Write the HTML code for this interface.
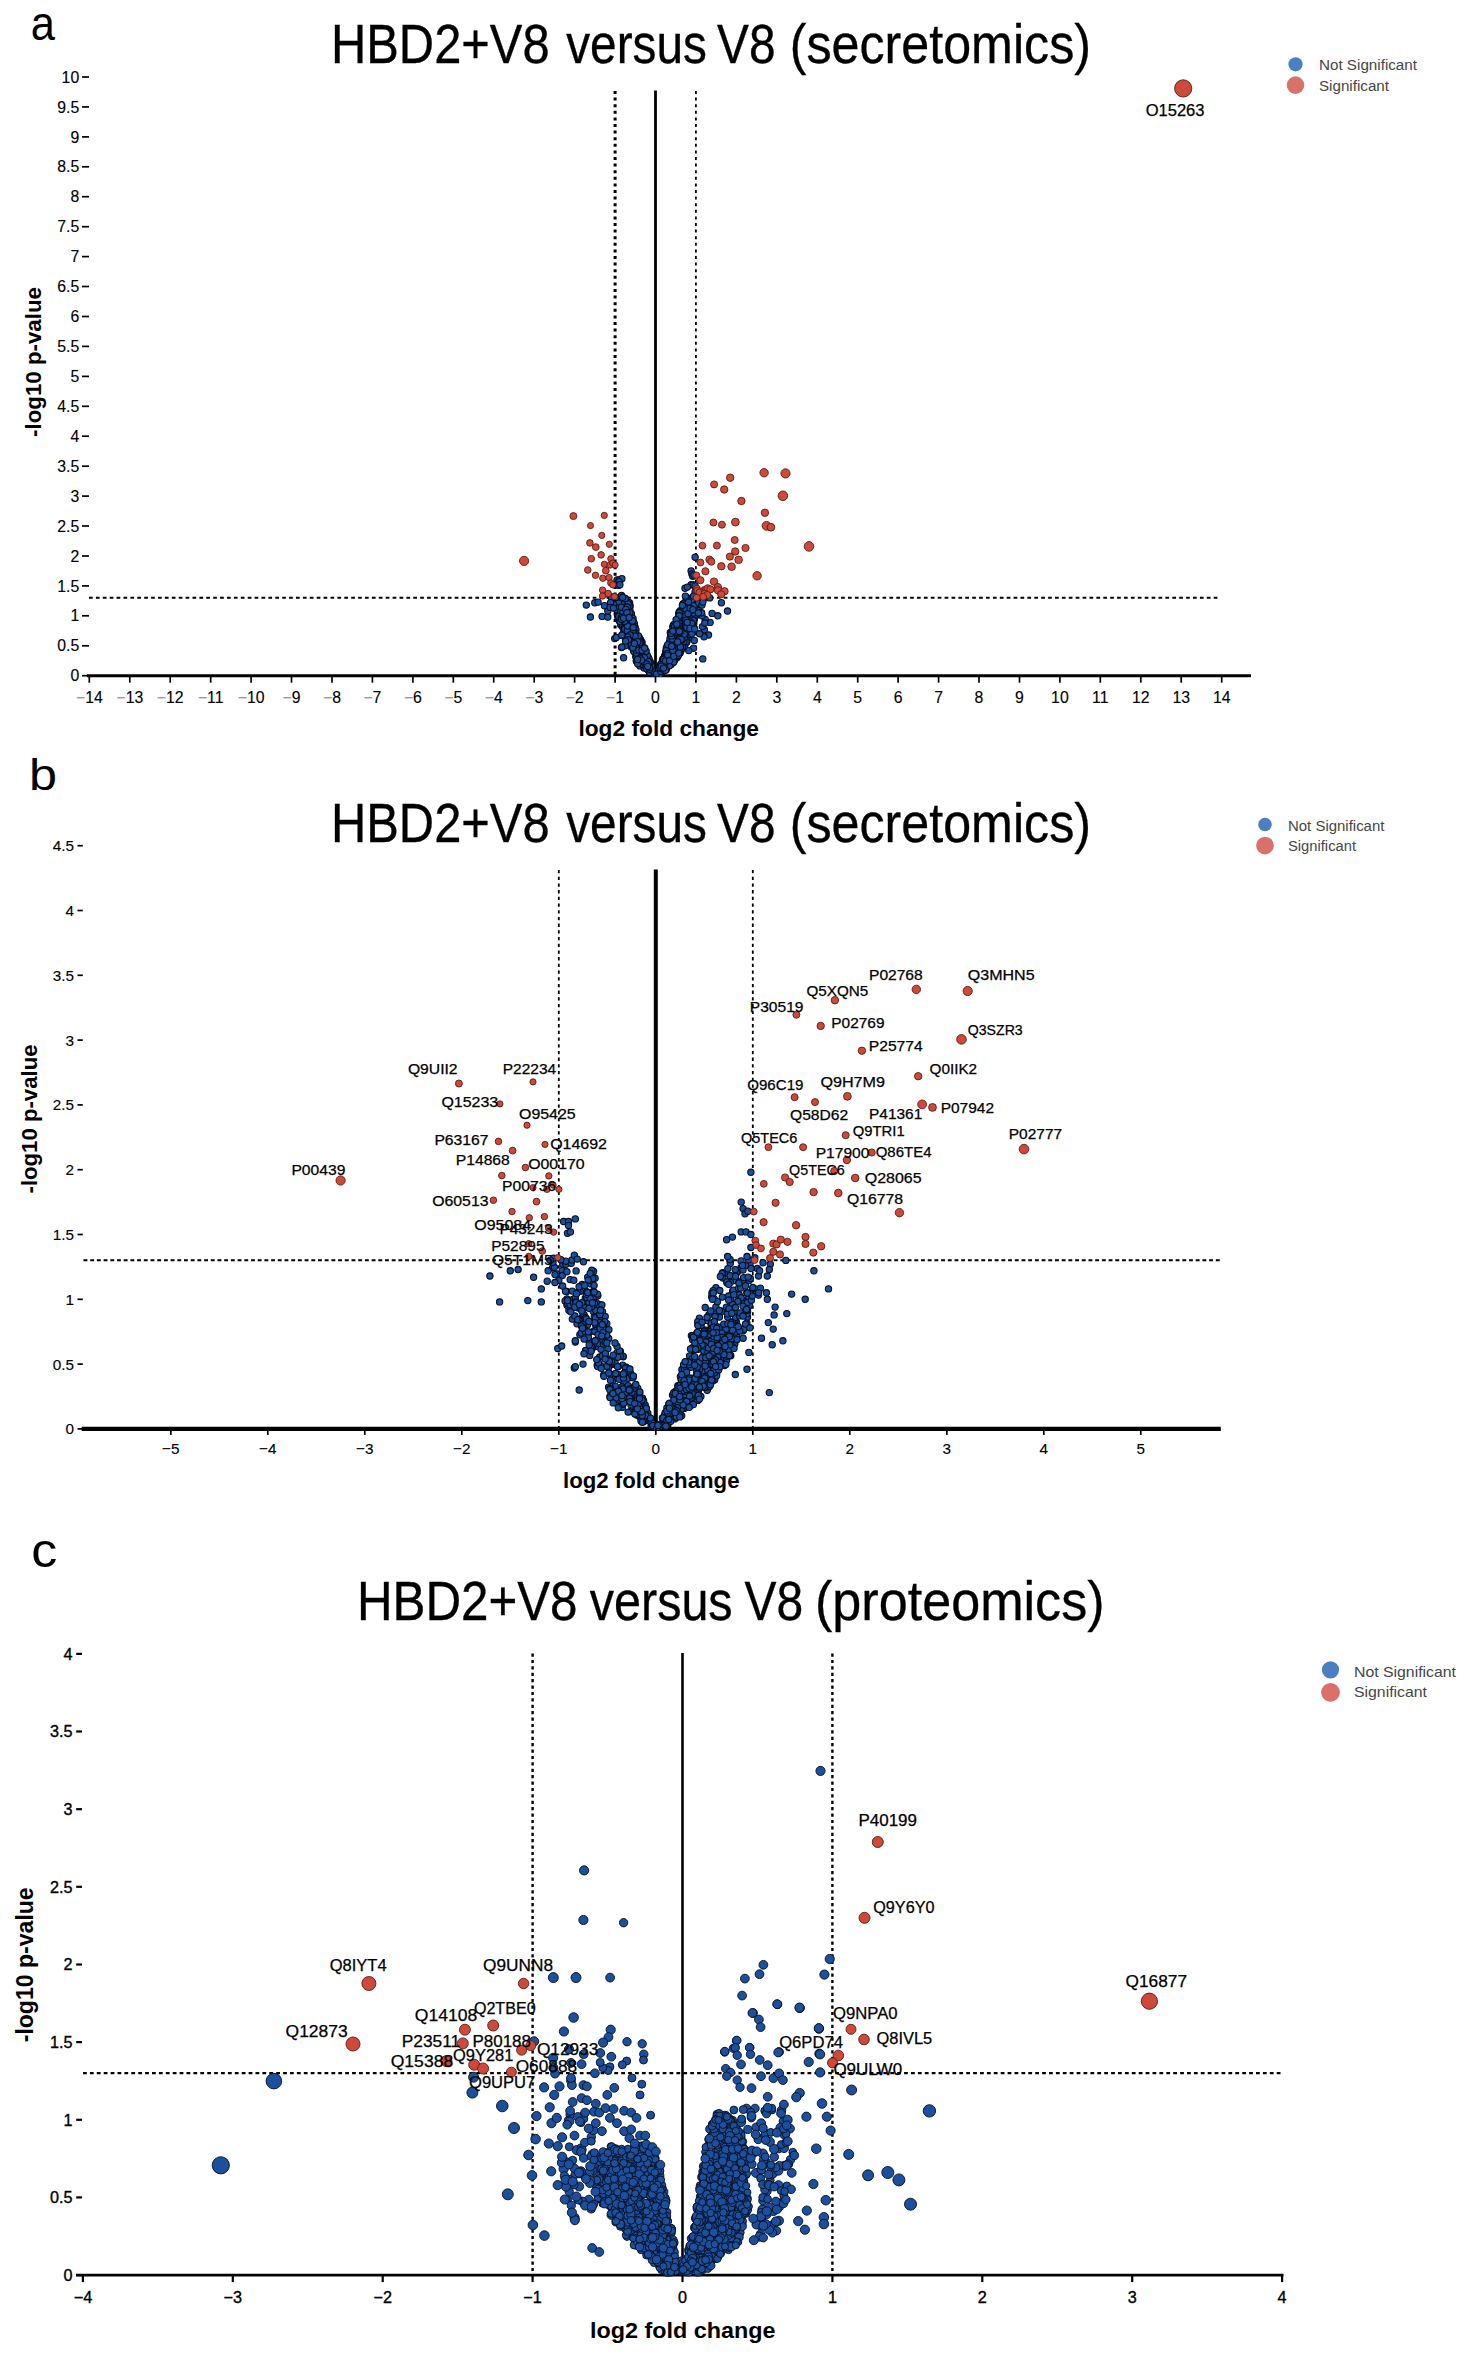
<!DOCTYPE html>
<html><head><meta charset="utf-8"><style>
html,body{margin:0;padding:0;background:#fff;}
svg text{font-family:"Liberation Sans", sans-serif;}
</style></head><body>
<svg width="1469" height="2362" viewBox="0 0 1469 2362" style="display:block">
<rect width="1469" height="2362" fill="#fff"/>
<defs><clipPath id="clipA"><rect x="0" y="0" width="1469" height="677.1"/></clipPath><clipPath id="clipB"><rect x="0" y="0" width="1469" height="1430.3"/></clipPath><clipPath id="clipC"><rect x="0" y="0" width="1469" height="2276.5"/></clipPath></defs>
<line x1="615.1" y1="91" x2="615.1" y2="675.7" stroke="#000" stroke-width="3" stroke-dasharray="3 3.6"/>
<line x1="695.9" y1="91" x2="695.9" y2="675.7" stroke="#000" stroke-width="1.8" stroke-dasharray="3 3.6"/>
<line x1="655.5" y1="90.5" x2="655.5" y2="675.7" stroke="#000" stroke-width="2.8"/>
<line x1="89" y1="597.8" x2="1220" y2="597.8" stroke="#000" stroke-width="2" stroke-dasharray="3.7 3.2"/>
<line x1="87" y1="675.7" x2="1251" y2="675.7" stroke="#000" stroke-width="2.9"/>
<line x1="558.8" y1="870" x2="558.8" y2="1428.9" stroke="#000" stroke-width="1.8" stroke-dasharray="3.3 3.4"/>
<line x1="752.8" y1="870" x2="752.8" y2="1428.9" stroke="#000" stroke-width="1.8" stroke-dasharray="3.3 3.4"/>
<line x1="655.8" y1="869.5" x2="655.8" y2="1428.9" stroke="#000" stroke-width="4"/>
<line x1="83.5" y1="1260.3" x2="1220" y2="1260.3" stroke="#000" stroke-width="2" stroke-dasharray="3.9 2.8"/>
<line x1="81.7" y1="1428.9" x2="1220.8" y2="1428.9" stroke="#000" stroke-width="4.3"/>
<line x1="532.6" y1="1653.5" x2="532.6" y2="2275.1" stroke="#000" stroke-width="2.4" stroke-dasharray="3.2 3.2"/>
<line x1="832.4" y1="1653.5" x2="832.4" y2="2275.1" stroke="#000" stroke-width="2.4" stroke-dasharray="3.2 3.2"/>
<line x1="682.5" y1="1653.0" x2="682.5" y2="2275.1" stroke="#000" stroke-width="2.6"/>
<line x1="83" y1="2073.1" x2="1282" y2="2073.1" stroke="#000" stroke-width="2.4" stroke-dasharray="3.8 3.1"/>
<line x1="76" y1="2275.1" x2="1283.5" y2="2275.1" stroke="#000" stroke-width="2.6"/>
<g clip-path="url(#clipA)" fill="#1c4f9c" stroke="#050f22" stroke-width="1.1"><circle cx="627.6" cy="639.9" r="3.15"/><circle cx="632.6" cy="638.9" r="3.15"/><circle cx="641.9" cy="661.1" r="3.15"/><circle cx="628.1" cy="613.0" r="3.15"/><circle cx="619.3" cy="620.9" r="3.15"/><circle cx="635.1" cy="627.1" r="3.15"/><circle cx="635.9" cy="633.9" r="3.15"/><circle cx="642.7" cy="656.6" r="3.15"/><circle cx="626.2" cy="639.6" r="3.15"/><circle cx="630.8" cy="619.8" r="3.15"/><circle cx="637.0" cy="652.9" r="3.15"/><circle cx="628.4" cy="608.7" r="3.15"/><circle cx="631.3" cy="614.2" r="3.15"/><circle cx="629.6" cy="615.8" r="3.15"/><circle cx="644.8" cy="667.7" r="3.15"/><circle cx="644.7" cy="661.7" r="3.15"/><circle cx="649.9" cy="666.5" r="3.15"/><circle cx="618.4" cy="612.2" r="3.15"/><circle cx="637.9" cy="659.0" r="3.15"/><circle cx="620.7" cy="625.0" r="3.15"/><circle cx="639.0" cy="658.8" r="3.15"/><circle cx="644.9" cy="649.7" r="3.15"/><circle cx="631.1" cy="646.3" r="3.15"/><circle cx="628.8" cy="607.2" r="3.15"/><circle cx="638.6" cy="656.0" r="3.15"/><circle cx="612.4" cy="601.4" r="3.15"/><circle cx="641.9" cy="642.4" r="3.15"/><circle cx="616.7" cy="599.6" r="3.15"/><circle cx="633.9" cy="628.6" r="3.15"/><circle cx="630.6" cy="618.8" r="3.15"/><circle cx="622.7" cy="627.2" r="3.15"/><circle cx="646.4" cy="659.6" r="3.15"/><circle cx="639.3" cy="640.5" r="3.15"/><circle cx="640.3" cy="665.3" r="3.15"/><circle cx="651.1" cy="664.6" r="3.15"/><circle cx="618.0" cy="599.6" r="3.15"/><circle cx="627.5" cy="626.3" r="3.15"/><circle cx="627.1" cy="627.6" r="3.15"/><circle cx="622.5" cy="618.2" r="3.15"/><circle cx="624.9" cy="629.8" r="3.15"/><circle cx="630.3" cy="637.7" r="3.15"/><circle cx="629.6" cy="603.0" r="3.15"/><circle cx="637.3" cy="659.7" r="3.15"/><circle cx="621.8" cy="623.5" r="3.15"/><circle cx="638.9" cy="660.0" r="3.15"/><circle cx="640.0" cy="650.7" r="3.15"/><circle cx="641.9" cy="653.8" r="3.15"/><circle cx="642.4" cy="654.0" r="3.15"/><circle cx="631.3" cy="626.2" r="3.15"/><circle cx="640.7" cy="639.9" r="3.15"/><circle cx="619.8" cy="606.7" r="3.15"/><circle cx="626.0" cy="630.6" r="3.15"/><circle cx="653.5" cy="674.2" r="3.15"/><circle cx="648.0" cy="656.9" r="3.15"/><circle cx="626.7" cy="626.0" r="3.15"/><circle cx="647.7" cy="659.9" r="3.15"/><circle cx="630.1" cy="619.3" r="3.15"/><circle cx="620.9" cy="615.9" r="3.15"/><circle cx="614.3" cy="604.1" r="3.15"/><circle cx="627.2" cy="618.6" r="3.15"/><circle cx="624.7" cy="624.2" r="3.15"/><circle cx="620.0" cy="619.0" r="3.15"/><circle cx="628.4" cy="637.2" r="3.15"/><circle cx="639.8" cy="662.0" r="3.15"/><circle cx="645.1" cy="664.6" r="3.15"/><circle cx="648.9" cy="668.9" r="3.15"/><circle cx="623.1" cy="625.2" r="3.15"/><circle cx="632.3" cy="631.4" r="3.15"/><circle cx="629.7" cy="630.4" r="3.15"/><circle cx="627.5" cy="634.9" r="3.15"/><circle cx="627.7" cy="631.2" r="3.15"/><circle cx="622.3" cy="602.7" r="3.15"/><circle cx="641.6" cy="665.7" r="3.15"/><circle cx="638.2" cy="650.6" r="3.15"/><circle cx="616.5" cy="602.6" r="3.15"/><circle cx="654.2" cy="673.9" r="3.15"/><circle cx="629.5" cy="621.4" r="3.15"/><circle cx="625.4" cy="626.7" r="3.15"/><circle cx="649.2" cy="666.0" r="3.15"/><circle cx="644.3" cy="660.1" r="3.15"/><circle cx="637.3" cy="646.0" r="3.15"/><circle cx="642.7" cy="663.1" r="3.15"/><circle cx="623.0" cy="625.2" r="3.15"/><circle cx="633.8" cy="650.7" r="3.15"/><circle cx="627.1" cy="605.6" r="3.15"/><circle cx="632.2" cy="618.3" r="3.15"/><circle cx="626.6" cy="613.3" r="3.15"/><circle cx="631.7" cy="621.5" r="3.15"/><circle cx="620.3" cy="599.2" r="3.15"/><circle cx="633.3" cy="621.5" r="3.15"/><circle cx="646.9" cy="667.3" r="3.15"/><circle cx="648.9" cy="664.1" r="3.15"/><circle cx="628.8" cy="602.4" r="3.15"/><circle cx="626.1" cy="615.3" r="3.15"/><circle cx="630.6" cy="635.0" r="3.15"/><circle cx="624.8" cy="609.0" r="3.15"/><circle cx="630.7" cy="617.3" r="3.15"/><circle cx="650.4" cy="662.7" r="3.15"/><circle cx="627.1" cy="626.0" r="3.15"/><circle cx="617.9" cy="612.1" r="3.15"/><circle cx="621.9" cy="615.2" r="3.15"/><circle cx="650.5" cy="670.1" r="3.15"/><circle cx="625.3" cy="623.1" r="3.15"/><circle cx="631.9" cy="630.7" r="3.15"/><circle cx="618.0" cy="598.2" r="3.15"/><circle cx="627.6" cy="617.3" r="3.15"/><circle cx="652.3" cy="671.7" r="3.15"/><circle cx="644.0" cy="667.9" r="3.15"/><circle cx="623.8" cy="632.2" r="3.15"/><circle cx="618.5" cy="615.7" r="3.15"/><circle cx="648.9" cy="663.1" r="3.15"/><circle cx="634.3" cy="642.5" r="3.15"/><circle cx="635.9" cy="646.8" r="3.15"/><circle cx="627.4" cy="631.4" r="3.15"/><circle cx="644.0" cy="652.3" r="3.15"/><circle cx="650.5" cy="672.3" r="3.15"/><circle cx="617.7" cy="616.6" r="3.15"/><circle cx="613.2" cy="601.1" r="3.15"/><circle cx="627.9" cy="641.8" r="3.15"/><circle cx="635.8" cy="656.4" r="3.15"/><circle cx="618.5" cy="618.6" r="3.15"/><circle cx="640.4" cy="639.7" r="3.15"/><circle cx="632.5" cy="634.0" r="3.15"/><circle cx="631.2" cy="622.9" r="3.15"/><circle cx="625.8" cy="629.7" r="3.15"/><circle cx="636.6" cy="656.9" r="3.15"/><circle cx="635.8" cy="647.3" r="3.15"/><circle cx="636.4" cy="660.7" r="3.15"/><circle cx="653.4" cy="672.6" r="3.15"/><circle cx="648.8" cy="670.0" r="3.15"/><circle cx="641.7" cy="646.2" r="3.15"/><circle cx="629.8" cy="609.4" r="3.15"/><circle cx="626.7" cy="614.9" r="3.15"/><circle cx="632.5" cy="646.5" r="3.15"/><circle cx="649.2" cy="669.5" r="3.15"/><circle cx="648.6" cy="669.7" r="3.15"/><circle cx="647.5" cy="669.2" r="3.15"/><circle cx="632.3" cy="620.9" r="3.15"/><circle cx="635.1" cy="646.7" r="3.15"/><circle cx="641.7" cy="651.6" r="3.15"/><circle cx="643.9" cy="656.1" r="3.15"/><circle cx="639.8" cy="647.0" r="3.15"/><circle cx="639.1" cy="660.3" r="3.15"/><circle cx="626.7" cy="631.2" r="3.15"/><circle cx="630.2" cy="606.1" r="3.15"/><circle cx="631.1" cy="634.9" r="3.15"/><circle cx="624.0" cy="612.1" r="3.15"/><circle cx="631.2" cy="613.4" r="3.15"/><circle cx="632.1" cy="624.4" r="3.15"/><circle cx="628.1" cy="615.3" r="3.15"/><circle cx="629.5" cy="636.7" r="3.15"/><circle cx="625.2" cy="625.1" r="3.15"/><circle cx="632.1" cy="642.5" r="3.15"/><circle cx="645.3" cy="662.5" r="3.15"/><circle cx="653.4" cy="671.0" r="3.15"/><circle cx="644.5" cy="661.5" r="3.15"/><circle cx="654.0" cy="672.8" r="3.15"/><circle cx="639.8" cy="658.5" r="3.15"/><circle cx="633.8" cy="628.7" r="3.15"/><circle cx="637.4" cy="653.5" r="3.15"/><circle cx="639.3" cy="637.6" r="3.15"/><circle cx="637.1" cy="645.3" r="3.15"/><circle cx="634.4" cy="623.7" r="3.15"/><circle cx="629.1" cy="638.3" r="3.15"/><circle cx="647.1" cy="663.3" r="3.15"/><circle cx="627.4" cy="633.5" r="3.15"/><circle cx="647.6" cy="669.2" r="3.15"/><circle cx="642.8" cy="659.2" r="3.15"/><circle cx="645.5" cy="651.1" r="3.15"/><circle cx="637.2" cy="651.5" r="3.15"/><circle cx="647.9" cy="667.3" r="3.15"/><circle cx="629.9" cy="624.0" r="3.15"/><circle cx="625.8" cy="619.6" r="3.15"/><circle cx="626.3" cy="639.5" r="3.15"/><circle cx="623.0" cy="612.5" r="3.15"/><circle cx="640.2" cy="652.8" r="3.15"/><circle cx="642.0" cy="652.1" r="3.15"/><circle cx="632.0" cy="623.0" r="3.15"/><circle cx="618.8" cy="617.9" r="3.15"/><circle cx="652.1" cy="668.4" r="3.15"/><circle cx="638.9" cy="661.5" r="3.15"/><circle cx="633.3" cy="628.9" r="3.15"/><circle cx="646.0" cy="663.3" r="3.15"/><circle cx="633.3" cy="642.0" r="3.15"/><circle cx="638.5" cy="645.2" r="3.15"/><circle cx="631.5" cy="627.6" r="3.15"/><circle cx="647.4" cy="667.3" r="3.15"/><circle cx="625.1" cy="627.4" r="3.15"/><circle cx="643.3" cy="647.8" r="3.15"/><circle cx="616.6" cy="609.7" r="3.15"/><circle cx="634.2" cy="626.1" r="3.15"/><circle cx="620.1" cy="620.6" r="3.15"/><circle cx="643.2" cy="647.2" r="3.15"/><circle cx="612.6" cy="598.8" r="3.15"/><circle cx="624.4" cy="631.4" r="3.15"/><circle cx="624.5" cy="628.2" r="3.15"/><circle cx="623.5" cy="610.0" r="3.15"/><circle cx="652.2" cy="669.7" r="3.15"/><circle cx="625.3" cy="623.7" r="3.15"/><circle cx="624.7" cy="617.4" r="3.15"/><circle cx="629.3" cy="612.2" r="3.15"/><circle cx="635.5" cy="638.7" r="3.15"/><circle cx="630.1" cy="630.7" r="3.15"/><circle cx="630.6" cy="628.3" r="3.15"/><circle cx="635.3" cy="643.4" r="3.15"/><circle cx="625.6" cy="634.2" r="3.15"/><circle cx="636.6" cy="650.4" r="3.15"/><circle cx="650.7" cy="670.2" r="3.15"/><circle cx="638.5" cy="636.0" r="3.15"/><circle cx="643.7" cy="656.8" r="3.15"/><circle cx="636.4" cy="657.1" r="3.15"/><circle cx="620.7" cy="612.1" r="3.15"/><circle cx="639.9" cy="665.9" r="3.15"/><circle cx="646.0" cy="652.0" r="3.15"/><circle cx="635.6" cy="644.3" r="3.15"/><circle cx="649.3" cy="672.1" r="3.15"/><circle cx="633.9" cy="651.4" r="3.15"/><circle cx="636.9" cy="659.4" r="3.15"/><circle cx="616.5" cy="604.8" r="3.15"/><circle cx="642.9" cy="647.7" r="3.15"/><circle cx="647.4" cy="659.7" r="3.15"/><circle cx="629.2" cy="606.1" r="3.15"/><circle cx="619.7" cy="618.3" r="3.15"/><circle cx="651.2" cy="669.5" r="3.15"/><circle cx="631.4" cy="619.5" r="3.15"/><circle cx="622.4" cy="613.2" r="3.15"/><circle cx="636.3" cy="657.6" r="3.15"/><circle cx="625.6" cy="623.0" r="3.15"/><circle cx="634.5" cy="640.9" r="3.15"/><circle cx="636.6" cy="653.2" r="3.15"/><circle cx="646.8" cy="668.8" r="3.15"/><circle cx="641.5" cy="656.3" r="3.15"/><circle cx="620.5" cy="597.6" r="3.15"/><circle cx="618.7" cy="616.4" r="3.15"/><circle cx="631.8" cy="636.2" r="3.15"/><circle cx="625.9" cy="624.7" r="3.15"/><circle cx="620.1" cy="621.6" r="3.15"/><circle cx="647.9" cy="662.6" r="3.15"/><circle cx="646.1" cy="657.1" r="3.15"/><circle cx="636.0" cy="629.9" r="3.15"/><circle cx="650.0" cy="661.5" r="3.15"/><circle cx="633.7" cy="636.5" r="3.15"/><circle cx="626.0" cy="630.7" r="3.15"/><circle cx="644.9" cy="656.9" r="3.15"/><circle cx="632.1" cy="626.6" r="3.15"/><circle cx="624.9" cy="629.2" r="3.15"/><circle cx="648.7" cy="662.1" r="3.15"/><circle cx="626.6" cy="613.5" r="3.15"/><circle cx="631.3" cy="646.9" r="3.15"/><circle cx="641.8" cy="664.3" r="3.15"/><circle cx="649.9" cy="672.6" r="3.15"/><circle cx="647.9" cy="664.5" r="3.15"/><circle cx="641.8" cy="642.2" r="3.15"/><circle cx="629.9" cy="617.7" r="3.15"/><circle cx="631.5" cy="632.1" r="3.15"/><circle cx="630.4" cy="627.4" r="3.15"/><circle cx="630.4" cy="624.3" r="3.15"/><circle cx="628.6" cy="639.1" r="3.15"/><circle cx="647.1" cy="658.7" r="3.15"/><circle cx="635.0" cy="632.3" r="3.15"/><circle cx="645.6" cy="658.8" r="3.15"/><circle cx="648.7" cy="659.5" r="3.15"/><circle cx="630.5" cy="621.1" r="3.15"/><circle cx="654.3" cy="674.2" r="3.15"/><circle cx="628.8" cy="619.2" r="3.15"/><circle cx="631.6" cy="645.3" r="3.15"/><circle cx="633.5" cy="634.7" r="3.15"/><circle cx="646.9" cy="656.9" r="3.15"/><circle cx="632.1" cy="628.6" r="3.15"/><circle cx="640.7" cy="642.2" r="3.15"/><circle cx="623.2" cy="619.9" r="3.15"/><circle cx="632.0" cy="623.1" r="3.15"/><circle cx="630.9" cy="643.7" r="3.15"/><circle cx="644.8" cy="657.8" r="3.15"/><circle cx="648.9" cy="658.6" r="3.15"/><circle cx="618.4" cy="603.1" r="3.15"/><circle cx="621.3" cy="607.1" r="3.15"/><circle cx="649.9" cy="668.6" r="3.15"/><circle cx="642.5" cy="649.8" r="3.15"/><circle cx="645.0" cy="663.2" r="3.15"/><circle cx="647.8" cy="662.5" r="3.15"/><circle cx="649.4" cy="668.3" r="3.15"/><circle cx="642.1" cy="663.8" r="3.15"/><circle cx="639.5" cy="646.9" r="3.15"/><circle cx="632.3" cy="629.4" r="3.15"/><circle cx="644.0" cy="655.7" r="3.15"/><circle cx="642.1" cy="661.0" r="3.15"/><circle cx="630.0" cy="626.6" r="3.15"/><circle cx="628.2" cy="603.8" r="3.15"/><circle cx="634.4" cy="635.6" r="3.15"/><circle cx="625.3" cy="598.5" r="3.15"/><circle cx="641.8" cy="657.2" r="3.15"/><circle cx="637.0" cy="644.6" r="3.15"/><circle cx="626.3" cy="624.3" r="3.15"/><circle cx="644.7" cy="663.1" r="3.15"/><circle cx="633.5" cy="631.1" r="3.15"/><circle cx="644.7" cy="657.0" r="3.15"/><circle cx="648.9" cy="661.6" r="3.15"/><circle cx="653.3" cy="670.7" r="3.15"/><circle cx="627.6" cy="620.0" r="3.15"/><circle cx="627.3" cy="607.0" r="3.15"/><circle cx="635.9" cy="649.9" r="3.15"/><circle cx="627.3" cy="630.9" r="3.15"/><circle cx="626.8" cy="612.4" r="3.15"/><circle cx="632.2" cy="622.8" r="3.15"/><circle cx="615.9" cy="597.6" r="3.15"/><circle cx="649.0" cy="666.3" r="3.15"/><circle cx="651.6" cy="666.2" r="3.15"/><circle cx="633.0" cy="632.8" r="3.15"/><circle cx="625.8" cy="609.4" r="3.15"/><circle cx="629.8" cy="612.5" r="3.15"/><circle cx="646.8" cy="655.8" r="3.15"/><circle cx="638.8" cy="650.1" r="3.15"/><circle cx="648.2" cy="664.3" r="3.15"/><circle cx="644.5" cy="657.7" r="3.15"/><circle cx="647.2" cy="655.2" r="3.15"/><circle cx="649.8" cy="669.5" r="3.15"/><circle cx="612.8" cy="596.9" r="3.15"/><circle cx="628.5" cy="637.4" r="3.15"/><circle cx="636.1" cy="644.4" r="3.15"/><circle cx="633.0" cy="618.4" r="3.15"/><circle cx="649.7" cy="662.4" r="3.15"/><circle cx="646.1" cy="651.2" r="3.15"/><circle cx="621.2" cy="617.6" r="3.15"/><circle cx="611.5" cy="597.8" r="3.15"/><circle cx="644.4" cy="657.7" r="3.15"/><circle cx="632.7" cy="647.7" r="3.15"/><circle cx="642.0" cy="650.3" r="3.15"/><circle cx="622.1" cy="617.1" r="3.15"/><circle cx="648.7" cy="661.7" r="3.15"/><circle cx="644.7" cy="648.0" r="3.15"/><circle cx="635.1" cy="636.0" r="3.15"/><circle cx="639.9" cy="658.3" r="3.15"/><circle cx="641.4" cy="661.6" r="3.15"/><circle cx="636.4" cy="661.2" r="3.15"/><circle cx="646.7" cy="664.0" r="3.15"/><circle cx="626.5" cy="624.8" r="3.15"/><circle cx="627.6" cy="626.0" r="3.15"/><circle cx="624.6" cy="621.2" r="3.15"/><circle cx="639.7" cy="642.6" r="3.15"/><circle cx="630.2" cy="635.0" r="3.15"/><circle cx="637.7" cy="663.7" r="3.15"/><circle cx="622.2" cy="617.4" r="3.15"/><circle cx="615.1" cy="607.1" r="3.15"/><circle cx="627.7" cy="636.9" r="3.15"/><circle cx="621.7" cy="619.5" r="3.15"/><circle cx="628.5" cy="639.8" r="3.15"/><circle cx="641.4" cy="660.2" r="3.15"/><circle cx="627.0" cy="612.7" r="3.15"/><circle cx="649.6" cy="667.8" r="3.15"/><circle cx="647.8" cy="666.4" r="3.15"/><circle cx="613.5" cy="604.4" r="3.15"/><circle cx="637.6" cy="659.4" r="3.15"/><circle cx="623.6" cy="618.2" r="3.15"/><circle cx="637.7" cy="641.7" r="3.15"/><circle cx="632.4" cy="620.8" r="3.15"/><circle cx="632.4" cy="620.9" r="3.15"/><circle cx="633.2" cy="627.5" r="3.15"/><circle cx="629.1" cy="617.5" r="3.15"/><circle cx="634.4" cy="643.4" r="3.15"/><circle cx="677.3" cy="642.6" r="3.15"/><circle cx="687.6" cy="618.8" r="3.15"/><circle cx="676.6" cy="639.5" r="3.15"/><circle cx="680.1" cy="653.0" r="3.15"/><circle cx="683.1" cy="621.4" r="3.15"/><circle cx="669.0" cy="655.4" r="3.15"/><circle cx="674.1" cy="628.0" r="3.15"/><circle cx="689.5" cy="603.2" r="3.15"/><circle cx="693.8" cy="621.6" r="3.15"/><circle cx="694.9" cy="598.9" r="3.15"/><circle cx="677.9" cy="637.8" r="3.15"/><circle cx="675.9" cy="650.2" r="3.15"/><circle cx="671.7" cy="643.3" r="3.15"/><circle cx="674.0" cy="645.8" r="3.15"/><circle cx="679.9" cy="615.7" r="3.15"/><circle cx="693.9" cy="615.7" r="3.15"/><circle cx="660.1" cy="666.0" r="3.15"/><circle cx="689.3" cy="603.3" r="3.15"/><circle cx="672.4" cy="632.4" r="3.15"/><circle cx="688.7" cy="611.9" r="3.15"/><circle cx="665.7" cy="665.2" r="3.15"/><circle cx="664.7" cy="655.8" r="3.15"/><circle cx="670.6" cy="658.1" r="3.15"/><circle cx="682.2" cy="633.3" r="3.15"/><circle cx="670.8" cy="642.3" r="3.15"/><circle cx="686.8" cy="618.1" r="3.15"/><circle cx="658.2" cy="673.4" r="3.15"/><circle cx="688.9" cy="607.2" r="3.15"/><circle cx="659.4" cy="669.4" r="3.15"/><circle cx="686.7" cy="636.2" r="3.15"/><circle cx="681.3" cy="643.8" r="3.15"/><circle cx="670.5" cy="654.8" r="3.15"/><circle cx="677.3" cy="637.2" r="3.15"/><circle cx="684.7" cy="639.3" r="3.15"/><circle cx="675.1" cy="631.4" r="3.15"/><circle cx="662.1" cy="667.7" r="3.15"/><circle cx="683.8" cy="636.6" r="3.15"/><circle cx="677.1" cy="636.3" r="3.15"/><circle cx="694.2" cy="597.6" r="3.15"/><circle cx="678.5" cy="627.4" r="3.15"/><circle cx="674.3" cy="650.2" r="3.15"/><circle cx="678.8" cy="614.8" r="3.15"/><circle cx="675.9" cy="655.3" r="3.15"/><circle cx="680.4" cy="643.2" r="3.15"/><circle cx="693.7" cy="624.1" r="3.15"/><circle cx="686.8" cy="641.9" r="3.15"/><circle cx="697.8" cy="601.6" r="3.15"/><circle cx="675.0" cy="645.2" r="3.15"/><circle cx="667.4" cy="666.2" r="3.15"/><circle cx="664.9" cy="669.9" r="3.15"/><circle cx="662.8" cy="666.5" r="3.15"/><circle cx="691.0" cy="601.2" r="3.15"/><circle cx="677.3" cy="637.5" r="3.15"/><circle cx="684.2" cy="645.2" r="3.15"/><circle cx="676.8" cy="635.8" r="3.15"/><circle cx="693.4" cy="612.8" r="3.15"/><circle cx="663.8" cy="662.2" r="3.15"/><circle cx="672.4" cy="647.7" r="3.15"/><circle cx="680.1" cy="627.9" r="3.15"/><circle cx="675.1" cy="646.7" r="3.15"/><circle cx="680.6" cy="619.3" r="3.15"/><circle cx="676.6" cy="654.9" r="3.15"/><circle cx="674.9" cy="645.2" r="3.15"/><circle cx="673.2" cy="638.9" r="3.15"/><circle cx="683.2" cy="614.8" r="3.15"/><circle cx="694.4" cy="607.2" r="3.15"/><circle cx="678.1" cy="629.8" r="3.15"/><circle cx="670.3" cy="658.0" r="3.15"/><circle cx="689.1" cy="626.4" r="3.15"/><circle cx="694.3" cy="617.6" r="3.15"/><circle cx="681.2" cy="617.0" r="3.15"/><circle cx="667.7" cy="655.2" r="3.15"/><circle cx="663.2" cy="665.1" r="3.15"/><circle cx="672.9" cy="652.7" r="3.15"/><circle cx="698.3" cy="605.1" r="3.15"/><circle cx="689.2" cy="632.5" r="3.15"/><circle cx="678.9" cy="613.0" r="3.15"/><circle cx="687.5" cy="612.1" r="3.15"/><circle cx="675.9" cy="630.0" r="3.15"/><circle cx="700.2" cy="598.9" r="3.15"/><circle cx="693.5" cy="622.6" r="3.15"/><circle cx="662.5" cy="670.2" r="3.15"/><circle cx="680.3" cy="633.6" r="3.15"/><circle cx="666.3" cy="660.8" r="3.15"/><circle cx="683.3" cy="635.4" r="3.15"/><circle cx="669.6" cy="642.0" r="3.15"/><circle cx="688.4" cy="636.3" r="3.15"/><circle cx="677.1" cy="630.3" r="3.15"/><circle cx="692.9" cy="600.3" r="3.15"/><circle cx="686.5" cy="598.2" r="3.15"/><circle cx="660.5" cy="673.8" r="3.15"/><circle cx="680.6" cy="610.4" r="3.15"/><circle cx="666.5" cy="648.6" r="3.15"/><circle cx="689.8" cy="613.4" r="3.15"/><circle cx="683.6" cy="633.2" r="3.15"/><circle cx="685.8" cy="638.9" r="3.15"/><circle cx="664.7" cy="661.5" r="3.15"/><circle cx="677.4" cy="648.8" r="3.15"/><circle cx="668.0" cy="654.7" r="3.15"/><circle cx="686.5" cy="604.8" r="3.15"/><circle cx="677.4" cy="651.3" r="3.15"/><circle cx="686.1" cy="632.0" r="3.15"/><circle cx="669.8" cy="655.9" r="3.15"/><circle cx="676.9" cy="652.5" r="3.15"/><circle cx="684.1" cy="645.0" r="3.15"/><circle cx="670.6" cy="664.1" r="3.15"/><circle cx="686.5" cy="599.3" r="3.15"/><circle cx="671.1" cy="639.0" r="3.15"/><circle cx="660.9" cy="669.9" r="3.15"/><circle cx="658.6" cy="671.7" r="3.15"/><circle cx="686.1" cy="632.0" r="3.15"/><circle cx="659.2" cy="669.1" r="3.15"/><circle cx="667.8" cy="662.7" r="3.15"/><circle cx="687.3" cy="638.1" r="3.15"/><circle cx="696.8" cy="596.7" r="3.15"/><circle cx="670.7" cy="643.3" r="3.15"/><circle cx="665.7" cy="658.6" r="3.15"/><circle cx="677.7" cy="622.9" r="3.15"/><circle cx="660.8" cy="672.3" r="3.15"/><circle cx="678.2" cy="645.8" r="3.15"/><circle cx="680.9" cy="650.1" r="3.15"/><circle cx="683.0" cy="628.7" r="3.15"/><circle cx="686.5" cy="638.5" r="3.15"/><circle cx="673.0" cy="662.6" r="3.15"/><circle cx="676.7" cy="652.4" r="3.15"/><circle cx="675.8" cy="652.7" r="3.15"/><circle cx="675.1" cy="647.6" r="3.15"/><circle cx="676.1" cy="645.1" r="3.15"/><circle cx="674.2" cy="654.0" r="3.15"/><circle cx="678.4" cy="638.3" r="3.15"/><circle cx="688.2" cy="636.8" r="3.15"/><circle cx="666.1" cy="653.1" r="3.15"/><circle cx="695.9" cy="611.0" r="3.15"/><circle cx="697.4" cy="611.2" r="3.15"/><circle cx="680.4" cy="635.0" r="3.15"/><circle cx="685.6" cy="636.7" r="3.15"/><circle cx="673.3" cy="635.0" r="3.15"/><circle cx="680.8" cy="651.2" r="3.15"/><circle cx="688.6" cy="625.4" r="3.15"/><circle cx="676.1" cy="635.9" r="3.15"/><circle cx="660.3" cy="673.8" r="3.15"/><circle cx="675.1" cy="634.0" r="3.15"/><circle cx="675.1" cy="648.8" r="3.15"/><circle cx="686.2" cy="636.3" r="3.15"/><circle cx="685.5" cy="632.4" r="3.15"/><circle cx="672.5" cy="655.5" r="3.15"/><circle cx="664.8" cy="656.2" r="3.15"/><circle cx="682.1" cy="624.0" r="3.15"/><circle cx="677.3" cy="656.7" r="3.15"/><circle cx="667.1" cy="665.8" r="3.15"/><circle cx="685.6" cy="633.0" r="3.15"/><circle cx="661.5" cy="671.1" r="3.15"/><circle cx="692.5" cy="617.0" r="3.15"/><circle cx="670.9" cy="638.8" r="3.15"/><circle cx="684.1" cy="603.9" r="3.15"/><circle cx="676.4" cy="640.3" r="3.15"/><circle cx="680.5" cy="643.1" r="3.15"/><circle cx="688.1" cy="625.9" r="3.15"/><circle cx="665.2" cy="665.3" r="3.15"/><circle cx="657.9" cy="674.3" r="3.15"/><circle cx="687.6" cy="637.8" r="3.15"/><circle cx="693.0" cy="628.2" r="3.15"/><circle cx="662.2" cy="666.0" r="3.15"/><circle cx="684.6" cy="642.5" r="3.15"/><circle cx="674.9" cy="646.1" r="3.15"/><circle cx="672.5" cy="650.2" r="3.15"/><circle cx="685.7" cy="638.9" r="3.15"/><circle cx="686.1" cy="639.0" r="3.15"/><circle cx="681.6" cy="643.3" r="3.15"/><circle cx="688.3" cy="621.6" r="3.15"/><circle cx="690.3" cy="613.8" r="3.15"/><circle cx="676.9" cy="657.8" r="3.15"/><circle cx="680.6" cy="644.1" r="3.15"/><circle cx="686.5" cy="628.9" r="3.15"/><circle cx="691.9" cy="630.3" r="3.15"/><circle cx="681.5" cy="629.9" r="3.15"/><circle cx="679.4" cy="641.8" r="3.15"/><circle cx="688.1" cy="638.5" r="3.15"/><circle cx="664.1" cy="669.6" r="3.15"/><circle cx="673.6" cy="645.0" r="3.15"/><circle cx="677.8" cy="632.3" r="3.15"/><circle cx="680.5" cy="622.6" r="3.15"/><circle cx="665.7" cy="655.5" r="3.15"/><circle cx="686.7" cy="616.0" r="3.15"/><circle cx="692.7" cy="619.5" r="3.15"/><circle cx="694.9" cy="606.2" r="3.15"/><circle cx="694.2" cy="619.2" r="3.15"/><circle cx="667.2" cy="658.0" r="3.15"/><circle cx="692.3" cy="629.6" r="3.15"/><circle cx="671.7" cy="657.6" r="3.15"/><circle cx="673.7" cy="648.1" r="3.15"/><circle cx="682.0" cy="621.0" r="3.15"/><circle cx="694.5" cy="618.6" r="3.15"/><circle cx="688.8" cy="605.2" r="3.15"/><circle cx="672.4" cy="631.8" r="3.15"/><circle cx="683.5" cy="606.0" r="3.15"/><circle cx="669.9" cy="661.4" r="3.15"/><circle cx="685.0" cy="619.5" r="3.15"/><circle cx="670.6" cy="652.3" r="3.15"/><circle cx="671.8" cy="646.6" r="3.15"/><circle cx="668.8" cy="654.6" r="3.15"/><circle cx="674.4" cy="627.8" r="3.15"/><circle cx="687.5" cy="634.3" r="3.15"/><circle cx="677.0" cy="635.2" r="3.15"/><circle cx="679.9" cy="635.0" r="3.15"/><circle cx="683.4" cy="603.6" r="3.15"/><circle cx="678.6" cy="651.4" r="3.15"/><circle cx="676.9" cy="625.6" r="3.15"/><circle cx="684.1" cy="643.6" r="3.15"/><circle cx="685.1" cy="608.2" r="3.15"/><circle cx="687.1" cy="634.1" r="3.15"/><circle cx="657.7" cy="674.6" r="3.15"/><circle cx="685.5" cy="624.0" r="3.15"/><circle cx="681.4" cy="628.6" r="3.15"/><circle cx="670.3" cy="658.2" r="3.15"/><circle cx="677.1" cy="648.5" r="3.15"/><circle cx="659.2" cy="674.3" r="3.15"/><circle cx="673.2" cy="658.4" r="3.15"/><circle cx="684.2" cy="630.5" r="3.15"/><circle cx="663.4" cy="671.1" r="3.15"/><circle cx="661.0" cy="664.3" r="3.15"/><circle cx="672.8" cy="662.5" r="3.15"/><circle cx="680.0" cy="649.7" r="3.15"/><circle cx="674.3" cy="660.7" r="3.15"/><circle cx="677.0" cy="656.3" r="3.15"/><circle cx="678.3" cy="621.2" r="3.15"/><circle cx="675.7" cy="656.5" r="3.15"/><circle cx="676.2" cy="644.7" r="3.15"/><circle cx="668.3" cy="644.7" r="3.15"/><circle cx="669.6" cy="645.7" r="3.15"/><circle cx="668.0" cy="661.1" r="3.15"/><circle cx="674.1" cy="656.4" r="3.15"/><circle cx="659.4" cy="673.0" r="3.15"/><circle cx="693.7" cy="617.3" r="3.15"/><circle cx="661.3" cy="663.8" r="3.15"/><circle cx="668.1" cy="644.9" r="3.15"/><circle cx="685.6" cy="601.6" r="3.15"/><circle cx="666.7" cy="652.5" r="3.15"/><circle cx="664.6" cy="659.5" r="3.15"/><circle cx="665.9" cy="662.1" r="3.15"/><circle cx="678.9" cy="634.6" r="3.15"/><circle cx="662.5" cy="660.1" r="3.15"/><circle cx="685.0" cy="644.0" r="3.15"/><circle cx="667.9" cy="665.0" r="3.15"/><circle cx="683.6" cy="645.6" r="3.15"/><circle cx="658.8" cy="672.4" r="3.15"/><circle cx="672.8" cy="660.7" r="3.15"/><circle cx="698.4" cy="613.8" r="3.15"/><circle cx="684.1" cy="646.4" r="3.15"/><circle cx="691.1" cy="598.1" r="3.15"/><circle cx="687.5" cy="630.1" r="3.15"/><circle cx="674.3" cy="653.1" r="3.15"/><circle cx="673.2" cy="660.2" r="3.15"/><circle cx="670.2" cy="646.2" r="3.15"/><circle cx="691.7" cy="607.1" r="3.15"/><circle cx="666.4" cy="648.3" r="3.15"/><circle cx="688.8" cy="624.2" r="3.15"/><circle cx="673.7" cy="656.9" r="3.15"/><circle cx="675.5" cy="641.7" r="3.15"/><circle cx="671.8" cy="638.3" r="3.15"/><circle cx="664.6" cy="659.3" r="3.15"/><circle cx="686.4" cy="597.5" r="3.15"/><circle cx="678.6" cy="645.6" r="3.15"/><circle cx="656.7" cy="673.6" r="3.15"/><circle cx="667.4" cy="662.6" r="3.15"/><circle cx="688.8" cy="630.9" r="3.15"/><circle cx="673.7" cy="624.6" r="3.15"/><circle cx="680.7" cy="637.2" r="3.15"/><circle cx="670.8" cy="634.5" r="3.15"/><circle cx="687.8" cy="611.6" r="3.15"/><circle cx="678.5" cy="636.6" r="3.15"/><circle cx="665.6" cy="663.5" r="3.15"/><circle cx="675.5" cy="639.8" r="3.15"/><circle cx="683.1" cy="603.9" r="3.15"/><circle cx="670.0" cy="665.0" r="3.15"/><circle cx="691.1" cy="615.2" r="3.15"/><circle cx="671.0" cy="658.4" r="3.15"/><circle cx="679.7" cy="648.6" r="3.15"/><circle cx="666.0" cy="666.9" r="3.15"/><circle cx="679.4" cy="611.8" r="3.15"/><circle cx="678.7" cy="626.9" r="3.15"/><circle cx="695.2" cy="601.6" r="3.15"/><circle cx="671.2" cy="664.4" r="3.15"/><circle cx="692.1" cy="605.8" r="3.15"/><circle cx="678.4" cy="650.0" r="3.15"/><circle cx="685.8" cy="614.3" r="3.15"/><circle cx="670.8" cy="638.2" r="3.15"/><circle cx="676.4" cy="635.6" r="3.15"/><circle cx="684.7" cy="645.9" r="3.15"/><circle cx="687.6" cy="626.8" r="3.15"/><circle cx="674.7" cy="642.8" r="3.15"/><circle cx="680.0" cy="642.5" r="3.15"/><circle cx="681.6" cy="647.2" r="3.15"/><circle cx="680.2" cy="623.8" r="3.15"/><circle cx="669.7" cy="645.1" r="3.15"/><circle cx="665.3" cy="668.9" r="3.15"/><circle cx="670.1" cy="647.2" r="3.15"/><circle cx="669.4" cy="652.2" r="3.15"/><circle cx="689.7" cy="616.8" r="3.15"/><circle cx="663.2" cy="660.2" r="3.15"/><circle cx="673.1" cy="627.3" r="3.15"/><circle cx="686.6" cy="641.7" r="3.15"/><circle cx="662.9" cy="667.8" r="3.15"/><circle cx="690.4" cy="623.5" r="3.15"/><circle cx="685.6" cy="621.6" r="3.15"/><circle cx="681.3" cy="642.3" r="3.15"/><circle cx="659.4" cy="668.2" r="3.15"/><circle cx="673.3" cy="650.7" r="3.15"/><circle cx="687.5" cy="630.1" r="3.15"/><circle cx="690.0" cy="610.8" r="3.15"/><circle cx="664.2" cy="670.1" r="3.15"/><circle cx="671.7" cy="642.3" r="3.15"/><circle cx="681.8" cy="638.3" r="3.15"/><circle cx="661.4" cy="667.1" r="3.15"/><circle cx="670.3" cy="632.6" r="3.15"/><circle cx="682.3" cy="645.0" r="3.15"/><circle cx="662.3" cy="666.0" r="3.15"/><circle cx="675.8" cy="637.4" r="3.15"/><circle cx="677.2" cy="640.4" r="3.15"/><circle cx="679.3" cy="645.8" r="3.15"/><circle cx="687.6" cy="618.2" r="3.15"/><circle cx="665.0" cy="664.0" r="3.15"/><circle cx="668.2" cy="646.7" r="3.15"/><circle cx="686.6" cy="608.0" r="3.15"/><circle cx="669.4" cy="645.9" r="3.15"/><circle cx="669.2" cy="644.8" r="3.15"/><circle cx="682.2" cy="611.8" r="3.15"/><circle cx="685.8" cy="616.1" r="3.15"/><circle cx="680.8" cy="647.0" r="3.15"/><circle cx="664.5" cy="665.9" r="3.15"/><circle cx="659.3" cy="671.6" r="3.15"/><circle cx="664.1" cy="669.9" r="3.15"/><circle cx="667.4" cy="648.2" r="3.15"/><circle cx="682.1" cy="631.5" r="3.15"/><circle cx="675.9" cy="652.2" r="3.15"/><circle cx="672.6" cy="648.6" r="3.15"/><circle cx="669.0" cy="653.9" r="3.15"/><circle cx="665.8" cy="651.6" r="3.15"/><circle cx="686.4" cy="636.8" r="3.15"/><circle cx="676.0" cy="646.6" r="3.15"/><circle cx="660.3" cy="673.8" r="3.15"/><circle cx="677.9" cy="630.7" r="3.15"/><circle cx="680.8" cy="632.6" r="3.15"/><circle cx="691.9" cy="602.3" r="3.15"/><circle cx="663.0" cy="662.4" r="3.15"/><circle cx="695.4" cy="616.3" r="3.15"/><circle cx="679.5" cy="612.9" r="3.15"/><circle cx="679.6" cy="633.0" r="3.15"/><circle cx="681.8" cy="648.4" r="3.15"/><circle cx="691.6" cy="600.2" r="3.15"/><circle cx="663.6" cy="666.8" r="3.15"/><circle cx="680.5" cy="637.5" r="3.15"/><circle cx="669.7" cy="657.2" r="3.15"/><circle cx="667.1" cy="650.5" r="3.15"/><circle cx="685.1" cy="607.7" r="3.15"/><circle cx="674.8" cy="653.8" r="3.15"/><circle cx="668.3" cy="649.5" r="3.15"/><circle cx="661.7" cy="672.2" r="3.15"/><circle cx="688.7" cy="619.6" r="3.15"/><circle cx="677.5" cy="638.3" r="3.15"/><circle cx="663.4" cy="666.9" r="3.15"/><circle cx="667.0" cy="655.9" r="3.15"/><circle cx="685.3" cy="642.1" r="3.15"/><circle cx="693.3" cy="621.0" r="3.15"/><circle cx="679.9" cy="626.1" r="3.15"/><circle cx="673.0" cy="626.2" r="3.15"/><circle cx="680.3" cy="643.8" r="3.15"/><circle cx="662.8" cy="667.8" r="3.15"/><circle cx="665.2" cy="659.9" r="3.15"/><circle cx="674.4" cy="636.2" r="3.15"/><circle cx="677.2" cy="632.5" r="3.15"/><circle cx="679.2" cy="615.8" r="3.15"/><circle cx="668.4" cy="662.9" r="3.15"/><circle cx="693.5" cy="626.8" r="3.15"/><circle cx="689.4" cy="634.4" r="3.15"/><circle cx="679.6" cy="644.6" r="3.15"/><circle cx="668.7" cy="654.7" r="3.15"/><circle cx="686.8" cy="626.6" r="3.15"/><circle cx="666.3" cy="669.6" r="3.15"/><circle cx="686.1" cy="633.1" r="3.15"/><circle cx="681.9" cy="639.6" r="3.15"/><circle cx="691.9" cy="619.0" r="3.15"/><circle cx="682.6" cy="628.9" r="3.15"/><circle cx="678.7" cy="653.4" r="3.15"/><circle cx="667.1" cy="646.1" r="3.15"/><circle cx="658.3" cy="670.7" r="3.15"/><circle cx="665.6" cy="656.8" r="3.15"/><circle cx="686.2" cy="641.8" r="3.15"/><circle cx="670.8" cy="632.7" r="3.15"/><circle cx="678.0" cy="655.9" r="3.15"/><circle cx="677.8" cy="632.0" r="3.15"/><circle cx="688.6" cy="602.1" r="3.15"/><circle cx="672.8" cy="647.1" r="3.15"/><circle cx="670.7" cy="659.2" r="3.15"/><circle cx="685.4" cy="622.5" r="3.15"/><circle cx="695.9" cy="610.4" r="3.15"/><circle cx="675.4" cy="656.0" r="3.15"/><circle cx="669.8" cy="657.6" r="3.15"/><circle cx="666.2" cy="653.0" r="3.15"/><circle cx="676.1" cy="619.6" r="3.15"/><circle cx="655.9" cy="675.4" r="3.15"/><circle cx="681.5" cy="637.2" r="3.15"/><circle cx="666.9" cy="664.6" r="3.15"/><circle cx="685.9" cy="608.9" r="3.15"/><circle cx="661.1" cy="664.1" r="3.15"/><circle cx="663.8" cy="658.2" r="3.15"/><circle cx="665.5" cy="669.2" r="3.15"/><circle cx="670.0" cy="638.7" r="3.15"/><circle cx="676.3" cy="642.7" r="3.15"/><circle cx="658.5" cy="670.6" r="3.15"/><circle cx="683.9" cy="641.4" r="3.15"/><circle cx="676.4" cy="631.0" r="3.15"/><circle cx="660.1" cy="671.8" r="3.15"/><circle cx="673.1" cy="627.9" r="3.15"/><circle cx="690.5" cy="630.5" r="3.15"/><circle cx="663.0" cy="659.0" r="3.15"/><circle cx="682.4" cy="605.3" r="3.15"/><circle cx="684.4" cy="629.1" r="3.15"/><circle cx="669.2" cy="653.1" r="3.15"/><circle cx="695.7" cy="614.3" r="3.15"/><circle cx="685.4" cy="628.6" r="3.15"/><circle cx="666.2" cy="650.6" r="3.15"/><circle cx="674.8" cy="626.4" r="3.15"/><circle cx="693.7" cy="612.9" r="3.15"/><circle cx="679.2" cy="653.6" r="3.15"/><circle cx="679.6" cy="628.6" r="3.15"/><circle cx="684.7" cy="629.6" r="3.15"/><circle cx="668.3" cy="657.5" r="3.15"/><circle cx="683.0" cy="631.5" r="3.15"/><circle cx="675.7" cy="630.6" r="3.15"/><circle cx="669.4" cy="665.7" r="3.15"/><circle cx="680.9" cy="629.2" r="3.15"/><circle cx="661.1" cy="668.8" r="3.15"/><circle cx="663.6" cy="659.3" r="3.15"/><circle cx="682.8" cy="633.4" r="3.15"/><circle cx="674.8" cy="636.9" r="3.15"/><circle cx="673.0" cy="638.2" r="3.15"/><circle cx="671.8" cy="652.4" r="3.15"/><circle cx="667.8" cy="644.6" r="3.15"/><circle cx="679.8" cy="640.4" r="3.15"/><circle cx="665.6" cy="662.3" r="3.15"/><circle cx="673.7" cy="662.0" r="3.15"/><circle cx="676.8" cy="624.2" r="3.15"/><circle cx="682.2" cy="646.9" r="3.15"/><circle cx="684.4" cy="637.6" r="3.15"/><circle cx="692.9" cy="627.3" r="3.15"/><circle cx="683.9" cy="627.3" r="3.15"/><circle cx="694.0" cy="605.6" r="3.15"/><circle cx="672.3" cy="636.3" r="3.15"/><circle cx="669.3" cy="657.0" r="3.15"/><circle cx="685.6" cy="627.1" r="3.15"/><circle cx="699.1" cy="610.7" r="3.15"/><circle cx="675.7" cy="631.5" r="3.15"/><circle cx="693.3" cy="620.4" r="3.15"/><circle cx="679.4" cy="640.3" r="3.15"/><circle cx="681.1" cy="633.4" r="3.15"/><circle cx="659.7" cy="674.4" r="3.15"/><circle cx="667.3" cy="653.4" r="3.15"/><circle cx="656.4" cy="674.1" r="3.15"/><circle cx="660.9" cy="671.4" r="3.15"/><circle cx="670.5" cy="656.3" r="3.15"/><circle cx="678.7" cy="636.7" r="3.15"/><circle cx="690.9" cy="610.6" r="3.15"/><circle cx="660.6" cy="668.3" r="3.15"/><circle cx="673.9" cy="634.8" r="3.15"/><circle cx="672.2" cy="638.9" r="3.15"/><circle cx="660.1" cy="667.4" r="3.15"/><circle cx="675.7" cy="631.9" r="3.15"/><circle cx="682.0" cy="639.7" r="3.15"/><circle cx="664.2" cy="667.3" r="3.15"/><circle cx="665.5" cy="660.8" r="3.15"/><circle cx="671.8" cy="635.9" r="3.15"/><circle cx="686.0" cy="620.1" r="3.15"/><circle cx="680.4" cy="646.9" r="3.15"/><circle cx="684.3" cy="634.3" r="3.15"/><circle cx="667.7" cy="655.2" r="3.15"/><circle cx="686.8" cy="627.4" r="3.15"/><circle cx="680.8" cy="631.2" r="3.15"/><circle cx="678.3" cy="655.3" r="3.15"/><circle cx="661.2" cy="666.1" r="3.15"/><circle cx="690.6" cy="622.1" r="3.15"/><circle cx="664.1" cy="670.2" r="3.15"/><circle cx="688.0" cy="613.7" r="3.15"/><circle cx="671.3" cy="633.3" r="3.15"/><circle cx="669.6" cy="660.5" r="3.15"/><circle cx="679.6" cy="638.5" r="3.15"/><circle cx="691.8" cy="623.5" r="3.15"/><circle cx="672.8" cy="631.1" r="3.15"/><circle cx="687.2" cy="622.3" r="3.15"/><circle cx="679.4" cy="631.3" r="3.15"/><circle cx="673.7" cy="656.3" r="3.15"/><circle cx="672.8" cy="650.3" r="3.15"/><circle cx="681.1" cy="639.4" r="3.15"/><circle cx="677.7" cy="641.9" r="3.15"/><circle cx="671.7" cy="646.3" r="3.15"/><circle cx="678.8" cy="653.1" r="3.15"/><circle cx="665.5" cy="670.2" r="3.15"/><circle cx="690.1" cy="608.3" r="3.15"/><circle cx="663.5" cy="668.1" r="3.15"/><circle cx="692.9" cy="609.7" r="3.15"/><circle cx="586.3" cy="605.1" r="3.15"/><circle cx="590.4" cy="617.0" r="3.15"/><circle cx="594.8" cy="602.7" r="3.15"/><circle cx="598.1" cy="602.1" r="3.15"/><circle cx="602.1" cy="616.4" r="3.15"/><circle cx="604.5" cy="605.7" r="3.15"/><circle cx="607.8" cy="617.0" r="3.15"/><circle cx="607.8" cy="611.0" r="3.15"/><circle cx="610.6" cy="602.7" r="3.15"/><circle cx="610.2" cy="607.4" r="3.15"/><circle cx="613.4" cy="608.0" r="3.15"/><circle cx="614.7" cy="638.6" r="3.15"/><circle cx="616.3" cy="637.4" r="3.15"/><circle cx="623.6" cy="657.7" r="3.15"/><circle cx="621.5" cy="647.6" r="3.15"/><circle cx="625.2" cy="645.8" r="3.15"/><circle cx="621.9" cy="635.6" r="3.15"/><circle cx="625.6" cy="641.0" r="3.15"/><circle cx="621.9" cy="647.0" r="3.15"/><circle cx="621.9" cy="635.0" r="3.15"/><circle cx="617.1" cy="579.9" r="3.15"/><circle cx="619.1" cy="579.9" r="3.15"/><circle cx="621.9" cy="578.7" r="3.15"/><circle cx="619.1" cy="581.7" r="3.15"/><circle cx="618.7" cy="585.3" r="3.15"/><circle cx="619.9" cy="584.7" r="3.15"/><circle cx="621.5" cy="595.5" r="3.15"/><circle cx="622.7" cy="597.3" r="3.15"/><circle cx="695.1" cy="557.2" r="3.15"/><circle cx="691.1" cy="570.9" r="3.15"/><circle cx="691.9" cy="573.9" r="3.15"/><circle cx="692.7" cy="576.3" r="3.15"/><circle cx="693.9" cy="575.1" r="3.15"/><circle cx="691.1" cy="584.7" r="3.15"/><circle cx="693.1" cy="584.7" r="3.15"/><circle cx="695.1" cy="585.9" r="3.15"/><circle cx="685.0" cy="588.3" r="3.15"/><circle cx="687.4" cy="587.1" r="3.15"/><circle cx="695.1" cy="591.9" r="3.15"/><circle cx="685.4" cy="596.1" r="3.15"/><circle cx="693.5" cy="596.1" r="3.15"/><circle cx="709.7" cy="597.9" r="3.15"/><circle cx="721.4" cy="602.7" r="3.15"/><circle cx="727.5" cy="611.0" r="3.15"/><circle cx="712.1" cy="613.4" r="3.15"/><circle cx="717.8" cy="615.8" r="3.15"/><circle cx="710.1" cy="622.4" r="3.15"/><circle cx="708.5" cy="635.0" r="3.15"/><circle cx="704.0" cy="636.8" r="3.15"/><circle cx="704.4" cy="629.6" r="3.15"/><circle cx="702.8" cy="658.9" r="3.15"/><circle cx="699.6" cy="633.8" r="3.15"/><circle cx="702.4" cy="626.6" r="3.15"/><circle cx="705.2" cy="619.4" r="3.15"/><circle cx="704.8" cy="623.0" r="3.15"/><circle cx="702.0" cy="615.8" r="3.15"/><circle cx="701.6" cy="612.8" r="3.15"/><circle cx="698.4" cy="612.8" r="3.15"/><circle cx="698.8" cy="602.7" r="3.15"/><circle cx="702.0" cy="605.1" r="3.15"/><circle cx="703.2" cy="599.7" r="3.15"/><circle cx="702.8" cy="602.1" r="3.15"/><circle cx="693.5" cy="648.2" r="3.15"/><circle cx="688.7" cy="650.6" r="3.15"/><circle cx="694.3" cy="640.4" r="3.15"/><circle cx="691.9" cy="633.8" r="3.15"/><circle cx="689.9" cy="628.4" r="3.15"/><circle cx="694.7" cy="629.0" r="3.15"/></g>
<g fill="#cd4a3b" stroke="#5a1a12" stroke-width="0.9"><circle cx="524.1" cy="560.9" r="4.6"/><circle cx="573.4" cy="516.1" r="3.5"/><circle cx="604.3" cy="515.4" r="3.1"/><circle cx="590.5" cy="525.6" r="3.1"/><circle cx="601.8" cy="535.4" r="3.1"/><circle cx="589.9" cy="542.9" r="3.3"/><circle cx="609.3" cy="544.3" r="3.1"/><circle cx="595.8" cy="547.1" r="3.4"/><circle cx="601.1" cy="554.9" r="3.3"/><circle cx="591.3" cy="558.7" r="3.3"/><circle cx="610.9" cy="558.8" r="3.2"/><circle cx="604.3" cy="564.3" r="3.1"/><circle cx="610.1" cy="565.0" r="3.2"/><circle cx="612.7" cy="563.1" r="3.1"/><circle cx="615.1" cy="565.0" r="3.1"/><circle cx="587.8" cy="570.0" r="3.3"/><circle cx="605.8" cy="570.7" r="3.4"/><circle cx="595.5" cy="575.3" r="3.2"/><circle cx="602.8" cy="578.2" r="3.2"/><circle cx="609.1" cy="577.6" r="3.2"/><circle cx="610.8" cy="583.0" r="3.2"/><circle cx="612.9" cy="584.8" r="3.2"/><circle cx="602.6" cy="590.1" r="3.2"/><circle cx="608.2" cy="593.6" r="3.3"/><circle cx="602.6" cy="596.0" r="3.2"/><circle cx="614.6" cy="596.6" r="3.1"/><circle cx="764.1" cy="472.7" r="4.2"/><circle cx="785.5" cy="473.4" r="4.6"/><circle cx="730.2" cy="477.7" r="3.7"/><circle cx="714.1" cy="484.4" r="3.5"/><circle cx="724.2" cy="489.5" r="3.7"/><circle cx="782.9" cy="495.8" r="4.8"/><circle cx="741.4" cy="501.0" r="3.7"/><circle cx="764.9" cy="512.8" r="3.7"/><circle cx="713.4" cy="522.5" r="3.5"/><circle cx="721.9" cy="524.7" r="3.5"/><circle cx="735.4" cy="522.1" r="3.9"/><circle cx="766.5" cy="525.8" r="4.4"/><circle cx="770.9" cy="527.2" r="3.9"/><circle cx="734.7" cy="540.0" r="3.5"/><circle cx="702.4" cy="545.6" r="3.4"/><circle cx="716.9" cy="545.6" r="3.5"/><circle cx="745.5" cy="548.0" r="3.6"/><circle cx="735.2" cy="551.5" r="3.7"/><circle cx="809.0" cy="546.4" r="4.8"/><circle cx="729.9" cy="556.6" r="3.6"/><circle cx="709.4" cy="559.6" r="3.6"/><circle cx="711.3" cy="561.6" r="3.6"/><circle cx="738.6" cy="559.8" r="3.8"/><circle cx="700.5" cy="562.5" r="3.4"/><circle cx="721.3" cy="566.3" r="3.7"/><circle cx="731.6" cy="566.7" r="3.8"/><circle cx="705.4" cy="571.3" r="3.6"/><circle cx="696.4" cy="575.3" r="3.4"/><circle cx="757.1" cy="575.8" r="4.2"/><circle cx="700.4" cy="580.2" r="3.6"/><circle cx="714.0" cy="581.6" r="3.7"/><circle cx="697.0" cy="588.7" r="3.4"/><circle cx="697.3" cy="590.8" r="3.4"/><circle cx="699.4" cy="592.3" r="3.4"/><circle cx="704.5" cy="590.1" r="3.6"/><circle cx="705.9" cy="590.5" r="3.6"/><circle cx="707.6" cy="588.3" r="3.6"/><circle cx="710.4" cy="589.3" r="3.6"/><circle cx="717.9" cy="587.0" r="3.6"/><circle cx="717.9" cy="590.2" r="3.6"/><circle cx="724.5" cy="591.3" r="3.7"/><circle cx="721.2" cy="594.3" r="3.6"/><circle cx="704.5" cy="593.9" r="3.6"/><circle cx="707.3" cy="595.1" r="3.6"/><circle cx="703.1" cy="596.8" r="3.5"/><circle cx="696.7" cy="597.7" r="3.4"/><circle cx="1183.2" cy="88.4" r="8.6"/></g>
<g clip-path="url(#clipB)" fill="#1c4f9c" stroke="#050f22" stroke-width="1.1"><circle cx="588.9" cy="1351.5" r="3.15"/><circle cx="600.9" cy="1349.2" r="3.15"/><circle cx="623.2" cy="1397.3" r="3.15"/><circle cx="590.0" cy="1293.2" r="3.15"/><circle cx="568.9" cy="1310.3" r="3.15"/><circle cx="606.8" cy="1323.6" r="3.15"/><circle cx="608.7" cy="1338.5" r="3.15"/><circle cx="625.2" cy="1387.5" r="3.15"/><circle cx="585.6" cy="1350.7" r="3.15"/><circle cx="596.6" cy="1307.8" r="3.15"/><circle cx="611.5" cy="1379.5" r="3.15"/><circle cx="590.8" cy="1283.9" r="3.15"/><circle cx="597.8" cy="1295.7" r="3.15"/><circle cx="593.6" cy="1299.2" r="3.15"/><circle cx="630.1" cy="1411.6" r="3.15"/><circle cx="629.9" cy="1398.5" r="3.15"/><circle cx="642.3" cy="1409.0" r="3.15"/><circle cx="566.7" cy="1291.5" r="3.15"/><circle cx="613.5" cy="1392.9" r="3.15"/><circle cx="572.3" cy="1319.1" r="3.15"/><circle cx="616.3" cy="1392.4" r="3.15"/><circle cx="630.3" cy="1372.6" r="3.15"/><circle cx="597.2" cy="1365.3" r="3.15"/><circle cx="591.8" cy="1280.7" r="3.15"/><circle cx="615.3" cy="1386.2" r="3.15"/><circle cx="552.4" cy="1268.0" r="3.15"/><circle cx="623.2" cy="1356.8" r="3.15"/><circle cx="562.8" cy="1264.2" r="3.15"/><circle cx="603.9" cy="1326.9" r="3.15"/><circle cx="596.0" cy="1305.7" r="3.15"/><circle cx="577.0" cy="1323.8" r="3.15"/><circle cx="634.0" cy="1394.0" r="3.15"/><circle cx="617.0" cy="1352.7" r="3.15"/><circle cx="619.4" cy="1406.4" r="3.15"/><circle cx="645.2" cy="1404.9" r="3.15"/><circle cx="565.9" cy="1264.2" r="3.15"/><circle cx="588.7" cy="1322.0" r="3.15"/><circle cx="587.6" cy="1324.7" r="3.15"/><circle cx="576.6" cy="1304.3" r="3.15"/><circle cx="582.4" cy="1329.5" r="3.15"/><circle cx="595.4" cy="1346.6" r="3.15"/><circle cx="593.6" cy="1271.4" r="3.15"/><circle cx="612.1" cy="1394.2" r="3.15"/><circle cx="574.9" cy="1316.0" r="3.15"/><circle cx="616.0" cy="1394.9" r="3.15"/><circle cx="618.6" cy="1374.8" r="3.15"/><circle cx="623.2" cy="1381.5" r="3.15"/><circle cx="624.5" cy="1381.8" r="3.15"/><circle cx="597.8" cy="1321.9" r="3.15"/><circle cx="620.4" cy="1351.5" r="3.15"/><circle cx="570.2" cy="1279.6" r="3.15"/><circle cx="584.9" cy="1331.3" r="3.15"/><circle cx="651.1" cy="1425.6" r="3.15"/><circle cx="637.8" cy="1388.3" r="3.15"/><circle cx="586.7" cy="1321.3" r="3.15"/><circle cx="637.0" cy="1394.8" r="3.15"/><circle cx="594.8" cy="1306.7" r="3.15"/><circle cx="572.9" cy="1299.5" r="3.15"/><circle cx="557.0" cy="1273.9" r="3.15"/><circle cx="587.9" cy="1305.3" r="3.15"/><circle cx="582.0" cy="1317.5" r="3.15"/><circle cx="570.6" cy="1306.1" r="3.15"/><circle cx="590.7" cy="1345.5" r="3.15"/><circle cx="618.1" cy="1399.3" r="3.15"/><circle cx="631.0" cy="1404.9" r="3.15"/><circle cx="640.1" cy="1414.2" r="3.15"/><circle cx="578.2" cy="1319.6" r="3.15"/><circle cx="600.2" cy="1333.1" r="3.15"/><circle cx="594.0" cy="1330.9" r="3.15"/><circle cx="588.7" cy="1340.6" r="3.15"/><circle cx="589.2" cy="1332.6" r="3.15"/><circle cx="576.1" cy="1270.9" r="3.15"/><circle cx="622.5" cy="1407.2" r="3.15"/><circle cx="614.4" cy="1374.6" r="3.15"/><circle cx="562.2" cy="1270.6" r="3.15"/><circle cx="652.7" cy="1425.0" r="3.15"/><circle cx="593.3" cy="1311.4" r="3.15"/><circle cx="583.6" cy="1322.9" r="3.15"/><circle cx="640.6" cy="1407.9" r="3.15"/><circle cx="629.0" cy="1395.1" r="3.15"/><circle cx="612.2" cy="1364.6" r="3.15"/><circle cx="625.2" cy="1401.6" r="3.15"/><circle cx="577.9" cy="1319.7" r="3.15"/><circle cx="603.7" cy="1374.9" r="3.15"/><circle cx="587.7" cy="1277.1" r="3.15"/><circle cx="599.9" cy="1304.6" r="3.15"/><circle cx="586.5" cy="1293.8" r="3.15"/><circle cx="598.6" cy="1311.7" r="3.15"/><circle cx="571.3" cy="1263.2" r="3.15"/><circle cx="602.5" cy="1311.6" r="3.15"/><circle cx="635.2" cy="1410.7" r="3.15"/><circle cx="640.0" cy="1403.8" r="3.15"/><circle cx="591.8" cy="1270.3" r="3.15"/><circle cx="585.3" cy="1298.1" r="3.15"/><circle cx="596.1" cy="1340.7" r="3.15"/><circle cx="582.1" cy="1284.5" r="3.15"/><circle cx="596.2" cy="1302.4" r="3.15"/><circle cx="643.6" cy="1400.7" r="3.15"/><circle cx="587.8" cy="1321.2" r="3.15"/><circle cx="565.5" cy="1291.2" r="3.15"/><circle cx="575.3" cy="1298.0" r="3.15"/><circle cx="643.8" cy="1416.8" r="3.15"/><circle cx="583.4" cy="1315.0" r="3.15"/><circle cx="599.2" cy="1331.5" r="3.15"/><circle cx="565.8" cy="1261.2" r="3.15"/><circle cx="589.0" cy="1302.5" r="3.15"/><circle cx="648.1" cy="1420.3" r="3.15"/><circle cx="628.1" cy="1412.1" r="3.15"/><circle cx="579.9" cy="1334.8" r="3.15"/><circle cx="567.0" cy="1299.0" r="3.15"/><circle cx="640.0" cy="1401.5" r="3.15"/><circle cx="605.0" cy="1356.9" r="3.15"/><circle cx="608.9" cy="1366.4" r="3.15"/><circle cx="588.4" cy="1333.0" r="3.15"/><circle cx="628.2" cy="1378.3" r="3.15"/><circle cx="643.8" cy="1421.6" r="3.15"/><circle cx="565.1" cy="1300.9" r="3.15"/><circle cx="554.4" cy="1267.3" r="3.15"/><circle cx="589.7" cy="1355.4" r="3.15"/><circle cx="608.6" cy="1387.2" r="3.15"/><circle cx="567.0" cy="1305.3" r="3.15"/><circle cx="619.6" cy="1350.9" r="3.15"/><circle cx="600.6" cy="1338.6" r="3.15"/><circle cx="597.4" cy="1314.6" r="3.15"/><circle cx="584.6" cy="1329.3" r="3.15"/><circle cx="610.5" cy="1388.1" r="3.15"/><circle cx="608.5" cy="1367.5" r="3.15"/><circle cx="610.0" cy="1396.4" r="3.15"/><circle cx="650.8" cy="1422.1" r="3.15"/><circle cx="639.6" cy="1416.5" r="3.15"/><circle cx="622.7" cy="1365.1" r="3.15"/><circle cx="594.1" cy="1285.4" r="3.15"/><circle cx="586.7" cy="1297.4" r="3.15"/><circle cx="600.6" cy="1365.7" r="3.15"/><circle cx="640.6" cy="1415.5" r="3.15"/><circle cx="639.2" cy="1415.9" r="3.15"/><circle cx="636.7" cy="1414.9" r="3.15"/><circle cx="600.0" cy="1310.2" r="3.15"/><circle cx="606.9" cy="1366.2" r="3.15"/><circle cx="622.7" cy="1376.8" r="3.15"/><circle cx="627.9" cy="1386.4" r="3.15"/><circle cx="618.1" cy="1366.7" r="3.15"/><circle cx="616.5" cy="1395.5" r="3.15"/><circle cx="586.7" cy="1332.6" r="3.15"/><circle cx="595.1" cy="1278.2" r="3.15"/><circle cx="597.3" cy="1340.7" r="3.15"/><circle cx="580.3" cy="1291.3" r="3.15"/><circle cx="597.5" cy="1294.1" r="3.15"/><circle cx="599.7" cy="1317.9" r="3.15"/><circle cx="590.1" cy="1298.1" r="3.15"/><circle cx="593.5" cy="1344.4" r="3.15"/><circle cx="583.1" cy="1319.4" r="3.15"/><circle cx="599.7" cy="1357.0" r="3.15"/><circle cx="631.4" cy="1400.2" r="3.15"/><circle cx="650.7" cy="1418.8" r="3.15"/><circle cx="629.4" cy="1398.2" r="3.15"/><circle cx="652.1" cy="1422.7" r="3.15"/><circle cx="618.1" cy="1391.7" r="3.15"/><circle cx="603.7" cy="1327.1" r="3.15"/><circle cx="612.4" cy="1380.8" r="3.15"/><circle cx="617.0" cy="1346.3" r="3.15"/><circle cx="611.7" cy="1363.0" r="3.15"/><circle cx="605.2" cy="1316.4" r="3.15"/><circle cx="592.4" cy="1348.0" r="3.15"/><circle cx="635.6" cy="1402.0" r="3.15"/><circle cx="588.4" cy="1337.4" r="3.15"/><circle cx="636.8" cy="1414.8" r="3.15"/><circle cx="625.3" cy="1393.2" r="3.15"/><circle cx="631.8" cy="1375.6" r="3.15"/><circle cx="612.0" cy="1376.6" r="3.15"/><circle cx="637.7" cy="1410.8" r="3.15"/><circle cx="594.3" cy="1317.0" r="3.15"/><circle cx="584.4" cy="1307.4" r="3.15"/><circle cx="585.8" cy="1350.5" r="3.15"/><circle cx="577.9" cy="1292.1" r="3.15"/><circle cx="619.2" cy="1379.2" r="3.15"/><circle cx="623.4" cy="1377.9" r="3.15"/><circle cx="599.5" cy="1314.8" r="3.15"/><circle cx="567.8" cy="1303.8" r="3.15"/><circle cx="647.8" cy="1413.1" r="3.15"/><circle cx="615.9" cy="1398.1" r="3.15"/><circle cx="602.7" cy="1327.5" r="3.15"/><circle cx="633.0" cy="1402.0" r="3.15"/><circle cx="602.5" cy="1355.9" r="3.15"/><circle cx="615.1" cy="1362.9" r="3.15"/><circle cx="598.2" cy="1324.8" r="3.15"/><circle cx="636.3" cy="1410.7" r="3.15"/><circle cx="582.8" cy="1324.3" r="3.15"/><circle cx="626.5" cy="1368.6" r="3.15"/><circle cx="562.6" cy="1286.0" r="3.15"/><circle cx="604.7" cy="1321.6" r="3.15"/><circle cx="570.8" cy="1309.6" r="3.15"/><circle cx="626.2" cy="1367.1" r="3.15"/><circle cx="553.0" cy="1262.3" r="3.15"/><circle cx="581.3" cy="1333.0" r="3.15"/><circle cx="581.4" cy="1326.0" r="3.15"/><circle cx="579.1" cy="1286.8" r="3.15"/><circle cx="648.0" cy="1415.9" r="3.15"/><circle cx="583.4" cy="1316.3" r="3.15"/><circle cx="581.8" cy="1302.7" r="3.15"/><circle cx="593.1" cy="1291.4" r="3.15"/><circle cx="607.9" cy="1348.8" r="3.15"/><circle cx="594.8" cy="1331.5" r="3.15"/><circle cx="596.2" cy="1326.2" r="3.15"/><circle cx="607.4" cy="1358.9" r="3.15"/><circle cx="584.1" cy="1339.1" r="3.15"/><circle cx="610.4" cy="1374.0" r="3.15"/><circle cx="644.3" cy="1417.0" r="3.15"/><circle cx="615.0" cy="1342.9" r="3.15"/><circle cx="627.6" cy="1388.0" r="3.15"/><circle cx="610.0" cy="1388.5" r="3.15"/><circle cx="572.3" cy="1291.1" r="3.15"/><circle cx="618.3" cy="1407.7" r="3.15"/><circle cx="633.0" cy="1377.7" r="3.15"/><circle cx="608.0" cy="1360.9" r="3.15"/><circle cx="641.0" cy="1421.0" r="3.15"/><circle cx="603.9" cy="1376.2" r="3.15"/><circle cx="611.2" cy="1393.6" r="3.15"/><circle cx="562.3" cy="1275.5" r="3.15"/><circle cx="625.5" cy="1368.3" r="3.15"/><circle cx="636.5" cy="1394.3" r="3.15"/><circle cx="592.7" cy="1278.3" r="3.15"/><circle cx="570.0" cy="1304.7" r="3.15"/><circle cx="645.5" cy="1415.4" r="3.15"/><circle cx="598.1" cy="1307.3" r="3.15"/><circle cx="576.5" cy="1293.7" r="3.15"/><circle cx="609.8" cy="1389.7" r="3.15"/><circle cx="584.1" cy="1314.8" r="3.15"/><circle cx="605.4" cy="1353.6" r="3.15"/><circle cx="610.5" cy="1380.2" r="3.15"/><circle cx="634.9" cy="1414.0" r="3.15"/><circle cx="622.1" cy="1386.8" r="3.15"/><circle cx="571.9" cy="1259.9" r="3.15"/><circle cx="567.5" cy="1300.5" r="3.15"/><circle cx="599.0" cy="1343.4" r="3.15"/><circle cx="584.7" cy="1318.6" r="3.15"/><circle cx="570.8" cy="1311.8" r="3.15"/><circle cx="637.7" cy="1400.6" r="3.15"/><circle cx="633.2" cy="1388.5" r="3.15"/><circle cx="608.9" cy="1329.7" r="3.15"/><circle cx="642.5" cy="1398.1" r="3.15"/><circle cx="603.4" cy="1344.0" r="3.15"/><circle cx="585.1" cy="1331.6" r="3.15"/><circle cx="630.4" cy="1388.2" r="3.15"/><circle cx="599.6" cy="1322.6" r="3.15"/><circle cx="582.5" cy="1328.2" r="3.15"/><circle cx="639.4" cy="1399.5" r="3.15"/><circle cx="586.4" cy="1294.3" r="3.15"/><circle cx="597.7" cy="1366.6" r="3.15"/><circle cx="622.9" cy="1404.2" r="3.15"/><circle cx="642.4" cy="1422.2" r="3.15"/><circle cx="637.7" cy="1404.7" r="3.15"/><circle cx="623.0" cy="1356.3" r="3.15"/><circle cx="594.5" cy="1303.3" r="3.15"/><circle cx="598.1" cy="1334.5" r="3.15"/><circle cx="595.6" cy="1324.4" r="3.15"/><circle cx="595.6" cy="1317.7" r="3.15"/><circle cx="591.4" cy="1349.8" r="3.15"/><circle cx="635.8" cy="1392.1" r="3.15"/><circle cx="606.7" cy="1334.9" r="3.15"/><circle cx="632.0" cy="1392.2" r="3.15"/><circle cx="639.6" cy="1393.9" r="3.15"/><circle cx="595.9" cy="1310.6" r="3.15"/><circle cx="652.9" cy="1425.7" r="3.15"/><circle cx="591.7" cy="1306.6" r="3.15"/><circle cx="598.6" cy="1363.1" r="3.15"/><circle cx="602.9" cy="1340.1" r="3.15"/><circle cx="635.1" cy="1388.1" r="3.15"/><circle cx="599.8" cy="1327.0" r="3.15"/><circle cx="620.3" cy="1356.4" r="3.15"/><circle cx="578.4" cy="1308.0" r="3.15"/><circle cx="599.4" cy="1314.9" r="3.15"/><circle cx="596.7" cy="1359.6" r="3.15"/><circle cx="630.1" cy="1390.2" r="3.15"/><circle cx="639.9" cy="1392.0" r="3.15"/><circle cx="566.9" cy="1271.7" r="3.15"/><circle cx="573.8" cy="1280.3" r="3.15"/><circle cx="642.3" cy="1413.5" r="3.15"/><circle cx="624.6" cy="1372.8" r="3.15"/><circle cx="630.6" cy="1401.8" r="3.15"/><circle cx="637.4" cy="1400.4" r="3.15"/><circle cx="641.2" cy="1413.0" r="3.15"/><circle cx="623.7" cy="1403.1" r="3.15"/><circle cx="617.5" cy="1366.6" r="3.15"/><circle cx="600.1" cy="1328.7" r="3.15"/><circle cx="628.2" cy="1385.6" r="3.15"/><circle cx="623.6" cy="1397.1" r="3.15"/><circle cx="594.7" cy="1322.7" r="3.15"/><circle cx="590.2" cy="1273.3" r="3.15"/><circle cx="605.2" cy="1342.2" r="3.15"/><circle cx="583.4" cy="1261.8" r="3.15"/><circle cx="623.0" cy="1388.8" r="3.15"/><circle cx="611.5" cy="1361.5" r="3.15"/><circle cx="585.7" cy="1317.7" r="3.15"/><circle cx="630.0" cy="1401.6" r="3.15"/><circle cx="603.0" cy="1332.4" r="3.15"/><circle cx="630.0" cy="1388.4" r="3.15"/><circle cx="640.0" cy="1398.5" r="3.15"/><circle cx="650.5" cy="1418.1" r="3.15"/><circle cx="589.0" cy="1308.3" r="3.15"/><circle cx="588.2" cy="1280.1" r="3.15"/><circle cx="608.7" cy="1373.0" r="3.15"/><circle cx="588.3" cy="1331.8" r="3.15"/><circle cx="586.9" cy="1291.8" r="3.15"/><circle cx="599.9" cy="1314.4" r="3.15"/><circle cx="560.9" cy="1259.7" r="3.15"/><circle cx="640.1" cy="1408.6" r="3.15"/><circle cx="646.4" cy="1408.3" r="3.15"/><circle cx="601.8" cy="1336.1" r="3.15"/><circle cx="584.7" cy="1285.4" r="3.15"/><circle cx="594.1" cy="1292.0" r="3.15"/><circle cx="635.0" cy="1385.9" r="3.15"/><circle cx="615.7" cy="1373.5" r="3.15"/><circle cx="638.2" cy="1404.3" r="3.15"/><circle cx="629.3" cy="1390.0" r="3.15"/><circle cx="635.8" cy="1384.5" r="3.15"/><circle cx="642.2" cy="1415.5" r="3.15"/><circle cx="553.5" cy="1258.3" r="3.15"/><circle cx="591.0" cy="1346.1" r="3.15"/><circle cx="609.3" cy="1361.2" r="3.15"/><circle cx="601.9" cy="1304.9" r="3.15"/><circle cx="641.9" cy="1400.0" r="3.15"/><circle cx="633.4" cy="1375.9" r="3.15"/><circle cx="573.5" cy="1303.1" r="3.15"/><circle cx="550.2" cy="1260.2" r="3.15"/><circle cx="629.2" cy="1390.0" r="3.15"/><circle cx="601.2" cy="1368.3" r="3.15"/><circle cx="623.4" cy="1373.9" r="3.15"/><circle cx="575.6" cy="1302.0" r="3.15"/><circle cx="639.5" cy="1398.6" r="3.15"/><circle cx="629.9" cy="1369.0" r="3.15"/><circle cx="606.9" cy="1342.9" r="3.15"/><circle cx="618.3" cy="1391.3" r="3.15"/><circle cx="621.9" cy="1398.5" r="3.15"/><circle cx="610.0" cy="1397.5" r="3.15"/><circle cx="634.7" cy="1403.6" r="3.15"/><circle cx="586.3" cy="1318.8" r="3.15"/><circle cx="589.0" cy="1321.4" r="3.15"/><circle cx="581.8" cy="1310.9" r="3.15"/><circle cx="617.8" cy="1357.2" r="3.15"/><circle cx="595.2" cy="1340.8" r="3.15"/><circle cx="613.2" cy="1402.9" r="3.15"/><circle cx="576.0" cy="1302.7" r="3.15"/><circle cx="558.8" cy="1280.5" r="3.15"/><circle cx="589.2" cy="1344.9" r="3.15"/><circle cx="574.8" cy="1307.2" r="3.15"/><circle cx="591.1" cy="1351.2" r="3.15"/><circle cx="622.0" cy="1395.4" r="3.15"/><circle cx="587.6" cy="1292.6" r="3.15"/><circle cx="641.5" cy="1411.7" r="3.15"/><circle cx="637.4" cy="1408.8" r="3.15"/><circle cx="555.0" cy="1274.6" r="3.15"/><circle cx="612.9" cy="1393.5" r="3.15"/><circle cx="579.3" cy="1304.4" r="3.15"/><circle cx="613.2" cy="1355.2" r="3.15"/><circle cx="600.5" cy="1310.0" r="3.15"/><circle cx="600.5" cy="1310.2" r="3.15"/><circle cx="602.3" cy="1324.5" r="3.15"/><circle cx="592.4" cy="1302.9" r="3.15"/><circle cx="605.1" cy="1359.1" r="3.15"/><circle cx="708.0" cy="1357.3" r="3.15"/><circle cx="732.9" cy="1305.8" r="3.15"/><circle cx="706.3" cy="1350.4" r="3.15"/><circle cx="714.8" cy="1379.7" r="3.15"/><circle cx="721.9" cy="1311.3" r="3.15"/><circle cx="688.1" cy="1384.9" r="3.15"/><circle cx="700.4" cy="1325.5" r="3.15"/><circle cx="737.5" cy="1272.0" r="3.15"/><circle cx="747.6" cy="1311.8" r="3.15"/><circle cx="750.3" cy="1262.7" r="3.15"/><circle cx="709.4" cy="1346.8" r="3.15"/><circle cx="704.7" cy="1373.6" r="3.15"/><circle cx="694.6" cy="1358.7" r="3.15"/><circle cx="700.1" cy="1364.2" r="3.15"/><circle cx="714.4" cy="1299.1" r="3.15"/><circle cx="748.0" cy="1299.1" r="3.15"/><circle cx="666.9" cy="1408.0" r="3.15"/><circle cx="736.9" cy="1272.2" r="3.15"/><circle cx="696.4" cy="1335.1" r="3.15"/><circle cx="735.5" cy="1290.8" r="3.15"/><circle cx="680.2" cy="1406.2" r="3.15"/><circle cx="677.9" cy="1385.7" r="3.15"/><circle cx="691.9" cy="1390.8" r="3.15"/><circle cx="719.9" cy="1337.1" r="3.15"/><circle cx="692.5" cy="1356.6" r="3.15"/><circle cx="730.9" cy="1304.2" r="3.15"/><circle cx="662.2" cy="1423.9" r="3.15"/><circle cx="735.8" cy="1280.6" r="3.15"/><circle cx="665.1" cy="1415.2" r="3.15"/><circle cx="730.7" cy="1343.3" r="3.15"/><circle cx="717.6" cy="1359.9" r="3.15"/><circle cx="691.9" cy="1383.7" r="3.15"/><circle cx="708.2" cy="1345.5" r="3.15"/><circle cx="725.9" cy="1350.0" r="3.15"/><circle cx="702.7" cy="1333.1" r="3.15"/><circle cx="671.6" cy="1411.5" r="3.15"/><circle cx="723.8" cy="1344.2" r="3.15"/><circle cx="707.6" cy="1343.6" r="3.15"/><circle cx="748.5" cy="1259.8" r="3.15"/><circle cx="711.0" cy="1324.3" r="3.15"/><circle cx="700.9" cy="1373.8" r="3.15"/><circle cx="711.7" cy="1297.0" r="3.15"/><circle cx="704.6" cy="1384.8" r="3.15"/><circle cx="715.5" cy="1358.5" r="3.15"/><circle cx="747.5" cy="1317.2" r="3.15"/><circle cx="730.8" cy="1355.7" r="3.15"/><circle cx="757.3" cy="1268.5" r="3.15"/><circle cx="702.5" cy="1362.8" r="3.15"/><circle cx="684.5" cy="1408.3" r="3.15"/><circle cx="678.5" cy="1416.4" r="3.15"/><circle cx="673.3" cy="1409.1" r="3.15"/><circle cx="741.0" cy="1267.5" r="3.15"/><circle cx="708.1" cy="1346.2" r="3.15"/><circle cx="724.6" cy="1362.8" r="3.15"/><circle cx="707.0" cy="1342.5" r="3.15"/><circle cx="746.8" cy="1292.7" r="3.15"/><circle cx="675.6" cy="1399.8" r="3.15"/><circle cx="696.4" cy="1368.3" r="3.15"/><circle cx="714.9" cy="1325.4" r="3.15"/><circle cx="702.9" cy="1366.2" r="3.15"/><circle cx="715.9" cy="1306.9" r="3.15"/><circle cx="706.4" cy="1383.9" r="3.15"/><circle cx="702.3" cy="1362.8" r="3.15"/><circle cx="698.1" cy="1349.2" r="3.15"/><circle cx="722.3" cy="1297.1" r="3.15"/><circle cx="749.2" cy="1280.6" r="3.15"/><circle cx="710.0" cy="1329.5" r="3.15"/><circle cx="691.3" cy="1390.7" r="3.15"/><circle cx="736.4" cy="1322.2" r="3.15"/><circle cx="748.8" cy="1303.2" r="3.15"/><circle cx="717.4" cy="1301.7" r="3.15"/><circle cx="685.1" cy="1384.5" r="3.15"/><circle cx="674.2" cy="1405.9" r="3.15"/><circle cx="697.6" cy="1379.0" r="3.15"/><circle cx="758.5" cy="1276.0" r="3.15"/><circle cx="736.6" cy="1335.4" r="3.15"/><circle cx="711.9" cy="1293.3" r="3.15"/><circle cx="732.6" cy="1291.2" r="3.15"/><circle cx="704.8" cy="1329.9" r="3.15"/><circle cx="763.0" cy="1262.7" r="3.15"/><circle cx="747.0" cy="1313.9" r="3.15"/><circle cx="672.6" cy="1417.0" r="3.15"/><circle cx="715.4" cy="1337.7" r="3.15"/><circle cx="681.8" cy="1396.6" r="3.15"/><circle cx="722.5" cy="1341.6" r="3.15"/><circle cx="689.6" cy="1355.9" r="3.15"/><circle cx="734.8" cy="1343.7" r="3.15"/><circle cx="707.7" cy="1330.7" r="3.15"/><circle cx="745.6" cy="1265.6" r="3.15"/><circle cx="730.1" cy="1261.0" r="3.15"/><circle cx="667.9" cy="1424.7" r="3.15"/><circle cx="715.9" cy="1287.6" r="3.15"/><circle cx="682.3" cy="1370.2" r="3.15"/><circle cx="738.0" cy="1294.1" r="3.15"/><circle cx="723.2" cy="1336.9" r="3.15"/><circle cx="728.4" cy="1349.3" r="3.15"/><circle cx="677.9" cy="1398.2" r="3.15"/><circle cx="708.3" cy="1370.7" r="3.15"/><circle cx="685.8" cy="1383.4" r="3.15"/><circle cx="730.1" cy="1275.5" r="3.15"/><circle cx="708.3" cy="1376.2" r="3.15"/><circle cx="729.1" cy="1334.4" r="3.15"/><circle cx="690.0" cy="1386.1" r="3.15"/><circle cx="707.1" cy="1378.7" r="3.15"/><circle cx="724.3" cy="1362.3" r="3.15"/><circle cx="691.9" cy="1403.8" r="3.15"/><circle cx="730.3" cy="1263.5" r="3.15"/><circle cx="693.2" cy="1349.5" r="3.15"/><circle cx="668.9" cy="1416.4" r="3.15"/><circle cx="663.2" cy="1420.3" r="3.15"/><circle cx="729.1" cy="1334.4" r="3.15"/><circle cx="664.7" cy="1414.6" r="3.15"/><circle cx="685.4" cy="1400.8" r="3.15"/><circle cx="732.0" cy="1347.5" r="3.15"/><circle cx="754.8" cy="1257.8" r="3.15"/><circle cx="692.2" cy="1358.8" r="3.15"/><circle cx="680.3" cy="1391.9" r="3.15"/><circle cx="708.9" cy="1314.7" r="3.15"/><circle cx="668.6" cy="1421.6" r="3.15"/><circle cx="710.1" cy="1364.3" r="3.15"/><circle cx="716.7" cy="1373.4" r="3.15"/><circle cx="721.7" cy="1327.3" r="3.15"/><circle cx="730.2" cy="1348.4" r="3.15"/><circle cx="697.9" cy="1400.4" r="3.15"/><circle cx="706.5" cy="1378.4" r="3.15"/><circle cx="704.5" cy="1379.2" r="3.15"/><circle cx="702.8" cy="1368.2" r="3.15"/><circle cx="705.3" cy="1362.6" r="3.15"/><circle cx="700.6" cy="1381.8" r="3.15"/><circle cx="710.6" cy="1348.0" r="3.15"/><circle cx="734.4" cy="1344.6" r="3.15"/><circle cx="681.2" cy="1379.9" r="3.15"/><circle cx="752.6" cy="1288.9" r="3.15"/><circle cx="756.3" cy="1289.3" r="3.15"/><circle cx="715.5" cy="1340.7" r="3.15"/><circle cx="728.1" cy="1344.5" r="3.15"/><circle cx="698.5" cy="1340.9" r="3.15"/><circle cx="716.6" cy="1375.8" r="3.15"/><circle cx="735.2" cy="1319.9" r="3.15"/><circle cx="705.3" cy="1342.8" r="3.15"/><circle cx="667.2" cy="1424.9" r="3.15"/><circle cx="702.7" cy="1338.7" r="3.15"/><circle cx="702.7" cy="1370.6" r="3.15"/><circle cx="729.5" cy="1343.5" r="3.15"/><circle cx="727.7" cy="1335.2" r="3.15"/><circle cx="696.5" cy="1385.2" r="3.15"/><circle cx="678.1" cy="1386.7" r="3.15"/><circle cx="719.5" cy="1317.0" r="3.15"/><circle cx="708.2" cy="1387.7" r="3.15"/><circle cx="683.7" cy="1407.6" r="3.15"/><circle cx="728.0" cy="1336.6" r="3.15"/><circle cx="670.3" cy="1418.9" r="3.15"/><circle cx="744.5" cy="1301.7" r="3.15"/><circle cx="692.7" cy="1349.0" r="3.15"/><circle cx="724.5" cy="1273.5" r="3.15"/><circle cx="706.1" cy="1352.3" r="3.15"/><circle cx="715.6" cy="1358.4" r="3.15"/><circle cx="733.9" cy="1321.2" r="3.15"/><circle cx="679.0" cy="1406.4" r="3.15"/><circle cx="661.5" cy="1426.0" r="3.15"/><circle cx="732.7" cy="1346.9" r="3.15"/><circle cx="745.8" cy="1326.1" r="3.15"/><circle cx="671.8" cy="1407.9" r="3.15"/><circle cx="725.7" cy="1357.1" r="3.15"/><circle cx="702.3" cy="1364.9" r="3.15"/><circle cx="696.6" cy="1373.7" r="3.15"/><circle cx="728.3" cy="1349.3" r="3.15"/><circle cx="729.1" cy="1349.4" r="3.15"/><circle cx="718.3" cy="1358.7" r="3.15"/><circle cx="734.5" cy="1311.9" r="3.15"/><circle cx="739.2" cy="1294.8" r="3.15"/><circle cx="707.2" cy="1390.3" r="3.15"/><circle cx="716.0" cy="1360.4" r="3.15"/><circle cx="730.1" cy="1327.6" r="3.15"/><circle cx="743.1" cy="1330.7" r="3.15"/><circle cx="718.1" cy="1329.7" r="3.15"/><circle cx="713.2" cy="1355.4" r="3.15"/><circle cx="734.0" cy="1348.4" r="3.15"/><circle cx="676.3" cy="1415.7" r="3.15"/><circle cx="699.3" cy="1362.4" r="3.15"/><circle cx="709.2" cy="1334.9" r="3.15"/><circle cx="715.7" cy="1313.9" r="3.15"/><circle cx="680.2" cy="1385.2" r="3.15"/><circle cx="730.7" cy="1299.6" r="3.15"/><circle cx="745.1" cy="1307.2" r="3.15"/><circle cx="750.3" cy="1278.5" r="3.15"/><circle cx="748.6" cy="1306.6" r="3.15"/><circle cx="683.9" cy="1390.7" r="3.15"/><circle cx="744.0" cy="1329.2" r="3.15"/><circle cx="694.7" cy="1389.8" r="3.15"/><circle cx="699.5" cy="1369.2" r="3.15"/><circle cx="719.3" cy="1310.5" r="3.15"/><circle cx="749.3" cy="1305.3" r="3.15"/><circle cx="735.6" cy="1276.3" r="3.15"/><circle cx="696.3" cy="1333.9" r="3.15"/><circle cx="723.0" cy="1278.0" r="3.15"/><circle cx="690.3" cy="1398.0" r="3.15"/><circle cx="726.4" cy="1307.2" r="3.15"/><circle cx="692.0" cy="1378.3" r="3.15"/><circle cx="695.0" cy="1365.9" r="3.15"/><circle cx="687.8" cy="1383.2" r="3.15"/><circle cx="701.1" cy="1325.3" r="3.15"/><circle cx="732.5" cy="1339.4" r="3.15"/><circle cx="707.4" cy="1341.3" r="3.15"/><circle cx="714.2" cy="1340.7" r="3.15"/><circle cx="722.8" cy="1272.7" r="3.15"/><circle cx="711.1" cy="1376.2" r="3.15"/><circle cx="707.2" cy="1320.4" r="3.15"/><circle cx="724.4" cy="1359.4" r="3.15"/><circle cx="726.9" cy="1282.7" r="3.15"/><circle cx="731.6" cy="1338.8" r="3.15"/><circle cx="661.0" cy="1426.6" r="3.15"/><circle cx="727.6" cy="1317.0" r="3.15"/><circle cx="717.9" cy="1327.0" r="3.15"/><circle cx="691.3" cy="1391.0" r="3.15"/><circle cx="707.7" cy="1370.0" r="3.15"/><circle cx="664.6" cy="1425.8" r="3.15"/><circle cx="698.3" cy="1391.4" r="3.15"/><circle cx="724.5" cy="1331.1" r="3.15"/><circle cx="674.7" cy="1418.9" r="3.15"/><circle cx="668.9" cy="1404.3" r="3.15"/><circle cx="697.2" cy="1400.3" r="3.15"/><circle cx="714.7" cy="1372.7" r="3.15"/><circle cx="700.9" cy="1396.5" r="3.15"/><circle cx="707.4" cy="1386.9" r="3.15"/><circle cx="710.6" cy="1310.9" r="3.15"/><circle cx="704.4" cy="1387.4" r="3.15"/><circle cx="705.5" cy="1361.9" r="3.15"/><circle cx="686.4" cy="1361.7" r="3.15"/><circle cx="689.7" cy="1363.9" r="3.15"/><circle cx="685.7" cy="1397.3" r="3.15"/><circle cx="700.3" cy="1387.1" r="3.15"/><circle cx="665.1" cy="1423.0" r="3.15"/><circle cx="747.3" cy="1302.5" r="3.15"/><circle cx="669.6" cy="1403.1" r="3.15"/><circle cx="686.1" cy="1362.2" r="3.15"/><circle cx="727.9" cy="1268.6" r="3.15"/><circle cx="682.6" cy="1378.7" r="3.15"/><circle cx="677.7" cy="1393.8" r="3.15"/><circle cx="680.7" cy="1399.4" r="3.15"/><circle cx="711.9" cy="1340.0" r="3.15"/><circle cx="672.5" cy="1395.1" r="3.15"/><circle cx="726.6" cy="1360.3" r="3.15"/><circle cx="685.6" cy="1405.8" r="3.15"/><circle cx="723.2" cy="1363.8" r="3.15"/><circle cx="663.7" cy="1421.8" r="3.15"/><circle cx="697.3" cy="1396.4" r="3.15"/><circle cx="758.6" cy="1295.0" r="3.15"/><circle cx="724.5" cy="1365.5" r="3.15"/><circle cx="741.1" cy="1260.9" r="3.15"/><circle cx="732.5" cy="1330.2" r="3.15"/><circle cx="700.9" cy="1380.0" r="3.15"/><circle cx="698.3" cy="1395.4" r="3.15"/><circle cx="691.0" cy="1364.9" r="3.15"/><circle cx="742.6" cy="1280.3" r="3.15"/><circle cx="682.0" cy="1369.5" r="3.15"/><circle cx="735.7" cy="1317.3" r="3.15"/><circle cx="699.4" cy="1388.2" r="3.15"/><circle cx="703.8" cy="1355.3" r="3.15"/><circle cx="694.9" cy="1347.9" r="3.15"/><circle cx="677.7" cy="1393.4" r="3.15"/><circle cx="730.0" cy="1259.5" r="3.15"/><circle cx="711.2" cy="1363.8" r="3.15"/><circle cx="658.8" cy="1424.4" r="3.15"/><circle cx="684.4" cy="1400.6" r="3.15"/><circle cx="735.8" cy="1332.0" r="3.15"/><circle cx="699.4" cy="1318.2" r="3.15"/><circle cx="716.2" cy="1345.5" r="3.15"/><circle cx="692.6" cy="1339.8" r="3.15"/><circle cx="733.2" cy="1290.2" r="3.15"/><circle cx="710.9" cy="1344.2" r="3.15"/><circle cx="680.1" cy="1402.5" r="3.15"/><circle cx="703.8" cy="1351.1" r="3.15"/><circle cx="722.1" cy="1273.5" r="3.15"/><circle cx="690.6" cy="1405.8" r="3.15"/><circle cx="741.2" cy="1297.8" r="3.15"/><circle cx="693.0" cy="1391.5" r="3.15"/><circle cx="713.9" cy="1370.3" r="3.15"/><circle cx="681.0" cy="1409.8" r="3.15"/><circle cx="713.1" cy="1290.6" r="3.15"/><circle cx="711.5" cy="1323.3" r="3.15"/><circle cx="751.0" cy="1268.5" r="3.15"/><circle cx="693.4" cy="1404.4" r="3.15"/><circle cx="743.6" cy="1277.6" r="3.15"/><circle cx="710.7" cy="1373.4" r="3.15"/><circle cx="728.6" cy="1296.0" r="3.15"/><circle cx="692.5" cy="1347.8" r="3.15"/><circle cx="706.0" cy="1342.1" r="3.15"/><circle cx="725.9" cy="1364.4" r="3.15"/><circle cx="732.7" cy="1323.0" r="3.15"/><circle cx="701.9" cy="1357.7" r="3.15"/><circle cx="714.6" cy="1357.1" r="3.15"/><circle cx="718.5" cy="1367.2" r="3.15"/><circle cx="715.0" cy="1316.5" r="3.15"/><circle cx="689.9" cy="1362.7" r="3.15"/><circle cx="679.2" cy="1414.2" r="3.15"/><circle cx="690.7" cy="1367.2" r="3.15"/><circle cx="689.2" cy="1378.0" r="3.15"/><circle cx="737.8" cy="1301.3" r="3.15"/><circle cx="674.3" cy="1395.4" r="3.15"/><circle cx="698.0" cy="1324.2" r="3.15"/><circle cx="730.4" cy="1355.2" r="3.15"/><circle cx="673.6" cy="1411.9" r="3.15"/><circle cx="739.5" cy="1315.9" r="3.15"/><circle cx="728.0" cy="1311.8" r="3.15"/><circle cx="717.8" cy="1356.6" r="3.15"/><circle cx="665.2" cy="1412.7" r="3.15"/><circle cx="698.4" cy="1374.7" r="3.15"/><circle cx="732.5" cy="1330.2" r="3.15"/><circle cx="738.6" cy="1288.3" r="3.15"/><circle cx="676.7" cy="1416.8" r="3.15"/><circle cx="694.6" cy="1356.6" r="3.15"/><circle cx="719.0" cy="1348.0" r="3.15"/><circle cx="669.8" cy="1410.2" r="3.15"/><circle cx="691.4" cy="1335.7" r="3.15"/><circle cx="720.2" cy="1362.4" r="3.15"/><circle cx="672.1" cy="1407.8" r="3.15"/><circle cx="704.4" cy="1346.0" r="3.15"/><circle cx="707.9" cy="1352.4" r="3.15"/><circle cx="712.9" cy="1364.1" r="3.15"/><circle cx="732.7" cy="1304.5" r="3.15"/><circle cx="678.5" cy="1403.5" r="3.15"/><circle cx="686.2" cy="1366.0" r="3.15"/><circle cx="730.3" cy="1282.4" r="3.15"/><circle cx="689.1" cy="1364.4" r="3.15"/><circle cx="688.6" cy="1362.1" r="3.15"/><circle cx="719.8" cy="1290.5" r="3.15"/><circle cx="728.6" cy="1300.0" r="3.15"/><circle cx="716.4" cy="1366.8" r="3.15"/><circle cx="677.4" cy="1407.7" r="3.15"/><circle cx="665.0" cy="1420.0" r="3.15"/><circle cx="676.4" cy="1416.4" r="3.15"/><circle cx="684.4" cy="1369.3" r="3.15"/><circle cx="719.6" cy="1333.3" r="3.15"/><circle cx="704.8" cy="1378.0" r="3.15"/><circle cx="696.8" cy="1370.2" r="3.15"/><circle cx="688.1" cy="1381.7" r="3.15"/><circle cx="680.4" cy="1376.8" r="3.15"/><circle cx="729.8" cy="1344.8" r="3.15"/><circle cx="705.1" cy="1365.9" r="3.15"/><circle cx="667.4" cy="1424.7" r="3.15"/><circle cx="709.5" cy="1331.5" r="3.15"/><circle cx="716.4" cy="1335.6" r="3.15"/><circle cx="743.0" cy="1270.0" r="3.15"/><circle cx="673.8" cy="1400.1" r="3.15"/><circle cx="751.4" cy="1300.2" r="3.15"/><circle cx="713.3" cy="1292.9" r="3.15"/><circle cx="713.6" cy="1336.6" r="3.15"/><circle cx="718.8" cy="1369.7" r="3.15"/><circle cx="742.5" cy="1265.4" r="3.15"/><circle cx="675.2" cy="1409.7" r="3.15"/><circle cx="715.8" cy="1346.2" r="3.15"/><circle cx="689.9" cy="1388.9" r="3.15"/><circle cx="683.6" cy="1374.3" r="3.15"/><circle cx="726.9" cy="1281.8" r="3.15"/><circle cx="702.0" cy="1381.4" r="3.15"/><circle cx="686.6" cy="1372.2" r="3.15"/><circle cx="670.7" cy="1421.3" r="3.15"/><circle cx="735.4" cy="1307.5" r="3.15"/><circle cx="708.5" cy="1348.0" r="3.15"/><circle cx="674.8" cy="1409.9" r="3.15"/><circle cx="683.3" cy="1386.1" r="3.15"/><circle cx="727.3" cy="1356.2" r="3.15"/><circle cx="746.5" cy="1310.5" r="3.15"/><circle cx="714.3" cy="1321.5" r="3.15"/><circle cx="697.7" cy="1321.8" r="3.15"/><circle cx="715.4" cy="1359.8" r="3.15"/><circle cx="673.2" cy="1411.9" r="3.15"/><circle cx="679.0" cy="1394.7" r="3.15"/><circle cx="701.1" cy="1343.4" r="3.15"/><circle cx="707.8" cy="1335.3" r="3.15"/><circle cx="712.5" cy="1299.2" r="3.15"/><circle cx="686.6" cy="1401.3" r="3.15"/><circle cx="746.9" cy="1323.1" r="3.15"/><circle cx="737.1" cy="1339.6" r="3.15"/><circle cx="713.5" cy="1361.6" r="3.15"/><circle cx="687.4" cy="1383.5" r="3.15"/><circle cx="730.8" cy="1322.7" r="3.15"/><circle cx="681.7" cy="1415.7" r="3.15"/><circle cx="729.3" cy="1336.7" r="3.15"/><circle cx="719.2" cy="1350.8" r="3.15"/><circle cx="743.0" cy="1306.1" r="3.15"/><circle cx="720.8" cy="1327.6" r="3.15"/><circle cx="711.4" cy="1380.7" r="3.15"/><circle cx="683.6" cy="1364.7" r="3.15"/><circle cx="662.4" cy="1418.0" r="3.15"/><circle cx="679.9" cy="1388.1" r="3.15"/><circle cx="729.4" cy="1355.4" r="3.15"/><circle cx="692.5" cy="1335.7" r="3.15"/><circle cx="709.9" cy="1386.1" r="3.15"/><circle cx="709.3" cy="1334.2" r="3.15"/><circle cx="735.3" cy="1269.7" r="3.15"/><circle cx="697.2" cy="1367.0" r="3.15"/><circle cx="692.1" cy="1393.3" r="3.15"/><circle cx="727.4" cy="1313.8" r="3.15"/><circle cx="752.8" cy="1287.5" r="3.15"/><circle cx="703.4" cy="1386.2" r="3.15"/><circle cx="690.1" cy="1389.8" r="3.15"/><circle cx="681.5" cy="1379.7" r="3.15"/><circle cx="705.2" cy="1307.5" r="3.15"/><circle cx="656.7" cy="1428.2" r="3.15"/><circle cx="718.2" cy="1345.5" r="3.15"/><circle cx="683.2" cy="1404.9" r="3.15"/><circle cx="728.7" cy="1284.3" r="3.15"/><circle cx="669.1" cy="1403.7" r="3.15"/><circle cx="675.6" cy="1391.1" r="3.15"/><circle cx="679.8" cy="1414.9" r="3.15"/><circle cx="690.5" cy="1348.9" r="3.15"/><circle cx="705.7" cy="1357.5" r="3.15"/><circle cx="663.0" cy="1417.9" r="3.15"/><circle cx="723.9" cy="1354.6" r="3.15"/><circle cx="705.8" cy="1332.1" r="3.15"/><circle cx="666.9" cy="1420.5" r="3.15"/><circle cx="697.9" cy="1325.5" r="3.15"/><circle cx="739.8" cy="1331.1" r="3.15"/><circle cx="673.7" cy="1392.8" r="3.15"/><circle cx="720.4" cy="1276.5" r="3.15"/><circle cx="725.1" cy="1328.1" r="3.15"/><circle cx="688.7" cy="1379.9" r="3.15"/><circle cx="752.3" cy="1296.0" r="3.15"/><circle cx="727.4" cy="1327.0" r="3.15"/><circle cx="681.6" cy="1374.6" r="3.15"/><circle cx="702.0" cy="1322.1" r="3.15"/><circle cx="747.3" cy="1293.0" r="3.15"/><circle cx="712.7" cy="1381.1" r="3.15"/><circle cx="713.6" cy="1327.0" r="3.15"/><circle cx="725.9" cy="1329.2" r="3.15"/><circle cx="686.4" cy="1389.5" r="3.15"/><circle cx="721.8" cy="1333.2" r="3.15"/><circle cx="704.2" cy="1331.3" r="3.15"/><circle cx="689.2" cy="1407.3" r="3.15"/><circle cx="716.7" cy="1328.3" r="3.15"/><circle cx="669.2" cy="1414.0" r="3.15"/><circle cx="675.3" cy="1393.4" r="3.15"/><circle cx="721.4" cy="1337.3" r="3.15"/><circle cx="702.1" cy="1344.8" r="3.15"/><circle cx="697.8" cy="1347.7" r="3.15"/><circle cx="695.0" cy="1378.4" r="3.15"/><circle cx="685.2" cy="1361.6" r="3.15"/><circle cx="714.2" cy="1352.6" r="3.15"/><circle cx="680.0" cy="1399.8" r="3.15"/><circle cx="699.4" cy="1399.1" r="3.15"/><circle cx="707.0" cy="1317.3" r="3.15"/><circle cx="719.8" cy="1366.7" r="3.15"/><circle cx="725.1" cy="1346.4" r="3.15"/><circle cx="745.6" cy="1324.0" r="3.15"/><circle cx="723.8" cy="1324.1" r="3.15"/><circle cx="748.2" cy="1277.1" r="3.15"/><circle cx="696.2" cy="1343.6" r="3.15"/><circle cx="688.9" cy="1388.3" r="3.15"/><circle cx="727.9" cy="1323.7" r="3.15"/><circle cx="760.5" cy="1288.2" r="3.15"/><circle cx="704.2" cy="1333.3" r="3.15"/><circle cx="746.6" cy="1309.3" r="3.15"/><circle cx="713.1" cy="1352.2" r="3.15"/><circle cx="717.2" cy="1337.4" r="3.15"/><circle cx="665.9" cy="1426.2" r="3.15"/><circle cx="684.1" cy="1380.7" r="3.15"/><circle cx="658.0" cy="1425.4" r="3.15"/><circle cx="668.7" cy="1419.5" r="3.15"/><circle cx="691.8" cy="1386.9" r="3.15"/><circle cx="711.4" cy="1344.4" r="3.15"/><circle cx="740.8" cy="1288.0" r="3.15"/><circle cx="668.0" cy="1412.9" r="3.15"/><circle cx="700.0" cy="1340.5" r="3.15"/><circle cx="695.7" cy="1349.3" r="3.15"/><circle cx="666.9" cy="1410.9" r="3.15"/><circle cx="704.2" cy="1334.0" r="3.15"/><circle cx="719.3" cy="1351.0" r="3.15"/><circle cx="676.7" cy="1410.8" r="3.15"/><circle cx="679.7" cy="1396.6" r="3.15"/><circle cx="694.8" cy="1342.8" r="3.15"/><circle cx="729.0" cy="1308.6" r="3.15"/><circle cx="715.6" cy="1366.5" r="3.15"/><circle cx="724.8" cy="1339.3" r="3.15"/><circle cx="685.0" cy="1384.5" r="3.15"/><circle cx="730.9" cy="1324.4" r="3.15"/><circle cx="716.4" cy="1332.5" r="3.15"/><circle cx="710.4" cy="1384.6" r="3.15"/><circle cx="669.4" cy="1408.2" r="3.15"/><circle cx="740.1" cy="1312.9" r="3.15"/><circle cx="676.5" cy="1417.1" r="3.15"/><circle cx="733.8" cy="1294.7" r="3.15"/><circle cx="693.6" cy="1337.0" r="3.15"/><circle cx="689.6" cy="1396.0" r="3.15"/><circle cx="713.6" cy="1348.4" r="3.15"/><circle cx="743.0" cy="1316.0" r="3.15"/><circle cx="697.4" cy="1332.3" r="3.15"/><circle cx="731.8" cy="1313.2" r="3.15"/><circle cx="713.1" cy="1332.8" r="3.15"/><circle cx="699.4" cy="1387.0" r="3.15"/><circle cx="697.2" cy="1374.0" r="3.15"/><circle cx="717.1" cy="1350.4" r="3.15"/><circle cx="709.1" cy="1355.8" r="3.15"/><circle cx="694.7" cy="1365.2" r="3.15"/><circle cx="711.6" cy="1380.0" r="3.15"/><circle cx="679.8" cy="1416.9" r="3.15"/><circle cx="738.9" cy="1283.0" r="3.15"/><circle cx="675.1" cy="1412.4" r="3.15"/><circle cx="745.5" cy="1285.9" r="3.15"/><circle cx="489.9" cy="1276.0" r="3.15"/><circle cx="499.6" cy="1301.9" r="3.15"/><circle cx="510.3" cy="1270.8" r="3.15"/><circle cx="518.1" cy="1269.5" r="3.15"/><circle cx="527.8" cy="1300.6" r="3.15"/><circle cx="533.6" cy="1277.3" r="3.15"/><circle cx="541.3" cy="1301.9" r="3.15"/><circle cx="541.3" cy="1288.9" r="3.15"/><circle cx="548.1" cy="1270.8" r="3.15"/><circle cx="547.2" cy="1281.2" r="3.15"/><circle cx="554.9" cy="1282.5" r="3.15"/><circle cx="557.8" cy="1348.5" r="3.15"/><circle cx="561.7" cy="1346.0" r="3.15"/><circle cx="579.2" cy="1390.0" r="3.15"/><circle cx="574.3" cy="1368.0" r="3.15"/><circle cx="583.0" cy="1364.1" r="3.15"/><circle cx="575.3" cy="1342.1" r="3.15"/><circle cx="584.0" cy="1353.7" r="3.15"/><circle cx="575.3" cy="1366.7" r="3.15"/><circle cx="575.3" cy="1340.8" r="3.15"/><circle cx="563.6" cy="1221.5" r="3.15"/><circle cx="568.5" cy="1221.5" r="3.15"/><circle cx="575.3" cy="1218.9" r="3.15"/><circle cx="568.5" cy="1225.4" r="3.15"/><circle cx="567.5" cy="1233.2" r="3.15"/><circle cx="570.4" cy="1231.9" r="3.15"/><circle cx="574.3" cy="1255.2" r="3.15"/><circle cx="577.2" cy="1259.1" r="3.15"/><circle cx="750.9" cy="1172.3" r="3.15"/><circle cx="741.2" cy="1202.1" r="3.15"/><circle cx="743.1" cy="1208.6" r="3.15"/><circle cx="745.0" cy="1213.8" r="3.15"/><circle cx="747.9" cy="1211.2" r="3.15"/><circle cx="741.2" cy="1231.9" r="3.15"/><circle cx="746.0" cy="1231.9" r="3.15"/><circle cx="750.9" cy="1234.5" r="3.15"/><circle cx="726.6" cy="1239.7" r="3.15"/><circle cx="732.4" cy="1237.1" r="3.15"/><circle cx="750.9" cy="1247.5" r="3.15"/><circle cx="727.6" cy="1256.5" r="3.15"/><circle cx="747.0" cy="1256.5" r="3.15"/><circle cx="785.8" cy="1260.4" r="3.15"/><circle cx="813.9" cy="1270.8" r="3.15"/><circle cx="828.5" cy="1288.9" r="3.15"/><circle cx="791.6" cy="1294.1" r="3.15"/><circle cx="805.2" cy="1299.3" r="3.15"/><circle cx="786.8" cy="1313.6" r="3.15"/><circle cx="782.9" cy="1340.8" r="3.15"/><circle cx="772.2" cy="1344.7" r="3.15"/><circle cx="773.2" cy="1329.1" r="3.15"/><circle cx="769.3" cy="1392.6" r="3.15"/><circle cx="761.5" cy="1338.2" r="3.15"/><circle cx="768.3" cy="1322.6" r="3.15"/><circle cx="775.1" cy="1307.1" r="3.15"/><circle cx="774.1" cy="1314.9" r="3.15"/><circle cx="767.3" cy="1299.3" r="3.15"/><circle cx="766.4" cy="1292.8" r="3.15"/><circle cx="758.6" cy="1292.8" r="3.15"/><circle cx="759.6" cy="1270.8" r="3.15"/><circle cx="767.3" cy="1276.0" r="3.15"/><circle cx="770.3" cy="1264.3" r="3.15"/><circle cx="769.3" cy="1269.5" r="3.15"/><circle cx="747.0" cy="1369.3" r="3.15"/><circle cx="735.3" cy="1374.5" r="3.15"/><circle cx="748.9" cy="1352.4" r="3.15"/><circle cx="743.1" cy="1338.2" r="3.15"/><circle cx="738.2" cy="1326.5" r="3.15"/><circle cx="749.9" cy="1327.8" r="3.15"/></g>
<g fill="#cd4a3b" stroke="#5a1a12" stroke-width="0.9"><circle cx="340.6" cy="1180.5" r="4.6"/><circle cx="458.9" cy="1083.5" r="3.5"/><circle cx="533.0" cy="1081.9" r="3.1"/><circle cx="499.9" cy="1103.9" r="3.1"/><circle cx="527.0" cy="1125.2" r="3.1"/><circle cx="498.5" cy="1141.4" r="3.3"/><circle cx="545.0" cy="1144.4" r="3.1"/><circle cx="512.6" cy="1150.6" r="3.4"/><circle cx="525.4" cy="1167.5" r="3.3"/><circle cx="501.8" cy="1175.6" r="3.3"/><circle cx="548.8" cy="1175.9" r="3.2"/><circle cx="533.0" cy="1187.7" r="3.1"/><circle cx="546.9" cy="1189.3" r="3.2"/><circle cx="553.1" cy="1185.1" r="3.1"/><circle cx="558.9" cy="1189.3" r="3.1"/><circle cx="493.4" cy="1200.2" r="3.3"/><circle cx="536.5" cy="1201.6" r="3.4"/><circle cx="512.0" cy="1211.5" r="3.2"/><circle cx="529.3" cy="1217.8" r="3.2"/><circle cx="544.4" cy="1216.6" r="3.2"/><circle cx="548.5" cy="1228.2" r="3.2"/><circle cx="553.6" cy="1232.1" r="3.2"/><circle cx="528.8" cy="1243.7" r="3.2"/><circle cx="542.3" cy="1251.1" r="3.3"/><circle cx="528.8" cy="1256.4" r="3.2"/><circle cx="557.8" cy="1257.6" r="3.1"/><circle cx="916.3" cy="989.4" r="4.2"/><circle cx="967.7" cy="991.0" r="4.6"/><circle cx="834.9" cy="1000.2" r="3.7"/><circle cx="796.4" cy="1014.8" r="3.5"/><circle cx="820.7" cy="1025.9" r="3.7"/><circle cx="961.5" cy="1039.4" r="4.8"/><circle cx="861.9" cy="1050.7" r="3.7"/><circle cx="918.2" cy="1076.2" r="3.7"/><circle cx="794.6" cy="1097.2" r="3.5"/><circle cx="815.0" cy="1102.1" r="3.5"/><circle cx="847.4" cy="1096.3" r="3.9"/><circle cx="922.1" cy="1104.4" r="4.4"/><circle cx="932.5" cy="1107.4" r="3.9"/><circle cx="845.7" cy="1135.2" r="3.5"/><circle cx="768.4" cy="1147.2" r="3.4"/><circle cx="803.1" cy="1147.2" r="3.5"/><circle cx="871.7" cy="1152.5" r="3.6"/><circle cx="846.9" cy="1160.0" r="3.7"/><circle cx="1024.0" cy="1149.1" r="4.8"/><circle cx="834.2" cy="1171.1" r="3.6"/><circle cx="785.1" cy="1177.5" r="3.6"/><circle cx="789.7" cy="1182.0" r="3.6"/><circle cx="855.2" cy="1178.0" r="3.8"/><circle cx="763.8" cy="1183.8" r="3.4"/><circle cx="813.6" cy="1192.1" r="3.7"/><circle cx="838.3" cy="1193.0" r="3.8"/><circle cx="775.6" cy="1202.8" r="3.6"/><circle cx="753.8" cy="1211.6" r="3.4"/><circle cx="899.4" cy="1212.7" r="4.2"/><circle cx="763.6" cy="1222.2" r="3.6"/><circle cx="796.1" cy="1225.2" r="3.7"/><circle cx="755.3" cy="1240.6" r="3.4"/><circle cx="756.1" cy="1245.1" r="3.4"/><circle cx="761.0" cy="1248.4" r="3.4"/><circle cx="773.3" cy="1243.6" r="3.6"/><circle cx="776.6" cy="1244.4" r="3.6"/><circle cx="780.8" cy="1239.6" r="3.6"/><circle cx="787.5" cy="1241.8" r="3.6"/><circle cx="805.5" cy="1236.9" r="3.6"/><circle cx="805.5" cy="1243.9" r="3.6"/><circle cx="821.2" cy="1246.3" r="3.7"/><circle cx="813.3" cy="1252.6" r="3.6"/><circle cx="773.3" cy="1251.8" r="3.6"/><circle cx="780.0" cy="1254.4" r="3.6"/><circle cx="770.0" cy="1258.1" r="3.5"/><circle cx="754.6" cy="1260.1" r="3.4"/></g>
<g clip-path="url(#clipC)" fill="#1c4f9c" stroke="#050f22" stroke-width="0.9"><circle cx="651.4" cy="2241.7" r="4.1"/><circle cx="653.9" cy="2263.1" r="3.5"/><circle cx="636.9" cy="2174.9" r="3.9"/><circle cx="650.9" cy="2158.8" r="3.4"/><circle cx="626.8" cy="2164.1" r="3.5"/><circle cx="598.8" cy="2182.3" r="3.9"/><circle cx="622.5" cy="2206.6" r="4.0"/><circle cx="663.4" cy="2255.6" r="3.4"/><circle cx="680.4" cy="2268.7" r="3.7"/><circle cx="626.2" cy="2212.4" r="4.1"/><circle cx="601.3" cy="2187.6" r="3.9"/><circle cx="644.1" cy="2183.8" r="3.7"/><circle cx="609.4" cy="2152.2" r="3.5"/><circle cx="631.0" cy="2173.7" r="3.9"/><circle cx="661.7" cy="2269.7" r="4.0"/><circle cx="661.5" cy="2206.3" r="3.7"/><circle cx="630.8" cy="2161.4" r="3.7"/><circle cx="639.8" cy="2187.3" r="3.5"/><circle cx="658.2" cy="2231.2" r="4.1"/><circle cx="627.0" cy="2236.7" r="3.7"/><circle cx="638.5" cy="2245.5" r="4.0"/><circle cx="669.7" cy="2229.0" r="4.1"/><circle cx="625.5" cy="2228.5" r="4.1"/><circle cx="637.7" cy="2234.9" r="4.0"/><circle cx="647.5" cy="2231.4" r="3.8"/><circle cx="651.5" cy="2246.1" r="4.0"/><circle cx="634.3" cy="2229.3" r="3.6"/><circle cx="657.4" cy="2226.7" r="3.4"/><circle cx="637.2" cy="2172.2" r="3.4"/><circle cx="605.3" cy="2184.5" r="3.6"/><circle cx="610.9" cy="2146.5" r="3.8"/><circle cx="628.6" cy="2224.2" r="3.9"/><circle cx="630.9" cy="2179.2" r="3.8"/><circle cx="644.1" cy="2187.4" r="3.9"/><circle cx="669.4" cy="2228.3" r="3.7"/><circle cx="683.0" cy="2272.2" r="3.9"/><circle cx="628.1" cy="2199.9" r="3.6"/><circle cx="631.9" cy="2184.7" r="4.3"/><circle cx="639.1" cy="2180.3" r="3.8"/><circle cx="617.9" cy="2162.6" r="4.3"/><circle cx="620.3" cy="2223.7" r="3.8"/><circle cx="653.5" cy="2223.1" r="4.1"/><circle cx="643.0" cy="2187.0" r="3.7"/><circle cx="642.7" cy="2204.3" r="3.7"/><circle cx="663.0" cy="2221.3" r="3.4"/><circle cx="616.5" cy="2203.1" r="4.2"/><circle cx="659.5" cy="2226.9" r="3.8"/><circle cx="658.2" cy="2200.0" r="3.7"/><circle cx="666.3" cy="2264.5" r="3.5"/><circle cx="637.8" cy="2215.7" r="3.8"/><circle cx="623.9" cy="2162.4" r="3.9"/><circle cx="670.0" cy="2248.4" r="4.0"/><circle cx="650.3" cy="2197.5" r="3.5"/><circle cx="628.5" cy="2151.4" r="3.5"/><circle cx="646.9" cy="2241.8" r="4.2"/><circle cx="605.4" cy="2199.9" r="3.7"/><circle cx="649.3" cy="2207.7" r="4.2"/><circle cx="628.0" cy="2149.2" r="4.0"/><circle cx="617.5" cy="2216.1" r="3.6"/><circle cx="663.5" cy="2211.4" r="3.5"/><circle cx="614.8" cy="2191.7" r="4.1"/><circle cx="656.9" cy="2171.8" r="3.5"/><circle cx="614.9" cy="2186.6" r="4.0"/><circle cx="625.6" cy="2193.7" r="3.5"/><circle cx="671.1" cy="2229.0" r="4.1"/><circle cx="648.6" cy="2219.0" r="4.1"/><circle cx="630.0" cy="2154.8" r="3.4"/><circle cx="611.8" cy="2147.0" r="4.2"/><circle cx="638.1" cy="2244.2" r="3.4"/><circle cx="633.1" cy="2204.5" r="3.5"/><circle cx="607.3" cy="2163.1" r="3.7"/><circle cx="616.7" cy="2179.1" r="3.5"/><circle cx="619.8" cy="2173.4" r="3.8"/><circle cx="655.7" cy="2180.9" r="4.0"/><circle cx="622.1" cy="2204.8" r="3.7"/><circle cx="661.8" cy="2238.5" r="3.5"/><circle cx="653.6" cy="2199.8" r="4.3"/><circle cx="615.7" cy="2148.5" r="3.8"/><circle cx="598.4" cy="2176.1" r="3.8"/><circle cx="621.6" cy="2148.6" r="3.4"/><circle cx="630.6" cy="2213.3" r="3.5"/><circle cx="622.3" cy="2156.3" r="3.9"/><circle cx="638.6" cy="2218.7" r="3.7"/><circle cx="651.6" cy="2239.5" r="4.2"/><circle cx="621.7" cy="2202.2" r="4.1"/><circle cx="613.8" cy="2157.3" r="3.7"/><circle cx="622.2" cy="2159.2" r="3.5"/><circle cx="615.8" cy="2153.1" r="3.8"/><circle cx="647.1" cy="2174.8" r="3.5"/><circle cx="619.7" cy="2192.1" r="3.5"/><circle cx="632.4" cy="2184.0" r="4.1"/><circle cx="664.3" cy="2219.2" r="3.8"/><circle cx="669.7" cy="2230.1" r="4.3"/><circle cx="661.4" cy="2236.2" r="3.6"/><circle cx="598.9" cy="2164.5" r="3.6"/><circle cx="656.4" cy="2180.2" r="3.5"/><circle cx="664.7" cy="2216.8" r="3.4"/><circle cx="673.8" cy="2269.7" r="4.0"/><circle cx="614.5" cy="2199.5" r="3.7"/><circle cx="670.7" cy="2239.7" r="3.5"/><circle cx="642.7" cy="2164.8" r="4.0"/><circle cx="603.8" cy="2184.4" r="4.2"/><circle cx="636.2" cy="2200.2" r="3.8"/><circle cx="665.1" cy="2267.9" r="3.9"/><circle cx="613.0" cy="2179.0" r="3.6"/><circle cx="645.7" cy="2189.8" r="4.1"/><circle cx="615.5" cy="2189.1" r="3.6"/><circle cx="651.0" cy="2195.7" r="3.5"/><circle cx="608.7" cy="2155.0" r="4.0"/><circle cx="651.5" cy="2249.6" r="3.7"/><circle cx="610.1" cy="2194.1" r="3.7"/><circle cx="637.6" cy="2236.5" r="3.8"/><circle cx="658.0" cy="2232.0" r="3.9"/><circle cx="656.8" cy="2212.1" r="3.7"/><circle cx="647.4" cy="2244.1" r="4.0"/><circle cx="657.5" cy="2254.7" r="4.1"/><circle cx="650.3" cy="2169.8" r="3.9"/><circle cx="644.0" cy="2194.7" r="3.4"/><circle cx="629.5" cy="2165.7" r="4.0"/><circle cx="677.5" cy="2264.4" r="4.0"/><circle cx="629.2" cy="2156.4" r="4.0"/><circle cx="644.9" cy="2238.1" r="3.7"/><circle cx="613.9" cy="2150.2" r="3.9"/><circle cx="671.0" cy="2260.1" r="4.1"/><circle cx="632.0" cy="2199.0" r="3.9"/><circle cx="649.6" cy="2166.5" r="3.6"/><circle cx="648.8" cy="2228.8" r="4.0"/><circle cx="671.4" cy="2270.7" r="3.7"/><circle cx="637.7" cy="2155.3" r="3.6"/><circle cx="607.5" cy="2154.2" r="3.5"/><circle cx="650.8" cy="2155.8" r="4.1"/><circle cx="662.1" cy="2251.7" r="4.1"/><circle cx="659.9" cy="2266.3" r="4.3"/><circle cx="628.0" cy="2203.5" r="4.0"/><circle cx="643.9" cy="2192.3" r="3.5"/><circle cx="649.0" cy="2192.2" r="4.0"/><circle cx="620.6" cy="2157.5" r="3.8"/><circle cx="628.7" cy="2180.9" r="3.8"/><circle cx="658.4" cy="2248.1" r="3.9"/><circle cx="620.6" cy="2187.1" r="4.2"/><circle cx="641.7" cy="2148.5" r="3.8"/><circle cx="618.3" cy="2154.6" r="3.8"/><circle cx="635.9" cy="2193.3" r="3.9"/><circle cx="597.7" cy="2171.2" r="4.3"/><circle cx="634.4" cy="2205.3" r="3.5"/><circle cx="640.6" cy="2148.8" r="3.8"/><circle cx="666.1" cy="2200.3" r="3.9"/><circle cx="664.0" cy="2261.9" r="3.5"/><circle cx="618.2" cy="2205.0" r="3.7"/><circle cx="655.6" cy="2158.3" r="3.6"/><circle cx="635.9" cy="2151.7" r="3.7"/><circle cx="677.3" cy="2261.0" r="3.6"/><circle cx="649.2" cy="2160.1" r="3.6"/><circle cx="679.5" cy="2268.1" r="3.4"/><circle cx="610.1" cy="2199.5" r="3.6"/><circle cx="663.8" cy="2192.0" r="4.1"/><circle cx="653.4" cy="2192.2" r="3.7"/><circle cx="637.7" cy="2220.1" r="4.3"/><circle cx="615.4" cy="2218.4" r="3.6"/><circle cx="644.1" cy="2240.3" r="3.5"/><circle cx="638.1" cy="2236.8" r="3.4"/><circle cx="665.4" cy="2198.2" r="3.9"/><circle cx="650.3" cy="2248.6" r="3.5"/><circle cx="639.9" cy="2146.9" r="3.7"/><circle cx="635.1" cy="2230.0" r="4.2"/><circle cx="627.6" cy="2213.2" r="4.0"/><circle cx="681.1" cy="2269.7" r="4.3"/><circle cx="621.2" cy="2164.2" r="4.2"/><circle cx="642.6" cy="2194.1" r="4.2"/><circle cx="620.9" cy="2216.1" r="4.1"/><circle cx="605.7" cy="2189.0" r="3.8"/><circle cx="646.1" cy="2169.7" r="3.8"/><circle cx="629.3" cy="2226.5" r="3.6"/><circle cx="648.2" cy="2157.5" r="4.0"/><circle cx="650.3" cy="2224.2" r="3.6"/><circle cx="636.1" cy="2229.2" r="4.2"/><circle cx="617.1" cy="2182.0" r="3.4"/><circle cx="664.2" cy="2211.2" r="4.2"/><circle cx="636.6" cy="2162.7" r="3.6"/><circle cx="601.0" cy="2189.2" r="3.5"/><circle cx="632.8" cy="2225.5" r="4.0"/><circle cx="609.2" cy="2160.4" r="3.8"/><circle cx="657.5" cy="2202.0" r="3.9"/><circle cx="639.3" cy="2214.0" r="4.2"/><circle cx="645.1" cy="2231.0" r="3.8"/><circle cx="666.7" cy="2254.4" r="3.7"/><circle cx="602.9" cy="2176.6" r="3.7"/><circle cx="652.3" cy="2255.5" r="3.9"/><circle cx="652.7" cy="2239.3" r="3.6"/><circle cx="631.2" cy="2186.1" r="3.5"/><circle cx="631.9" cy="2172.2" r="3.4"/><circle cx="646.0" cy="2180.8" r="3.5"/><circle cx="636.7" cy="2155.6" r="4.1"/><circle cx="618.4" cy="2216.0" r="4.3"/><circle cx="633.0" cy="2169.9" r="3.9"/><circle cx="642.6" cy="2160.5" r="3.4"/><circle cx="637.1" cy="2244.0" r="3.9"/><circle cx="605.4" cy="2169.0" r="4.0"/><circle cx="605.3" cy="2164.3" r="3.5"/><circle cx="634.8" cy="2225.2" r="4.2"/><circle cx="647.4" cy="2175.7" r="3.7"/><circle cx="653.0" cy="2207.6" r="4.2"/><circle cx="654.5" cy="2243.7" r="4.1"/><circle cx="671.7" cy="2232.8" r="3.7"/><circle cx="661.7" cy="2209.8" r="4.0"/><circle cx="650.6" cy="2249.0" r="3.5"/><circle cx="665.5" cy="2254.5" r="3.4"/><circle cx="643.2" cy="2206.2" r="3.5"/><circle cx="629.0" cy="2228.6" r="3.6"/><circle cx="647.5" cy="2241.9" r="3.9"/><circle cx="633.7" cy="2183.0" r="4.1"/><circle cx="627.9" cy="2222.1" r="4.1"/><circle cx="634.6" cy="2234.2" r="3.5"/><circle cx="602.7" cy="2203.5" r="3.8"/><circle cx="651.5" cy="2254.2" r="4.0"/><circle cx="660.2" cy="2256.4" r="4.0"/><circle cx="611.7" cy="2150.6" r="3.7"/><circle cx="602.1" cy="2191.5" r="3.5"/><circle cx="657.7" cy="2171.0" r="3.8"/><circle cx="635.2" cy="2196.8" r="3.4"/><circle cx="635.7" cy="2245.2" r="4.0"/><circle cx="674.8" cy="2265.3" r="4.1"/><circle cx="631.9" cy="2230.6" r="4.0"/><circle cx="610.7" cy="2185.8" r="3.6"/><circle cx="657.0" cy="2245.4" r="3.6"/><circle cx="606.3" cy="2180.5" r="3.4"/><circle cx="606.7" cy="2199.0" r="3.5"/><circle cx="600.2" cy="2162.0" r="3.4"/><circle cx="608.8" cy="2199.2" r="3.8"/><circle cx="641.6" cy="2152.8" r="4.0"/><circle cx="641.1" cy="2205.0" r="3.8"/><circle cx="607.0" cy="2179.2" r="3.8"/><circle cx="620.1" cy="2153.9" r="3.7"/><circle cx="625.0" cy="2169.9" r="4.0"/><circle cx="636.2" cy="2155.0" r="4.2"/><circle cx="619.6" cy="2177.3" r="4.1"/><circle cx="640.1" cy="2188.4" r="3.9"/><circle cx="654.6" cy="2224.6" r="3.8"/><circle cx="632.9" cy="2159.5" r="3.8"/><circle cx="649.6" cy="2221.3" r="3.6"/><circle cx="634.7" cy="2240.6" r="3.4"/><circle cx="635.8" cy="2163.5" r="3.7"/><circle cx="658.1" cy="2210.5" r="4.2"/><circle cx="609.4" cy="2205.7" r="3.7"/><circle cx="651.6" cy="2156.7" r="4.2"/><circle cx="661.3" cy="2203.4" r="3.7"/><circle cx="609.0" cy="2197.2" r="4.2"/><circle cx="630.6" cy="2176.1" r="4.0"/><circle cx="633.9" cy="2224.4" r="3.8"/><circle cx="654.8" cy="2174.5" r="3.8"/><circle cx="647.5" cy="2209.6" r="4.2"/><circle cx="650.4" cy="2163.6" r="4.2"/><circle cx="642.3" cy="2147.8" r="3.6"/><circle cx="616.1" cy="2150.5" r="3.5"/><circle cx="671.5" cy="2247.2" r="3.6"/><circle cx="608.6" cy="2178.1" r="3.5"/><circle cx="672.9" cy="2240.0" r="4.1"/><circle cx="646.8" cy="2179.8" r="3.4"/><circle cx="617.2" cy="2203.4" r="3.5"/><circle cx="600.3" cy="2175.0" r="3.7"/><circle cx="662.9" cy="2221.6" r="3.7"/><circle cx="629.7" cy="2184.5" r="4.0"/><circle cx="673.3" cy="2248.3" r="3.7"/><circle cx="614.2" cy="2169.4" r="4.0"/><circle cx="647.8" cy="2179.7" r="4.1"/><circle cx="648.5" cy="2236.7" r="4.1"/><circle cx="636.6" cy="2215.2" r="3.5"/><circle cx="662.6" cy="2188.4" r="3.8"/><circle cx="645.5" cy="2223.3" r="4.0"/><circle cx="622.1" cy="2179.3" r="3.8"/><circle cx="649.4" cy="2228.6" r="3.5"/><circle cx="634.8" cy="2217.2" r="3.6"/><circle cx="639.7" cy="2181.4" r="3.4"/><circle cx="618.2" cy="2163.5" r="3.8"/><circle cx="658.2" cy="2225.9" r="3.4"/><circle cx="614.3" cy="2179.6" r="4.2"/><circle cx="634.4" cy="2176.4" r="3.8"/><circle cx="638.4" cy="2161.8" r="4.0"/><circle cx="660.7" cy="2206.0" r="3.9"/><circle cx="665.4" cy="2270.6" r="4.0"/><circle cx="650.8" cy="2224.5" r="4.0"/><circle cx="659.1" cy="2172.8" r="4.0"/><circle cx="614.1" cy="2208.0" r="3.9"/><circle cx="660.8" cy="2244.9" r="3.8"/><circle cx="654.2" cy="2214.5" r="4.1"/><circle cx="650.7" cy="2235.9" r="4.3"/><circle cx="668.4" cy="2253.4" r="3.5"/><circle cx="642.8" cy="2231.7" r="4.0"/><circle cx="639.2" cy="2208.2" r="4.0"/><circle cx="645.7" cy="2148.3" r="4.3"/><circle cx="622.8" cy="2209.0" r="3.4"/><circle cx="655.6" cy="2218.3" r="4.2"/><circle cx="637.7" cy="2186.0" r="3.6"/><circle cx="606.7" cy="2184.1" r="4.1"/><circle cx="620.4" cy="2226.5" r="3.8"/><circle cx="634.1" cy="2245.0" r="3.9"/><circle cx="660.2" cy="2241.1" r="4.1"/><circle cx="678.4" cy="2264.1" r="3.5"/><circle cx="600.5" cy="2199.2" r="3.9"/><circle cx="635.5" cy="2183.5" r="4.3"/><circle cx="637.5" cy="2183.2" r="4.1"/><circle cx="615.7" cy="2198.7" r="3.5"/><circle cx="642.1" cy="2232.5" r="4.0"/><circle cx="641.9" cy="2191.1" r="3.5"/><circle cx="614.7" cy="2184.0" r="3.8"/><circle cx="647.2" cy="2181.0" r="4.0"/><circle cx="614.8" cy="2150.3" r="3.9"/><circle cx="609.8" cy="2201.8" r="4.2"/><circle cx="671.6" cy="2267.7" r="4.1"/><circle cx="599.6" cy="2179.4" r="4.0"/><circle cx="625.5" cy="2188.2" r="3.6"/><circle cx="613.9" cy="2211.3" r="3.7"/><circle cx="617.9" cy="2197.2" r="4.3"/><circle cx="649.0" cy="2243.1" r="4.2"/><circle cx="650.7" cy="2205.9" r="4.0"/><circle cx="633.1" cy="2167.9" r="3.6"/><circle cx="653.0" cy="2190.1" r="3.7"/><circle cx="621.2" cy="2223.6" r="3.9"/><circle cx="638.7" cy="2233.4" r="3.8"/><circle cx="667.2" cy="2237.7" r="3.6"/><circle cx="632.0" cy="2162.8" r="3.4"/><circle cx="657.5" cy="2186.0" r="3.6"/><circle cx="626.4" cy="2200.5" r="4.0"/><circle cx="653.4" cy="2180.4" r="4.2"/><circle cx="650.2" cy="2237.4" r="3.5"/><circle cx="662.2" cy="2185.1" r="3.6"/><circle cx="637.1" cy="2217.5" r="4.0"/><circle cx="617.4" cy="2151.9" r="3.5"/><circle cx="647.6" cy="2222.4" r="4.3"/><circle cx="651.3" cy="2256.7" r="4.3"/><circle cx="639.5" cy="2198.5" r="3.8"/><circle cx="663.3" cy="2215.5" r="3.9"/><circle cx="647.0" cy="2157.2" r="3.5"/><circle cx="661.6" cy="2188.8" r="3.5"/><circle cx="669.6" cy="2242.5" r="4.1"/><circle cx="629.2" cy="2159.5" r="4.1"/><circle cx="667.2" cy="2221.0" r="4.3"/><circle cx="647.4" cy="2182.4" r="3.6"/><circle cx="644.4" cy="2223.6" r="4.2"/><circle cx="649.7" cy="2209.1" r="4.0"/><circle cx="651.9" cy="2196.7" r="3.6"/><circle cx="657.0" cy="2193.8" r="3.4"/><circle cx="608.7" cy="2190.1" r="4.0"/><circle cx="654.6" cy="2207.8" r="4.1"/><circle cx="623.5" cy="2189.0" r="4.1"/><circle cx="656.8" cy="2199.1" r="4.2"/><circle cx="655.4" cy="2228.2" r="4.3"/><circle cx="624.7" cy="2194.2" r="3.5"/><circle cx="606.5" cy="2167.4" r="4.3"/><circle cx="639.7" cy="2243.4" r="3.7"/><circle cx="615.6" cy="2191.4" r="4.3"/><circle cx="656.9" cy="2177.5" r="4.1"/><circle cx="606.8" cy="2169.0" r="4.0"/><circle cx="617.0" cy="2208.2" r="3.5"/><circle cx="645.5" cy="2232.8" r="3.7"/><circle cx="647.6" cy="2212.8" r="4.1"/><circle cx="647.0" cy="2227.7" r="3.9"/><circle cx="674.3" cy="2254.1" r="3.4"/><circle cx="658.8" cy="2192.4" r="3.5"/><circle cx="664.8" cy="2237.4" r="3.8"/><circle cx="618.2" cy="2190.8" r="4.2"/><circle cx="636.4" cy="2170.0" r="4.3"/><circle cx="661.5" cy="2193.8" r="3.8"/><circle cx="657.2" cy="2178.5" r="3.9"/><circle cx="611.9" cy="2171.5" r="3.9"/><circle cx="602.7" cy="2184.3" r="4.3"/><circle cx="658.3" cy="2166.5" r="3.8"/><circle cx="608.5" cy="2175.3" r="3.7"/><circle cx="620.1" cy="2176.0" r="3.5"/><circle cx="603.5" cy="2200.8" r="3.5"/><circle cx="642.0" cy="2176.1" r="4.1"/><circle cx="643.7" cy="2176.6" r="4.1"/><circle cx="632.0" cy="2191.6" r="3.9"/><circle cx="636.1" cy="2208.5" r="4.2"/><circle cx="644.7" cy="2222.4" r="3.7"/><circle cx="655.3" cy="2207.5" r="4.2"/><circle cx="602.2" cy="2175.4" r="3.5"/><circle cx="671.3" cy="2229.3" r="4.2"/><circle cx="661.2" cy="2240.2" r="3.6"/><circle cx="632.6" cy="2192.9" r="3.8"/><circle cx="652.2" cy="2152.8" r="3.6"/><circle cx="647.2" cy="2248.1" r="3.6"/><circle cx="616.2" cy="2192.5" r="3.8"/><circle cx="618.9" cy="2188.1" r="3.9"/><circle cx="607.8" cy="2194.5" r="3.5"/><circle cx="654.6" cy="2258.6" r="4.2"/><circle cx="649.0" cy="2193.6" r="3.9"/><circle cx="645.1" cy="2165.5" r="3.9"/><circle cx="639.6" cy="2168.3" r="3.8"/><circle cx="671.5" cy="2228.2" r="3.7"/><circle cx="620.8" cy="2205.2" r="3.8"/><circle cx="651.8" cy="2260.1" r="3.7"/><circle cx="643.4" cy="2217.5" r="4.0"/><circle cx="615.7" cy="2175.0" r="4.2"/><circle cx="639.0" cy="2202.5" r="3.6"/><circle cx="655.2" cy="2159.4" r="3.8"/><circle cx="666.5" cy="2238.1" r="3.8"/><circle cx="599.7" cy="2161.3" r="4.3"/><circle cx="659.6" cy="2267.8" r="3.5"/><circle cx="636.4" cy="2173.1" r="4.1"/><circle cx="666.4" cy="2239.6" r="3.8"/><circle cx="639.0" cy="2195.0" r="3.8"/><circle cx="623.4" cy="2204.9" r="4.3"/><circle cx="628.6" cy="2204.6" r="3.9"/><circle cx="644.0" cy="2215.4" r="3.7"/><circle cx="627.5" cy="2232.2" r="3.7"/><circle cx="620.7" cy="2164.9" r="3.7"/><circle cx="631.9" cy="2174.1" r="4.2"/><circle cx="639.6" cy="2159.5" r="3.6"/><circle cx="630.2" cy="2157.8" r="3.5"/><circle cx="649.7" cy="2182.2" r="4.2"/><circle cx="632.7" cy="2235.0" r="4.1"/><circle cx="659.0" cy="2243.2" r="3.7"/><circle cx="607.0" cy="2191.4" r="4.3"/><circle cx="596.2" cy="2179.7" r="3.7"/><circle cx="661.2" cy="2202.7" r="4.0"/><circle cx="641.1" cy="2190.3" r="3.8"/><circle cx="601.9" cy="2169.1" r="4.1"/><circle cx="640.6" cy="2242.6" r="4.1"/><circle cx="621.3" cy="2193.6" r="4.1"/><circle cx="620.4" cy="2201.7" r="4.3"/><circle cx="634.0" cy="2164.8" r="4.2"/><circle cx="646.5" cy="2255.2" r="3.8"/><circle cx="650.2" cy="2243.0" r="3.9"/><circle cx="613.4" cy="2185.5" r="4.2"/><circle cx="642.3" cy="2146.0" r="4.0"/><circle cx="635.7" cy="2226.7" r="4.0"/><circle cx="666.5" cy="2239.5" r="4.0"/><circle cx="611.3" cy="2207.8" r="3.6"/><circle cx="669.6" cy="2254.1" r="3.8"/><circle cx="659.6" cy="2189.5" r="3.9"/><circle cx="666.5" cy="2217.6" r="3.9"/><circle cx="657.2" cy="2217.5" r="4.0"/><circle cx="663.0" cy="2217.0" r="3.9"/><circle cx="637.1" cy="2180.7" r="3.5"/><circle cx="633.7" cy="2173.7" r="3.6"/><circle cx="624.0" cy="2158.5" r="3.4"/><circle cx="632.3" cy="2158.0" r="3.8"/><circle cx="640.5" cy="2149.2" r="3.9"/><circle cx="611.3" cy="2206.5" r="3.7"/><circle cx="637.9" cy="2224.6" r="4.3"/><circle cx="657.6" cy="2210.3" r="4.1"/><circle cx="640.5" cy="2167.7" r="4.0"/><circle cx="618.2" cy="2170.3" r="3.7"/><circle cx="638.4" cy="2146.0" r="3.7"/><circle cx="635.8" cy="2235.8" r="3.9"/><circle cx="630.9" cy="2220.0" r="3.6"/><circle cx="657.1" cy="2198.9" r="4.0"/><circle cx="625.5" cy="2227.8" r="3.6"/><circle cx="638.5" cy="2208.1" r="3.4"/><circle cx="604.6" cy="2203.8" r="4.1"/><circle cx="669.2" cy="2255.5" r="4.1"/><circle cx="622.6" cy="2160.4" r="4.2"/><circle cx="612.4" cy="2173.4" r="3.9"/><circle cx="642.7" cy="2216.4" r="3.9"/><circle cx="667.9" cy="2252.6" r="4.2"/><circle cx="663.1" cy="2254.0" r="4.1"/><circle cx="658.1" cy="2186.6" r="4.1"/><circle cx="653.0" cy="2171.2" r="4.2"/><circle cx="637.3" cy="2213.3" r="3.6"/><circle cx="636.4" cy="2173.7" r="4.1"/><circle cx="637.0" cy="2152.5" r="3.8"/><circle cx="624.9" cy="2174.2" r="4.1"/><circle cx="628.6" cy="2224.9" r="4.1"/><circle cx="633.0" cy="2166.8" r="3.7"/><circle cx="672.3" cy="2254.1" r="3.8"/><circle cx="630.4" cy="2167.1" r="4.1"/><circle cx="620.3" cy="2177.4" r="3.6"/><circle cx="657.5" cy="2228.8" r="4.2"/><circle cx="648.3" cy="2206.9" r="4.2"/><circle cx="624.1" cy="2162.2" r="3.5"/><circle cx="670.1" cy="2254.3" r="3.4"/><circle cx="621.6" cy="2177.3" r="3.6"/><circle cx="635.4" cy="2213.3" r="4.3"/><circle cx="602.9" cy="2159.8" r="4.2"/><circle cx="619.8" cy="2214.3" r="3.7"/><circle cx="677.1" cy="2267.6" r="3.9"/><circle cx="601.6" cy="2191.8" r="4.0"/><circle cx="646.1" cy="2179.5" r="3.8"/><circle cx="598.5" cy="2196.1" r="4.1"/><circle cx="629.2" cy="2204.6" r="3.6"/><circle cx="659.9" cy="2197.9" r="3.7"/><circle cx="653.2" cy="2241.2" r="3.4"/><circle cx="631.1" cy="2159.2" r="3.7"/><circle cx="624.9" cy="2191.1" r="3.5"/><circle cx="605.2" cy="2152.8" r="4.3"/><circle cx="608.4" cy="2182.4" r="3.6"/><circle cx="662.5" cy="2208.5" r="3.6"/><circle cx="639.0" cy="2199.7" r="3.5"/><circle cx="644.2" cy="2213.4" r="4.0"/><circle cx="624.7" cy="2224.6" r="3.6"/><circle cx="641.9" cy="2174.0" r="4.1"/><circle cx="610.7" cy="2180.9" r="3.5"/><circle cx="620.9" cy="2214.7" r="3.6"/><circle cx="613.1" cy="2195.5" r="4.2"/><circle cx="663.1" cy="2263.4" r="3.9"/><circle cx="624.3" cy="2209.3" r="3.5"/><circle cx="657.1" cy="2254.8" r="4.2"/><circle cx="671.0" cy="2228.9" r="4.1"/><circle cx="620.2" cy="2217.5" r="3.5"/><circle cx="646.5" cy="2169.1" r="4.0"/><circle cx="637.7" cy="2168.7" r="3.5"/><circle cx="667.9" cy="2256.1" r="3.9"/><circle cx="646.2" cy="2148.7" r="3.9"/><circle cx="667.9" cy="2261.5" r="3.8"/><circle cx="656.9" cy="2251.0" r="3.8"/><circle cx="648.1" cy="2253.0" r="3.6"/><circle cx="614.2" cy="2215.4" r="3.9"/><circle cx="660.2" cy="2170.5" r="3.4"/><circle cx="635.8" cy="2175.4" r="3.4"/><circle cx="653.2" cy="2184.3" r="3.6"/><circle cx="633.9" cy="2237.6" r="3.7"/><circle cx="645.6" cy="2167.1" r="3.9"/><circle cx="647.0" cy="2205.6" r="3.8"/><circle cx="663.3" cy="2219.7" r="4.0"/><circle cx="634.5" cy="2195.6" r="4.1"/><circle cx="609.8" cy="2187.8" r="3.6"/><circle cx="636.9" cy="2242.0" r="3.5"/><circle cx="649.6" cy="2251.1" r="3.7"/><circle cx="601.5" cy="2193.3" r="4.1"/><circle cx="674.6" cy="2252.2" r="3.8"/><circle cx="658.4" cy="2243.0" r="4.2"/><circle cx="667.1" cy="2212.1" r="3.8"/><circle cx="640.3" cy="2159.5" r="4.0"/><circle cx="605.4" cy="2186.8" r="3.9"/><circle cx="640.0" cy="2228.5" r="4.1"/><circle cx="623.1" cy="2188.7" r="4.1"/><circle cx="600.1" cy="2179.2" r="4.1"/><circle cx="663.1" cy="2231.8" r="3.9"/><circle cx="666.8" cy="2216.2" r="3.9"/><circle cx="617.2" cy="2206.7" r="4.0"/><circle cx="611.3" cy="2215.0" r="4.3"/><circle cx="606.8" cy="2171.2" r="3.6"/><circle cx="647.3" cy="2169.7" r="4.2"/><circle cx="658.6" cy="2173.6" r="3.5"/><circle cx="652.2" cy="2181.3" r="3.9"/><circle cx="646.5" cy="2169.2" r="4.2"/><circle cx="643.1" cy="2194.1" r="4.1"/><circle cx="616.9" cy="2202.8" r="3.4"/><circle cx="667.5" cy="2272.9" r="3.9"/><circle cx="672.3" cy="2266.5" r="3.8"/><circle cx="640.7" cy="2146.4" r="4.3"/><circle cx="609.1" cy="2188.9" r="3.7"/><circle cx="660.4" cy="2236.0" r="4.3"/><circle cx="658.0" cy="2248.0" r="3.5"/><circle cx="624.0" cy="2224.5" r="3.7"/><circle cx="671.7" cy="2230.7" r="3.8"/><circle cx="597.8" cy="2198.5" r="3.5"/><circle cx="650.8" cy="2228.3" r="4.3"/><circle cx="644.3" cy="2211.5" r="3.4"/><circle cx="661.4" cy="2250.1" r="4.1"/><circle cx="648.1" cy="2153.3" r="3.6"/><circle cx="628.8" cy="2223.3" r="3.8"/><circle cx="643.4" cy="2177.7" r="3.7"/><circle cx="653.1" cy="2223.0" r="3.9"/><circle cx="617.2" cy="2151.9" r="3.7"/><circle cx="641.3" cy="2249.9" r="3.9"/><circle cx="646.8" cy="2221.3" r="4.0"/><circle cx="640.4" cy="2155.3" r="4.1"/><circle cx="620.7" cy="2153.8" r="3.6"/><circle cx="651.6" cy="2213.7" r="4.1"/><circle cx="640.9" cy="2175.6" r="4.3"/><circle cx="654.3" cy="2219.8" r="3.9"/><circle cx="658.7" cy="2166.4" r="4.2"/><circle cx="656.9" cy="2260.5" r="4.3"/><circle cx="626.8" cy="2174.1" r="3.5"/><circle cx="611.9" cy="2185.1" r="3.5"/><circle cx="611.7" cy="2176.2" r="4.3"/><circle cx="632.7" cy="2224.9" r="3.9"/><circle cx="624.0" cy="2223.6" r="3.7"/><circle cx="615.0" cy="2187.5" r="4.1"/><circle cx="646.6" cy="2170.6" r="3.5"/><circle cx="655.7" cy="2194.7" r="4.0"/><circle cx="628.4" cy="2165.8" r="3.7"/><circle cx="664.5" cy="2258.1" r="3.9"/><circle cx="663.5" cy="2218.6" r="3.9"/><circle cx="628.0" cy="2227.8" r="3.6"/><circle cx="643.3" cy="2161.6" r="4.3"/><circle cx="642.0" cy="2205.6" r="3.8"/><circle cx="626.2" cy="2156.9" r="3.7"/><circle cx="655.9" cy="2242.0" r="3.8"/><circle cx="642.0" cy="2145.8" r="3.5"/><circle cx="611.0" cy="2166.9" r="3.6"/><circle cx="638.9" cy="2217.4" r="3.7"/><circle cx="641.6" cy="2191.7" r="3.7"/><circle cx="681.3" cy="2270.3" r="4.1"/><circle cx="614.5" cy="2160.6" r="3.5"/><circle cx="602.5" cy="2194.2" r="3.9"/><circle cx="612.4" cy="2152.7" r="3.7"/><circle cx="619.2" cy="2220.6" r="3.9"/><circle cx="614.7" cy="2214.6" r="3.6"/><circle cx="640.4" cy="2186.3" r="4.0"/><circle cx="619.9" cy="2164.3" r="4.3"/><circle cx="624.0" cy="2216.4" r="3.8"/><circle cx="609.9" cy="2164.5" r="3.5"/><circle cx="640.9" cy="2227.5" r="4.0"/><circle cx="637.3" cy="2157.9" r="3.6"/><circle cx="615.4" cy="2200.8" r="4.2"/><circle cx="643.7" cy="2168.0" r="3.7"/><circle cx="648.3" cy="2230.9" r="3.5"/><circle cx="602.3" cy="2186.6" r="3.7"/><circle cx="634.2" cy="2205.1" r="3.9"/><circle cx="637.6" cy="2220.5" r="4.2"/><circle cx="651.3" cy="2234.6" r="4.2"/><circle cx="661.9" cy="2203.4" r="4.3"/><circle cx="609.3" cy="2158.1" r="3.5"/><circle cx="674.3" cy="2242.5" r="3.9"/><circle cx="643.5" cy="2193.4" r="4.1"/><circle cx="635.8" cy="2147.5" r="4.0"/><circle cx="631.5" cy="2198.2" r="4.0"/><circle cx="652.8" cy="2189.1" r="3.6"/><circle cx="661.3" cy="2226.4" r="3.4"/><circle cx="603.2" cy="2194.3" r="3.4"/><circle cx="646.2" cy="2213.7" r="3.6"/><circle cx="650.3" cy="2205.0" r="4.0"/><circle cx="667.2" cy="2249.4" r="4.0"/><circle cx="611.1" cy="2191.8" r="3.9"/><circle cx="618.3" cy="2152.8" r="3.7"/><circle cx="672.5" cy="2262.0" r="4.3"/><circle cx="641.0" cy="2225.1" r="3.4"/><circle cx="660.7" cy="2254.4" r="3.7"/><circle cx="650.2" cy="2154.7" r="4.2"/><circle cx="633.1" cy="2203.5" r="3.6"/><circle cx="674.8" cy="2270.2" r="3.8"/><circle cx="642.0" cy="2180.4" r="4.0"/><circle cx="651.1" cy="2255.8" r="3.4"/><circle cx="651.7" cy="2192.4" r="3.5"/><circle cx="648.9" cy="2174.5" r="4.2"/><circle cx="673.7" cy="2244.3" r="3.6"/><circle cx="614.7" cy="2149.5" r="4.2"/><circle cx="600.5" cy="2156.7" r="4.2"/><circle cx="638.2" cy="2198.6" r="4.2"/><circle cx="634.8" cy="2147.8" r="4.2"/><circle cx="618.2" cy="2201.0" r="3.5"/><circle cx="659.7" cy="2256.4" r="4.2"/><circle cx="651.5" cy="2176.6" r="3.6"/><circle cx="642.3" cy="2203.5" r="3.9"/><circle cx="617.9" cy="2209.3" r="4.3"/><circle cx="612.6" cy="2198.1" r="3.8"/><circle cx="635.2" cy="2187.9" r="4.0"/><circle cx="627.4" cy="2209.8" r="4.1"/><circle cx="616.9" cy="2150.6" r="4.0"/><circle cx="641.1" cy="2233.3" r="4.0"/><circle cx="665.0" cy="2229.4" r="4.0"/><circle cx="659.8" cy="2175.7" r="4.2"/><circle cx="650.2" cy="2209.3" r="4.0"/><circle cx="625.2" cy="2174.1" r="4.2"/><circle cx="612.7" cy="2189.9" r="3.9"/><circle cx="639.5" cy="2154.1" r="3.6"/><circle cx="603.1" cy="2152.0" r="4.3"/><circle cx="634.2" cy="2204.7" r="3.5"/><circle cx="621.6" cy="2167.6" r="4.1"/><circle cx="674.9" cy="2256.5" r="3.7"/><circle cx="647.1" cy="2183.3" r="4.0"/><circle cx="647.0" cy="2239.1" r="3.6"/><circle cx="623.6" cy="2163.2" r="3.8"/><circle cx="675.6" cy="2270.4" r="4.3"/><circle cx="633.0" cy="2238.4" r="3.4"/><circle cx="668.8" cy="2264.3" r="4.0"/><circle cx="625.9" cy="2235.1" r="3.6"/><circle cx="665.3" cy="2249.4" r="3.9"/><circle cx="663.6" cy="2235.1" r="4.1"/><circle cx="660.2" cy="2170.9" r="3.7"/><circle cx="656.8" cy="2225.9" r="3.9"/><circle cx="615.8" cy="2209.2" r="3.8"/><circle cx="601.3" cy="2158.3" r="3.7"/><circle cx="643.7" cy="2248.3" r="3.7"/><circle cx="624.2" cy="2185.4" r="3.5"/><circle cx="667.2" cy="2221.5" r="4.3"/><circle cx="639.5" cy="2244.8" r="3.5"/><circle cx="667.5" cy="2272.4" r="3.9"/><circle cx="660.8" cy="2179.8" r="3.4"/><circle cx="635.1" cy="2172.8" r="3.9"/><circle cx="626.7" cy="2224.0" r="4.1"/><circle cx="638.1" cy="2199.3" r="3.7"/><circle cx="650.1" cy="2241.6" r="3.6"/><circle cx="664.1" cy="2216.5" r="3.5"/><circle cx="666.7" cy="2259.4" r="3.8"/><circle cx="657.0" cy="2233.3" r="3.5"/><circle cx="668.7" cy="2259.8" r="4.1"/><circle cx="618.9" cy="2222.8" r="3.8"/><circle cx="660.4" cy="2246.7" r="4.0"/><circle cx="627.6" cy="2231.5" r="3.9"/><circle cx="602.7" cy="2178.2" r="3.5"/><circle cx="641.0" cy="2156.8" r="4.1"/><circle cx="648.4" cy="2160.2" r="4.0"/><circle cx="651.0" cy="2249.0" r="3.6"/><circle cx="662.3" cy="2236.0" r="4.1"/><circle cx="635.3" cy="2173.4" r="3.7"/><circle cx="651.2" cy="2247.8" r="3.7"/><circle cx="649.9" cy="2249.2" r="4.0"/><circle cx="609.2" cy="2180.2" r="3.7"/><circle cx="596.4" cy="2187.6" r="3.9"/><circle cx="608.2" cy="2192.2" r="3.6"/><circle cx="663.9" cy="2251.8" r="3.4"/><circle cx="599.1" cy="2176.8" r="4.2"/><circle cx="650.5" cy="2195.1" r="4.2"/><circle cx="650.6" cy="2192.7" r="3.4"/><circle cx="654.8" cy="2211.1" r="3.7"/><circle cx="622.5" cy="2197.8" r="4.0"/><circle cx="636.6" cy="2200.8" r="4.0"/><circle cx="628.3" cy="2196.5" r="4.2"/><circle cx="652.2" cy="2194.0" r="4.2"/><circle cx="640.4" cy="2164.2" r="4.1"/><circle cx="629.6" cy="2216.6" r="4.1"/><circle cx="630.5" cy="2213.0" r="3.4"/><circle cx="621.8" cy="2151.5" r="3.8"/><circle cx="638.2" cy="2170.2" r="3.7"/><circle cx="640.7" cy="2183.0" r="4.0"/><circle cx="670.9" cy="2248.1" r="3.8"/><circle cx="656.5" cy="2232.7" r="3.5"/><circle cx="634.7" cy="2191.4" r="3.7"/><circle cx="659.7" cy="2195.3" r="3.5"/><circle cx="661.1" cy="2219.2" r="4.3"/><circle cx="676.2" cy="2262.2" r="3.9"/><circle cx="641.3" cy="2235.3" r="4.0"/><circle cx="639.3" cy="2207.6" r="3.9"/><circle cx="649.8" cy="2183.9" r="3.5"/><circle cx="670.8" cy="2247.5" r="3.7"/><circle cx="619.5" cy="2168.1" r="3.4"/><circle cx="607.5" cy="2162.6" r="3.5"/><circle cx="650.0" cy="2246.4" r="3.5"/><circle cx="648.2" cy="2167.0" r="4.1"/><circle cx="647.6" cy="2153.6" r="3.7"/><circle cx="655.9" cy="2173.7" r="3.5"/><circle cx="603.5" cy="2182.1" r="4.1"/><circle cx="670.5" cy="2273.0" r="3.6"/><circle cx="658.7" cy="2262.6" r="4.1"/><circle cx="649.1" cy="2147.2" r="3.5"/><circle cx="612.9" cy="2170.1" r="4.1"/><circle cx="602.0" cy="2173.6" r="3.5"/><circle cx="655.5" cy="2233.0" r="3.8"/><circle cx="649.5" cy="2149.8" r="4.0"/><circle cx="608.6" cy="2201.0" r="3.8"/><circle cx="660.8" cy="2179.8" r="3.8"/><circle cx="636.2" cy="2186.4" r="3.6"/><circle cx="664.3" cy="2204.7" r="3.8"/><circle cx="652.6" cy="2241.0" r="4.1"/><circle cx="664.3" cy="2241.9" r="3.6"/><circle cx="619.5" cy="2183.1" r="4.2"/><circle cx="619.9" cy="2214.9" r="3.4"/><circle cx="624.5" cy="2218.1" r="4.2"/><circle cx="657.7" cy="2262.0" r="3.6"/><circle cx="654.7" cy="2174.7" r="3.4"/><circle cx="632.1" cy="2169.2" r="4.2"/><circle cx="649.0" cy="2247.4" r="3.5"/><circle cx="606.0" cy="2181.8" r="3.6"/><circle cx="662.9" cy="2229.8" r="4.2"/><circle cx="644.2" cy="2168.6" r="3.6"/><circle cx="635.8" cy="2189.2" r="3.7"/><circle cx="646.1" cy="2203.6" r="4.3"/><circle cx="657.6" cy="2190.2" r="3.9"/><circle cx="596.5" cy="2175.4" r="3.7"/><circle cx="621.5" cy="2214.9" r="3.9"/><circle cx="648.0" cy="2165.1" r="3.6"/><circle cx="662.7" cy="2241.8" r="3.9"/><circle cx="650.2" cy="2221.9" r="3.6"/><circle cx="625.8" cy="2225.5" r="3.6"/><circle cx="667.2" cy="2265.3" r="4.0"/><circle cx="608.3" cy="2180.0" r="3.9"/><circle cx="634.8" cy="2194.8" r="3.4"/><circle cx="629.4" cy="2192.2" r="3.5"/><circle cx="616.0" cy="2221.9" r="4.1"/><circle cx="648.6" cy="2215.2" r="3.6"/><circle cx="617.7" cy="2185.0" r="3.9"/><circle cx="632.1" cy="2169.5" r="3.5"/><circle cx="650.7" cy="2236.2" r="3.6"/><circle cx="642.4" cy="2228.4" r="4.1"/><circle cx="657.2" cy="2243.7" r="3.5"/><circle cx="659.5" cy="2239.7" r="4.1"/><circle cx="659.9" cy="2199.0" r="4.2"/><circle cx="655.9" cy="2206.7" r="4.1"/><circle cx="625.1" cy="2188.2" r="3.9"/><circle cx="637.8" cy="2189.9" r="3.7"/><circle cx="647.4" cy="2163.1" r="3.8"/><circle cx="631.5" cy="2184.2" r="4.1"/><circle cx="614.9" cy="2212.8" r="4.3"/><circle cx="627.2" cy="2198.4" r="4.0"/><circle cx="639.6" cy="2247.0" r="4.2"/><circle cx="614.8" cy="2209.4" r="3.8"/><circle cx="635.8" cy="2227.6" r="3.6"/><circle cx="619.1" cy="2174.8" r="3.8"/><circle cx="622.4" cy="2182.0" r="4.3"/><circle cx="651.0" cy="2184.3" r="3.5"/><circle cx="652.5" cy="2222.8" r="3.9"/><circle cx="646.0" cy="2231.9" r="3.7"/><circle cx="628.5" cy="2176.8" r="4.1"/><circle cx="662.9" cy="2214.5" r="3.9"/><circle cx="646.0" cy="2183.3" r="4.1"/><circle cx="658.5" cy="2164.9" r="3.4"/><circle cx="664.7" cy="2227.6" r="3.8"/><circle cx="614.2" cy="2178.8" r="3.9"/><circle cx="651.5" cy="2170.1" r="4.0"/><circle cx="676.1" cy="2261.8" r="3.8"/><circle cx="619.6" cy="2194.2" r="3.4"/><circle cx="626.7" cy="2222.1" r="4.1"/><circle cx="662.6" cy="2254.7" r="3.7"/><circle cx="664.8" cy="2206.7" r="3.7"/><circle cx="655.8" cy="2236.9" r="3.4"/><circle cx="629.8" cy="2203.0" r="4.0"/><circle cx="621.1" cy="2173.2" r="4.0"/><circle cx="640.7" cy="2222.6" r="3.6"/><circle cx="656.5" cy="2259.6" r="4.1"/><circle cx="657.8" cy="2170.6" r="3.6"/><circle cx="661.4" cy="2208.5" r="3.6"/><circle cx="630.2" cy="2157.1" r="4.0"/><circle cx="649.7" cy="2214.5" r="4.2"/><circle cx="628.3" cy="2181.7" r="4.0"/><circle cx="624.4" cy="2195.6" r="4.1"/><circle cx="631.4" cy="2201.1" r="3.6"/><circle cx="616.2" cy="2168.9" r="4.0"/><circle cx="658.6" cy="2223.6" r="3.4"/><circle cx="634.3" cy="2197.7" r="3.6"/><circle cx="662.9" cy="2196.0" r="4.2"/><circle cx="639.3" cy="2174.2" r="4.2"/><circle cx="598.2" cy="2188.7" r="3.7"/><circle cx="681.6" cy="2264.5" r="3.4"/><circle cx="614.4" cy="2187.1" r="4.3"/><circle cx="598.8" cy="2179.1" r="4.3"/><circle cx="660.3" cy="2190.7" r="3.9"/><circle cx="634.2" cy="2207.3" r="3.7"/><circle cx="627.8" cy="2215.6" r="4.0"/><circle cx="633.7" cy="2223.6" r="3.9"/><circle cx="646.5" cy="2211.4" r="3.6"/><circle cx="681.5" cy="2260.4" r="3.6"/><circle cx="650.5" cy="2151.5" r="4.1"/><circle cx="621.9" cy="2187.9" r="3.5"/><circle cx="626.4" cy="2170.2" r="3.4"/><circle cx="643.9" cy="2158.1" r="3.8"/><circle cx="616.7" cy="2203.9" r="4.2"/><circle cx="611.1" cy="2213.6" r="3.8"/><circle cx="634.3" cy="2151.2" r="4.2"/><circle cx="671.2" cy="2272.0" r="3.6"/><circle cx="604.2" cy="2157.5" r="4.3"/><circle cx="637.4" cy="2159.3" r="3.7"/><circle cx="641.1" cy="2226.2" r="3.9"/><circle cx="665.7" cy="2201.9" r="4.2"/><circle cx="657.3" cy="2223.4" r="3.5"/><circle cx="622.7" cy="2179.2" r="4.2"/><circle cx="634.8" cy="2180.7" r="4.3"/><circle cx="637.8" cy="2206.9" r="3.5"/><circle cx="649.5" cy="2242.5" r="4.2"/><circle cx="670.1" cy="2250.4" r="3.6"/><circle cx="644.1" cy="2237.7" r="4.0"/><circle cx="650.7" cy="2238.0" r="3.8"/><circle cx="596.8" cy="2180.1" r="3.9"/><circle cx="660.4" cy="2196.3" r="3.9"/><circle cx="630.8" cy="2155.6" r="3.7"/><circle cx="654.8" cy="2172.5" r="3.8"/><circle cx="615.7" cy="2212.6" r="3.9"/><circle cx="667.8" cy="2244.0" r="3.7"/><circle cx="650.5" cy="2178.2" r="3.5"/><circle cx="637.5" cy="2159.0" r="3.6"/><circle cx="639.7" cy="2239.1" r="3.7"/><circle cx="657.5" cy="2184.7" r="3.5"/><circle cx="667.7" cy="2229.0" r="4.0"/><circle cx="662.9" cy="2210.8" r="3.5"/><circle cx="663.2" cy="2248.1" r="4.2"/><circle cx="621.1" cy="2225.0" r="3.9"/><circle cx="621.2" cy="2224.0" r="3.8"/><circle cx="643.9" cy="2178.4" r="3.5"/><circle cx="643.7" cy="2148.2" r="4.1"/><circle cx="624.6" cy="2185.5" r="3.6"/><circle cx="630.9" cy="2213.9" r="4.1"/><circle cx="621.5" cy="2205.1" r="3.7"/><circle cx="650.2" cy="2239.1" r="3.5"/><circle cx="640.7" cy="2205.6" r="3.9"/><circle cx="654.1" cy="2224.4" r="3.8"/><circle cx="602.5" cy="2190.2" r="3.8"/><circle cx="654.7" cy="2225.2" r="4.0"/><circle cx="603.1" cy="2171.9" r="3.6"/><circle cx="633.2" cy="2182.4" r="4.2"/><circle cx="629.6" cy="2209.2" r="3.9"/><circle cx="663.5" cy="2266.4" r="3.6"/><circle cx="635.3" cy="2193.5" r="3.6"/><circle cx="607.9" cy="2153.0" r="3.8"/><circle cx="649.3" cy="2152.5" r="4.0"/><circle cx="652.6" cy="2247.1" r="4.2"/><circle cx="604.8" cy="2168.4" r="3.4"/><circle cx="654.1" cy="2187.9" r="4.1"/><circle cx="631.0" cy="2220.3" r="3.9"/><circle cx="619.4" cy="2216.2" r="3.9"/><circle cx="614.6" cy="2163.3" r="3.8"/><circle cx="648.2" cy="2254.4" r="3.9"/><circle cx="639.7" cy="2204.0" r="3.4"/><circle cx="673.0" cy="2243.5" r="3.7"/><circle cx="617.5" cy="2192.0" r="3.8"/><circle cx="620.3" cy="2224.3" r="4.1"/><circle cx="647.0" cy="2221.6" r="4.1"/><circle cx="644.6" cy="2227.9" r="3.8"/><circle cx="674.5" cy="2267.2" r="3.9"/><circle cx="625.5" cy="2187.0" r="3.9"/><circle cx="666.0" cy="2221.2" r="3.9"/><circle cx="665.1" cy="2204.7" r="4.1"/><circle cx="652.6" cy="2237.6" r="4.3"/><circle cx="603.3" cy="2170.7" r="4.0"/><circle cx="652.3" cy="2226.8" r="3.5"/><circle cx="606.4" cy="2187.5" r="3.7"/><circle cx="638.9" cy="2221.0" r="3.7"/><circle cx="615.9" cy="2221.3" r="3.7"/><circle cx="591.3" cy="2137.0" r="4.2"/><circle cx="579.3" cy="2173.2" r="4.6"/><circle cx="589.9" cy="2170.6" r="4.0"/><circle cx="588.8" cy="2199.9" r="4.6"/><circle cx="588.8" cy="2179.7" r="4.3"/><circle cx="582.5" cy="2116.3" r="4.3"/><circle cx="567.6" cy="2199.6" r="4.0"/><circle cx="563.6" cy="2168.9" r="4.6"/><circle cx="592.7" cy="2170.9" r="4.2"/><circle cx="592.4" cy="2154.5" r="4.5"/><circle cx="581.1" cy="2122.7" r="3.9"/><circle cx="576.8" cy="2150.1" r="4.6"/><circle cx="569.2" cy="2191.6" r="4.2"/><circle cx="585.2" cy="2176.7" r="4.1"/><circle cx="572.1" cy="2182.7" r="4.0"/><circle cx="566.9" cy="2161.7" r="4.0"/><circle cx="570.3" cy="2114.6" r="4.4"/><circle cx="574.6" cy="2217.8" r="4.6"/><circle cx="582.5" cy="2201.5" r="4.4"/><circle cx="590.3" cy="2180.3" r="4.4"/><circle cx="591.2" cy="2208.9" r="4.1"/><circle cx="568.5" cy="2120.5" r="4.3"/><circle cx="561.5" cy="2162.8" r="4.1"/><circle cx="581.2" cy="2147.7" r="4.0"/><circle cx="583.9" cy="2118.7" r="3.9"/><circle cx="579.1" cy="2186.5" r="4.5"/><circle cx="571.9" cy="2178.7" r="4.0"/><circle cx="585.1" cy="2205.5" r="4.5"/><circle cx="582.3" cy="2149.7" r="4.0"/><circle cx="574.2" cy="2185.0" r="3.9"/><circle cx="565.9" cy="2186.6" r="4.6"/><circle cx="581.2" cy="2171.0" r="4.2"/><circle cx="569.6" cy="2121.3" r="4.3"/><circle cx="593.8" cy="2204.1" r="3.9"/><circle cx="581.1" cy="2152.0" r="4.5"/><circle cx="591.5" cy="2156.5" r="4.1"/><circle cx="589.8" cy="2171.3" r="4.3"/><circle cx="579.5" cy="2171.4" r="4.2"/><circle cx="577.7" cy="2116.8" r="4.2"/><circle cx="569.3" cy="2146.8" r="4.0"/><circle cx="583.6" cy="2158.1" r="4.1"/><circle cx="593.3" cy="2130.2" r="4.5"/><circle cx="589.8" cy="2183.2" r="4.3"/><circle cx="578.2" cy="2200.0" r="4.0"/><circle cx="575.4" cy="2174.2" r="4.3"/><circle cx="590.3" cy="2166.2" r="4.6"/><circle cx="594.0" cy="2159.8" r="4.0"/><circle cx="574.4" cy="2168.4" r="4.3"/><circle cx="564.4" cy="2175.9" r="4.1"/><circle cx="571.3" cy="2205.3" r="4.1"/><circle cx="595.4" cy="2191.8" r="4.4"/><circle cx="574.9" cy="2220.2" r="4.5"/><circle cx="591.9" cy="2206.5" r="4.6"/><circle cx="584.8" cy="2142.5" r="4.2"/><circle cx="567.2" cy="2124.8" r="4.3"/><circle cx="594.3" cy="2152.7" r="4.0"/><circle cx="591.3" cy="2141.2" r="4.0"/><circle cx="586.0" cy="2179.0" r="4.4"/><circle cx="572.7" cy="2160.2" r="4.0"/><circle cx="564.8" cy="2199.5" r="4.6"/><circle cx="742.8" cy="2186.0" r="3.5"/><circle cx="726.3" cy="2117.7" r="3.8"/><circle cx="709.2" cy="2265.3" r="4.1"/><circle cx="696.4" cy="2206.7" r="3.4"/><circle cx="732.8" cy="2208.0" r="4.2"/><circle cx="746.0" cy="2159.0" r="3.4"/><circle cx="727.4" cy="2223.3" r="4.1"/><circle cx="701.8" cy="2177.2" r="4.1"/><circle cx="723.0" cy="2155.3" r="3.5"/><circle cx="731.2" cy="2158.9" r="4.2"/><circle cx="740.8" cy="2183.2" r="3.6"/><circle cx="713.4" cy="2208.5" r="3.8"/><circle cx="730.0" cy="2146.9" r="4.1"/><circle cx="714.0" cy="2207.2" r="4.0"/><circle cx="731.1" cy="2198.4" r="4.0"/><circle cx="708.6" cy="2262.4" r="3.7"/><circle cx="713.0" cy="2215.9" r="4.0"/><circle cx="713.4" cy="2179.6" r="3.9"/><circle cx="726.8" cy="2168.7" r="4.3"/><circle cx="711.7" cy="2245.2" r="3.9"/><circle cx="706.4" cy="2245.1" r="3.6"/><circle cx="726.2" cy="2216.3" r="3.8"/><circle cx="720.6" cy="2230.7" r="3.4"/><circle cx="728.6" cy="2146.4" r="3.9"/><circle cx="715.5" cy="2232.0" r="3.8"/><circle cx="736.3" cy="2160.3" r="4.3"/><circle cx="740.3" cy="2228.3" r="3.5"/><circle cx="718.5" cy="2125.1" r="4.3"/><circle cx="705.8" cy="2200.1" r="3.7"/><circle cx="740.5" cy="2226.7" r="3.7"/><circle cx="714.7" cy="2201.8" r="3.9"/><circle cx="728.4" cy="2178.6" r="4.1"/><circle cx="741.9" cy="2204.6" r="3.9"/><circle cx="733.4" cy="2191.8" r="3.8"/><circle cx="704.3" cy="2226.5" r="4.2"/><circle cx="728.1" cy="2134.6" r="4.2"/><circle cx="736.7" cy="2129.4" r="3.9"/><circle cx="731.4" cy="2199.2" r="3.7"/><circle cx="719.8" cy="2212.0" r="3.8"/><circle cx="719.2" cy="2246.5" r="3.9"/><circle cx="690.8" cy="2238.6" r="3.6"/><circle cx="696.0" cy="2263.0" r="3.6"/><circle cx="702.9" cy="2253.1" r="3.6"/><circle cx="694.4" cy="2257.8" r="4.2"/><circle cx="704.5" cy="2223.2" r="4.0"/><circle cx="735.8" cy="2219.7" r="3.5"/><circle cx="729.6" cy="2135.7" r="4.1"/><circle cx="739.5" cy="2168.4" r="3.8"/><circle cx="740.6" cy="2194.0" r="4.2"/><circle cx="719.6" cy="2191.4" r="3.9"/><circle cx="730.3" cy="2144.9" r="3.6"/><circle cx="725.8" cy="2218.9" r="3.9"/><circle cx="710.5" cy="2249.3" r="3.5"/><circle cx="702.7" cy="2270.1" r="3.7"/><circle cx="697.0" cy="2218.3" r="3.9"/><circle cx="726.0" cy="2203.3" r="3.6"/><circle cx="689.7" cy="2265.7" r="3.8"/><circle cx="700.1" cy="2185.7" r="3.9"/><circle cx="744.8" cy="2197.2" r="3.6"/><circle cx="730.6" cy="2145.2" r="4.2"/><circle cx="714.8" cy="2226.4" r="3.4"/><circle cx="716.3" cy="2240.7" r="4.1"/><circle cx="737.6" cy="2181.3" r="3.6"/><circle cx="710.1" cy="2218.2" r="3.6"/><circle cx="692.7" cy="2249.8" r="3.9"/><circle cx="710.8" cy="2237.8" r="4.0"/><circle cx="746.4" cy="2175.0" r="3.5"/><circle cx="728.5" cy="2187.9" r="3.4"/><circle cx="716.1" cy="2150.5" r="3.9"/><circle cx="724.6" cy="2246.7" r="4.0"/><circle cx="708.0" cy="2224.6" r="3.9"/><circle cx="742.0" cy="2144.1" r="3.6"/><circle cx="745.8" cy="2169.1" r="3.8"/><circle cx="724.3" cy="2151.4" r="4.2"/><circle cx="694.8" cy="2262.2" r="4.1"/><circle cx="728.5" cy="2250.1" r="3.6"/><circle cx="734.6" cy="2170.7" r="3.5"/><circle cx="714.2" cy="2183.1" r="4.1"/><circle cx="693.5" cy="2240.9" r="4.0"/><circle cx="712.9" cy="2254.7" r="3.6"/><circle cx="731.0" cy="2147.9" r="4.1"/><circle cx="724.5" cy="2220.4" r="4.1"/><circle cx="712.5" cy="2218.9" r="4.1"/><circle cx="746.0" cy="2213.9" r="3.5"/><circle cx="713.4" cy="2259.1" r="4.0"/><circle cx="704.2" cy="2194.3" r="4.3"/><circle cx="732.6" cy="2168.2" r="4.1"/><circle cx="708.4" cy="2198.4" r="3.5"/><circle cx="696.5" cy="2226.0" r="4.1"/><circle cx="738.4" cy="2136.7" r="4.3"/><circle cx="721.1" cy="2246.3" r="4.1"/><circle cx="734.8" cy="2223.0" r="3.5"/><circle cx="719.1" cy="2163.4" r="4.2"/><circle cx="725.4" cy="2134.4" r="3.6"/><circle cx="739.6" cy="2204.8" r="3.8"/><circle cx="700.3" cy="2253.6" r="3.6"/><circle cx="713.2" cy="2184.0" r="4.0"/><circle cx="710.4" cy="2170.9" r="4.0"/><circle cx="731.1" cy="2182.6" r="4.2"/><circle cx="712.5" cy="2218.3" r="4.1"/><circle cx="741.1" cy="2147.4" r="4.2"/><circle cx="731.4" cy="2142.6" r="4.2"/><circle cx="718.6" cy="2158.1" r="3.6"/><circle cx="686.8" cy="2258.8" r="3.5"/><circle cx="712.7" cy="2255.0" r="3.4"/><circle cx="743.1" cy="2184.7" r="4.0"/><circle cx="701.7" cy="2229.6" r="4.3"/><circle cx="742.2" cy="2205.4" r="3.7"/><circle cx="742.9" cy="2146.7" r="3.7"/><circle cx="706.9" cy="2254.9" r="3.9"/><circle cx="720.8" cy="2211.4" r="3.9"/><circle cx="727.5" cy="2159.5" r="3.8"/><circle cx="698.1" cy="2272.5" r="4.3"/><circle cx="742.3" cy="2188.8" r="3.9"/><circle cx="742.0" cy="2223.6" r="4.1"/><circle cx="746.0" cy="2197.4" r="3.8"/><circle cx="740.8" cy="2137.7" r="4.3"/><circle cx="734.6" cy="2218.1" r="3.8"/><circle cx="717.0" cy="2166.2" r="4.2"/><circle cx="711.8" cy="2180.7" r="3.6"/><circle cx="708.9" cy="2141.1" r="3.4"/><circle cx="710.4" cy="2247.0" r="4.2"/><circle cx="731.6" cy="2142.6" r="4.0"/><circle cx="705.1" cy="2183.3" r="3.6"/><circle cx="712.1" cy="2124.1" r="3.7"/><circle cx="737.8" cy="2169.8" r="4.2"/><circle cx="733.6" cy="2239.0" r="4.2"/><circle cx="740.7" cy="2151.8" r="4.0"/><circle cx="701.4" cy="2250.6" r="3.7"/><circle cx="688.4" cy="2272.1" r="4.3"/><circle cx="728.3" cy="2244.6" r="4.0"/><circle cx="706.0" cy="2188.7" r="3.6"/><circle cx="721.0" cy="2183.4" r="4.1"/><circle cx="737.0" cy="2224.5" r="4.1"/><circle cx="716.1" cy="2155.8" r="4.1"/><circle cx="714.8" cy="2177.2" r="3.6"/><circle cx="724.8" cy="2168.2" r="3.8"/><circle cx="732.0" cy="2150.4" r="3.4"/><circle cx="714.9" cy="2258.5" r="3.8"/><circle cx="725.2" cy="2214.8" r="3.8"/><circle cx="730.9" cy="2210.6" r="3.9"/><circle cx="747.6" cy="2198.1" r="3.7"/><circle cx="741.3" cy="2193.9" r="4.2"/><circle cx="739.8" cy="2205.3" r="3.5"/><circle cx="722.8" cy="2227.0" r="4.0"/><circle cx="733.1" cy="2184.7" r="4.1"/><circle cx="712.8" cy="2138.0" r="4.0"/><circle cx="721.0" cy="2147.4" r="3.5"/><circle cx="709.0" cy="2221.5" r="4.1"/><circle cx="702.2" cy="2175.8" r="3.7"/><circle cx="706.3" cy="2184.6" r="3.9"/><circle cx="706.7" cy="2214.1" r="3.7"/><circle cx="739.0" cy="2210.7" r="4.0"/><circle cx="703.4" cy="2199.3" r="3.9"/><circle cx="709.1" cy="2226.6" r="3.9"/><circle cx="720.3" cy="2203.6" r="3.6"/><circle cx="712.0" cy="2184.2" r="3.6"/><circle cx="711.2" cy="2210.8" r="3.7"/><circle cx="716.7" cy="2237.7" r="4.2"/><circle cx="706.9" cy="2167.2" r="3.8"/><circle cx="717.8" cy="2178.3" r="4.2"/><circle cx="720.6" cy="2164.3" r="4.2"/><circle cx="720.7" cy="2194.5" r="3.6"/><circle cx="705.8" cy="2191.3" r="4.2"/><circle cx="706.7" cy="2214.1" r="4.2"/><circle cx="714.4" cy="2141.0" r="3.7"/><circle cx="693.5" cy="2236.2" r="3.7"/><circle cx="730.1" cy="2209.7" r="3.4"/><circle cx="685.7" cy="2259.3" r="3.9"/><circle cx="716.6" cy="2113.9" r="3.5"/><circle cx="703.2" cy="2239.7" r="4.1"/><circle cx="705.5" cy="2172.0" r="3.8"/><circle cx="706.0" cy="2159.4" r="3.9"/><circle cx="711.4" cy="2142.6" r="3.5"/><circle cx="716.6" cy="2230.2" r="3.4"/><circle cx="735.4" cy="2163.9" r="4.3"/><circle cx="713.0" cy="2169.1" r="3.4"/><circle cx="738.5" cy="2158.1" r="3.9"/><circle cx="730.3" cy="2172.2" r="3.4"/><circle cx="730.0" cy="2138.8" r="4.2"/><circle cx="740.3" cy="2221.2" r="3.8"/><circle cx="716.0" cy="2134.3" r="3.8"/><circle cx="721.3" cy="2208.1" r="4.1"/><circle cx="698.8" cy="2227.5" r="3.9"/><circle cx="741.0" cy="2220.5" r="4.1"/><circle cx="734.1" cy="2196.7" r="4.2"/><circle cx="729.1" cy="2125.4" r="3.4"/><circle cx="703.7" cy="2238.4" r="3.8"/><circle cx="716.1" cy="2204.2" r="3.9"/><circle cx="708.3" cy="2195.4" r="3.5"/><circle cx="746.9" cy="2212.1" r="3.5"/><circle cx="706.0" cy="2178.9" r="3.7"/><circle cx="688.4" cy="2252.6" r="3.5"/><circle cx="729.5" cy="2236.8" r="3.9"/><circle cx="732.4" cy="2131.3" r="3.8"/><circle cx="741.5" cy="2158.9" r="3.6"/><circle cx="729.0" cy="2215.9" r="3.9"/><circle cx="725.9" cy="2115.2" r="3.8"/><circle cx="714.4" cy="2242.8" r="4.1"/><circle cx="738.3" cy="2212.0" r="4.2"/><circle cx="741.8" cy="2155.2" r="3.5"/><circle cx="718.2" cy="2150.4" r="3.9"/><circle cx="738.6" cy="2212.9" r="4.2"/><circle cx="731.7" cy="2200.7" r="4.1"/><circle cx="731.4" cy="2178.4" r="4.1"/><circle cx="729.5" cy="2161.6" r="4.2"/><circle cx="714.6" cy="2222.1" r="4.0"/><circle cx="714.5" cy="2135.4" r="4.2"/><circle cx="732.1" cy="2164.3" r="4.3"/><circle cx="733.0" cy="2119.9" r="3.5"/><circle cx="716.1" cy="2140.6" r="3.5"/><circle cx="702.9" cy="2233.9" r="3.7"/><circle cx="736.0" cy="2197.7" r="4.0"/><circle cx="720.3" cy="2216.3" r="4.1"/><circle cx="724.4" cy="2184.5" r="3.7"/><circle cx="735.4" cy="2190.4" r="4.0"/><circle cx="722.7" cy="2161.9" r="4.2"/><circle cx="728.3" cy="2122.0" r="4.1"/><circle cx="711.3" cy="2244.7" r="4.0"/><circle cx="748.4" cy="2206.8" r="3.5"/><circle cx="733.0" cy="2180.9" r="3.5"/><circle cx="736.6" cy="2170.1" r="3.8"/><circle cx="737.5" cy="2203.8" r="3.8"/><circle cx="736.5" cy="2174.6" r="3.8"/><circle cx="704.2" cy="2203.9" r="4.1"/><circle cx="724.4" cy="2114.8" r="3.5"/><circle cx="717.5" cy="2201.0" r="3.5"/><circle cx="695.5" cy="2226.6" r="3.9"/><circle cx="726.2" cy="2179.8" r="3.7"/><circle cx="740.3" cy="2232.5" r="3.9"/><circle cx="736.0" cy="2132.5" r="4.1"/><circle cx="708.0" cy="2228.0" r="4.1"/><circle cx="721.7" cy="2207.7" r="3.5"/><circle cx="743.7" cy="2150.5" r="3.9"/><circle cx="731.3" cy="2173.7" r="3.6"/><circle cx="716.7" cy="2170.3" r="3.6"/><circle cx="688.9" cy="2249.8" r="4.3"/><circle cx="725.4" cy="2212.0" r="3.9"/><circle cx="747.6" cy="2199.8" r="3.7"/><circle cx="739.3" cy="2154.0" r="3.6"/><circle cx="698.6" cy="2244.1" r="3.8"/><circle cx="741.3" cy="2150.2" r="3.6"/><circle cx="735.4" cy="2193.3" r="4.2"/><circle cx="717.0" cy="2208.4" r="4.2"/><circle cx="736.3" cy="2158.8" r="3.8"/><circle cx="703.0" cy="2171.6" r="4.2"/><circle cx="696.6" cy="2208.8" r="3.6"/><circle cx="722.4" cy="2203.6" r="3.8"/><circle cx="727.1" cy="2235.9" r="3.6"/><circle cx="725.8" cy="2241.3" r="3.6"/><circle cx="739.1" cy="2133.7" r="3.6"/><circle cx="698.1" cy="2206.4" r="3.7"/><circle cx="713.5" cy="2248.0" r="3.5"/><circle cx="728.2" cy="2118.1" r="3.5"/><circle cx="731.7" cy="2228.0" r="4.1"/><circle cx="735.9" cy="2230.0" r="3.8"/><circle cx="742.4" cy="2170.6" r="3.5"/><circle cx="710.7" cy="2216.1" r="4.1"/><circle cx="704.1" cy="2238.2" r="3.9"/><circle cx="708.7" cy="2198.1" r="3.6"/><circle cx="698.4" cy="2254.6" r="3.5"/><circle cx="719.5" cy="2200.2" r="4.1"/><circle cx="740.7" cy="2151.3" r="3.8"/><circle cx="737.1" cy="2184.7" r="3.9"/><circle cx="720.5" cy="2143.8" r="3.5"/><circle cx="704.6" cy="2188.3" r="4.2"/><circle cx="711.3" cy="2160.9" r="4.3"/><circle cx="714.8" cy="2225.2" r="3.7"/><circle cx="729.7" cy="2203.8" r="3.5"/><circle cx="724.2" cy="2167.1" r="4.1"/><circle cx="724.5" cy="2192.3" r="3.8"/><circle cx="700.4" cy="2237.2" r="3.9"/><circle cx="732.2" cy="2160.9" r="3.8"/><circle cx="735.7" cy="2184.3" r="3.6"/><circle cx="713.9" cy="2209.3" r="4.0"/><circle cx="744.4" cy="2149.4" r="4.2"/><circle cx="699.2" cy="2223.3" r="3.6"/><circle cx="710.3" cy="2254.5" r="3.5"/><circle cx="721.7" cy="2205.9" r="3.5"/><circle cx="709.1" cy="2192.7" r="3.5"/><circle cx="699.0" cy="2216.4" r="3.9"/><circle cx="701.5" cy="2233.5" r="3.4"/><circle cx="723.3" cy="2199.1" r="3.5"/><circle cx="708.5" cy="2159.3" r="3.5"/><circle cx="717.1" cy="2257.7" r="3.6"/><circle cx="737.4" cy="2188.4" r="3.4"/><circle cx="697.4" cy="2231.9" r="4.1"/><circle cx="710.3" cy="2219.6" r="4.2"/><circle cx="723.1" cy="2195.3" r="4.2"/><circle cx="730.5" cy="2202.0" r="4.2"/><circle cx="741.7" cy="2167.5" r="4.3"/><circle cx="712.4" cy="2223.9" r="3.8"/><circle cx="689.3" cy="2269.4" r="4.1"/><circle cx="726.7" cy="2223.1" r="3.5"/><circle cx="717.8" cy="2185.6" r="3.6"/><circle cx="730.0" cy="2194.5" r="4.2"/><circle cx="724.0" cy="2183.6" r="3.7"/><circle cx="703.8" cy="2242.3" r="4.0"/><circle cx="704.9" cy="2222.1" r="4.1"/><circle cx="717.8" cy="2190.0" r="3.6"/><circle cx="718.6" cy="2255.6" r="3.8"/><circle cx="703.4" cy="2196.3" r="4.1"/><circle cx="733.9" cy="2132.7" r="3.8"/><circle cx="742.1" cy="2220.9" r="4.3"/><circle cx="729.5" cy="2185.5" r="3.6"/><circle cx="709.1" cy="2226.9" r="3.7"/><circle cx="724.5" cy="2122.1" r="3.5"/><circle cx="720.3" cy="2206.4" r="3.5"/><circle cx="726.2" cy="2237.6" r="4.0"/><circle cx="714.8" cy="2124.5" r="3.9"/><circle cx="709.4" cy="2181.8" r="3.4"/><circle cx="720.3" cy="2140.3" r="3.6"/><circle cx="696.2" cy="2244.7" r="3.5"/><circle cx="712.5" cy="2258.8" r="4.2"/><circle cx="736.8" cy="2134.3" r="3.6"/><circle cx="717.3" cy="2210.9" r="3.9"/><circle cx="720.6" cy="2238.9" r="4.1"/><circle cx="720.8" cy="2159.8" r="4.0"/><circle cx="730.9" cy="2157.3" r="3.4"/><circle cx="717.9" cy="2160.6" r="4.2"/><circle cx="707.4" cy="2264.0" r="3.5"/><circle cx="682.3" cy="2270.2" r="3.7"/><circle cx="726.5" cy="2220.2" r="3.6"/><circle cx="716.9" cy="2210.9" r="3.7"/><circle cx="724.1" cy="2160.1" r="4.1"/><circle cx="691.4" cy="2251.2" r="4.1"/><circle cx="705.4" cy="2152.1" r="3.8"/><circle cx="728.6" cy="2224.4" r="4.0"/><circle cx="734.5" cy="2196.5" r="3.8"/><circle cx="720.4" cy="2162.2" r="4.1"/><circle cx="701.5" cy="2227.8" r="3.8"/><circle cx="703.1" cy="2264.0" r="4.2"/><circle cx="707.7" cy="2164.6" r="3.6"/><circle cx="742.9" cy="2148.7" r="3.7"/><circle cx="725.2" cy="2200.4" r="3.8"/><circle cx="693.3" cy="2268.4" r="3.6"/><circle cx="717.5" cy="2157.6" r="3.6"/><circle cx="716.9" cy="2228.5" r="3.5"/><circle cx="723.0" cy="2170.6" r="3.5"/><circle cx="737.7" cy="2154.1" r="4.2"/><circle cx="739.9" cy="2207.4" r="4.2"/><circle cx="701.1" cy="2230.9" r="3.8"/><circle cx="704.9" cy="2172.1" r="4.2"/><circle cx="733.2" cy="2156.6" r="4.2"/><circle cx="703.2" cy="2245.5" r="4.0"/><circle cx="740.4" cy="2148.7" r="3.7"/><circle cx="729.7" cy="2198.7" r="3.5"/><circle cx="724.4" cy="2122.2" r="4.0"/><circle cx="741.0" cy="2210.8" r="4.2"/><circle cx="727.6" cy="2176.9" r="3.9"/><circle cx="703.8" cy="2188.3" r="3.8"/><circle cx="693.6" cy="2238.7" r="3.5"/><circle cx="712.6" cy="2127.5" r="4.1"/><circle cx="694.6" cy="2227.7" r="4.1"/><circle cx="719.1" cy="2117.4" r="4.2"/><circle cx="738.8" cy="2181.3" r="3.6"/><circle cx="713.8" cy="2258.7" r="4.2"/><circle cx="731.9" cy="2161.0" r="3.5"/><circle cx="742.2" cy="2226.5" r="4.2"/><circle cx="707.1" cy="2244.4" r="4.3"/><circle cx="748.1" cy="2210.1" r="3.5"/><circle cx="730.8" cy="2206.7" r="4.1"/><circle cx="741.4" cy="2200.5" r="3.9"/><circle cx="725.3" cy="2187.8" r="3.6"/><circle cx="728.8" cy="2247.5" r="3.8"/><circle cx="700.3" cy="2201.8" r="4.3"/><circle cx="702.5" cy="2260.9" r="3.5"/><circle cx="696.3" cy="2219.6" r="3.6"/><circle cx="694.2" cy="2244.5" r="4.2"/><circle cx="708.5" cy="2161.1" r="4.2"/><circle cx="709.6" cy="2266.4" r="3.6"/><circle cx="705.7" cy="2201.0" r="4.0"/><circle cx="705.1" cy="2234.8" r="4.3"/><circle cx="705.7" cy="2228.9" r="3.6"/><circle cx="718.0" cy="2257.2" r="3.6"/><circle cx="707.4" cy="2180.6" r="4.2"/><circle cx="739.8" cy="2161.1" r="4.0"/><circle cx="702.4" cy="2184.1" r="3.4"/><circle cx="701.5" cy="2242.8" r="3.9"/><circle cx="697.1" cy="2264.5" r="4.0"/><circle cx="709.8" cy="2129.0" r="4.1"/><circle cx="712.7" cy="2251.1" r="4.0"/><circle cx="721.5" cy="2209.0" r="4.0"/><circle cx="696.8" cy="2225.3" r="4.1"/><circle cx="734.6" cy="2223.9" r="4.1"/><circle cx="719.2" cy="2164.7" r="3.9"/><circle cx="720.2" cy="2162.9" r="4.0"/><circle cx="724.3" cy="2171.1" r="3.8"/><circle cx="740.4" cy="2203.7" r="4.2"/><circle cx="731.1" cy="2162.4" r="3.9"/><circle cx="734.2" cy="2130.5" r="3.9"/><circle cx="738.4" cy="2204.1" r="4.2"/><circle cx="720.5" cy="2144.1" r="4.2"/><circle cx="699.4" cy="2219.7" r="4.3"/><circle cx="734.9" cy="2149.2" r="3.8"/><circle cx="711.6" cy="2238.0" r="4.0"/><circle cx="740.3" cy="2201.6" r="3.6"/><circle cx="740.7" cy="2178.6" r="4.0"/><circle cx="697.7" cy="2256.9" r="4.0"/><circle cx="736.6" cy="2155.0" r="3.5"/><circle cx="719.0" cy="2120.6" r="3.9"/><circle cx="737.0" cy="2172.6" r="4.1"/><circle cx="735.8" cy="2164.1" r="4.2"/><circle cx="711.0" cy="2248.8" r="4.0"/><circle cx="724.4" cy="2172.9" r="3.5"/><circle cx="711.1" cy="2237.2" r="3.9"/><circle cx="725.0" cy="2125.2" r="4.2"/><circle cx="742.5" cy="2162.3" r="3.4"/><circle cx="739.4" cy="2178.9" r="4.1"/><circle cx="708.9" cy="2161.9" r="4.3"/><circle cx="707.6" cy="2183.2" r="3.7"/><circle cx="740.5" cy="2133.4" r="4.2"/><circle cx="712.1" cy="2124.5" r="3.5"/><circle cx="717.1" cy="2145.2" r="3.9"/><circle cx="714.3" cy="2237.7" r="4.1"/><circle cx="716.8" cy="2207.8" r="3.8"/><circle cx="706.7" cy="2245.1" r="4.0"/><circle cx="698.9" cy="2220.8" r="3.6"/><circle cx="729.5" cy="2163.3" r="3.7"/><circle cx="721.6" cy="2156.3" r="3.4"/><circle cx="708.2" cy="2139.5" r="3.5"/><circle cx="743.0" cy="2201.0" r="3.7"/><circle cx="700.3" cy="2261.7" r="3.8"/><circle cx="708.8" cy="2175.1" r="4.1"/><circle cx="688.7" cy="2251.0" r="3.6"/><circle cx="703.8" cy="2207.8" r="4.3"/><circle cx="703.7" cy="2176.8" r="4.0"/><circle cx="688.6" cy="2257.1" r="3.5"/><circle cx="729.4" cy="2142.7" r="4.2"/><circle cx="726.6" cy="2128.2" r="3.5"/><circle cx="730.9" cy="2149.8" r="3.9"/><circle cx="731.4" cy="2121.1" r="3.7"/><circle cx="739.0" cy="2194.5" r="3.8"/><circle cx="732.8" cy="2160.2" r="3.7"/><circle cx="735.8" cy="2137.1" r="3.9"/><circle cx="749.0" cy="2206.4" r="3.4"/><circle cx="740.7" cy="2188.8" r="4.0"/><circle cx="706.0" cy="2156.4" r="4.0"/><circle cx="738.4" cy="2175.7" r="3.9"/><circle cx="739.3" cy="2172.9" r="3.5"/><circle cx="712.4" cy="2140.0" r="3.9"/><circle cx="721.6" cy="2194.7" r="3.7"/><circle cx="721.6" cy="2167.2" r="3.7"/><circle cx="702.7" cy="2182.7" r="3.4"/><circle cx="719.0" cy="2113.4" r="4.0"/><circle cx="689.9" cy="2246.6" r="4.1"/><circle cx="730.0" cy="2163.3" r="4.3"/><circle cx="706.4" cy="2188.7" r="3.8"/><circle cx="746.5" cy="2208.3" r="3.7"/><circle cx="718.6" cy="2255.1" r="3.7"/><circle cx="725.2" cy="2184.3" r="3.9"/><circle cx="721.5" cy="2125.2" r="3.6"/><circle cx="683.1" cy="2262.7" r="4.2"/><circle cx="719.4" cy="2158.8" r="3.7"/><circle cx="712.0" cy="2167.4" r="3.6"/><circle cx="739.1" cy="2237.2" r="4.1"/><circle cx="723.8" cy="2184.1" r="4.2"/><circle cx="716.5" cy="2140.1" r="3.6"/><circle cx="697.0" cy="2220.3" r="4.2"/><circle cx="718.7" cy="2246.1" r="3.5"/><circle cx="742.8" cy="2200.9" r="4.3"/><circle cx="736.4" cy="2133.5" r="4.1"/><circle cx="745.7" cy="2186.9" r="3.5"/><circle cx="736.4" cy="2194.2" r="3.7"/><circle cx="725.4" cy="2120.0" r="3.6"/><circle cx="710.3" cy="2168.9" r="3.6"/><circle cx="708.8" cy="2172.6" r="3.7"/><circle cx="745.3" cy="2202.1" r="3.8"/><circle cx="696.7" cy="2243.8" r="3.7"/><circle cx="717.8" cy="2161.1" r="4.0"/><circle cx="691.2" cy="2247.4" r="3.6"/><circle cx="722.7" cy="2250.2" r="3.6"/><circle cx="709.8" cy="2221.8" r="4.0"/><circle cx="716.7" cy="2185.3" r="3.8"/><circle cx="718.3" cy="2140.1" r="4.1"/><circle cx="722.7" cy="2127.0" r="3.9"/><circle cx="712.9" cy="2192.9" r="3.5"/><circle cx="707.7" cy="2195.7" r="4.0"/><circle cx="732.5" cy="2154.4" r="3.9"/><circle cx="717.9" cy="2247.4" r="3.9"/><circle cx="698.9" cy="2264.4" r="4.2"/><circle cx="701.3" cy="2203.4" r="4.1"/><circle cx="705.9" cy="2207.0" r="3.5"/><circle cx="740.3" cy="2175.7" r="4.2"/><circle cx="706.5" cy="2164.8" r="4.0"/><circle cx="736.5" cy="2223.1" r="4.2"/><circle cx="703.6" cy="2204.2" r="4.2"/><circle cx="725.0" cy="2139.9" r="3.7"/><circle cx="730.7" cy="2126.5" r="4.0"/><circle cx="726.9" cy="2174.9" r="3.6"/><circle cx="692.5" cy="2237.5" r="3.7"/><circle cx="703.6" cy="2224.2" r="3.6"/><circle cx="703.7" cy="2233.0" r="4.3"/><circle cx="725.9" cy="2136.2" r="3.6"/><circle cx="743.2" cy="2208.5" r="3.7"/><circle cx="740.6" cy="2197.9" r="4.0"/><circle cx="706.5" cy="2215.4" r="3.5"/><circle cx="738.2" cy="2241.9" r="3.6"/><circle cx="709.7" cy="2189.5" r="4.2"/><circle cx="707.0" cy="2266.9" r="3.8"/><circle cx="712.1" cy="2143.2" r="3.7"/><circle cx="733.3" cy="2130.6" r="3.4"/><circle cx="723.9" cy="2125.0" r="3.7"/><circle cx="733.8" cy="2157.6" r="4.0"/><circle cx="700.4" cy="2258.1" r="4.0"/><circle cx="708.6" cy="2218.1" r="4.2"/><circle cx="710.2" cy="2205.2" r="4.2"/><circle cx="742.6" cy="2184.0" r="3.6"/><circle cx="722.8" cy="2155.8" r="3.9"/><circle cx="692.8" cy="2267.1" r="3.7"/><circle cx="722.1" cy="2156.8" r="4.2"/><circle cx="741.5" cy="2161.8" r="4.1"/><circle cx="726.0" cy="2125.9" r="3.7"/><circle cx="725.6" cy="2231.5" r="3.9"/><circle cx="723.2" cy="2157.2" r="3.6"/><circle cx="723.6" cy="2178.6" r="3.4"/><circle cx="724.9" cy="2174.1" r="3.9"/><circle cx="712.5" cy="2224.3" r="3.8"/><circle cx="728.8" cy="2161.7" r="3.6"/><circle cx="708.1" cy="2145.6" r="3.9"/><circle cx="702.7" cy="2221.1" r="3.8"/><circle cx="712.0" cy="2136.2" r="4.3"/><circle cx="712.6" cy="2145.3" r="3.7"/><circle cx="700.2" cy="2205.2" r="4.2"/><circle cx="736.8" cy="2217.9" r="3.9"/><circle cx="712.6" cy="2156.8" r="3.7"/><circle cx="691.9" cy="2250.0" r="4.0"/><circle cx="744.1" cy="2183.7" r="3.7"/><circle cx="720.6" cy="2253.2" r="4.0"/><circle cx="729.5" cy="2175.4" r="3.5"/><circle cx="705.0" cy="2244.1" r="4.3"/><circle cx="719.8" cy="2174.7" r="4.1"/><circle cx="725.7" cy="2147.1" r="4.1"/><circle cx="730.2" cy="2129.6" r="4.0"/><circle cx="710.7" cy="2240.7" r="3.6"/><circle cx="702.2" cy="2228.6" r="3.7"/><circle cx="698.6" cy="2207.4" r="3.6"/><circle cx="696.8" cy="2248.6" r="4.2"/><circle cx="707.3" cy="2190.0" r="3.9"/><circle cx="739.7" cy="2135.6" r="3.6"/><circle cx="742.3" cy="2213.7" r="4.0"/><circle cx="736.7" cy="2241.6" r="3.5"/><circle cx="743.1" cy="2172.6" r="4.0"/><circle cx="729.6" cy="2230.8" r="3.9"/><circle cx="694.5" cy="2236.8" r="3.5"/><circle cx="736.0" cy="2158.5" r="3.8"/><circle cx="711.0" cy="2237.6" r="4.0"/><circle cx="692.1" cy="2264.6" r="4.1"/><circle cx="700.5" cy="2268.1" r="3.5"/><circle cx="716.1" cy="2259.0" r="3.6"/><circle cx="738.3" cy="2216.7" r="4.1"/><circle cx="726.1" cy="2163.3" r="4.2"/><circle cx="684.1" cy="2265.2" r="4.2"/><circle cx="709.1" cy="2157.6" r="3.7"/><circle cx="722.0" cy="2237.5" r="3.9"/><circle cx="718.0" cy="2217.2" r="3.8"/><circle cx="725.5" cy="2139.1" r="4.1"/><circle cx="716.0" cy="2212.1" r="4.1"/><circle cx="716.6" cy="2209.3" r="4.1"/><circle cx="726.2" cy="2240.5" r="3.8"/><circle cx="721.4" cy="2214.6" r="3.9"/><circle cx="704.5" cy="2209.4" r="4.3"/><circle cx="739.2" cy="2157.0" r="3.6"/><circle cx="728.1" cy="2158.8" r="4.3"/><circle cx="733.2" cy="2221.7" r="3.6"/><circle cx="718.3" cy="2170.4" r="3.9"/><circle cx="730.1" cy="2143.4" r="3.8"/><circle cx="738.0" cy="2168.4" r="4.2"/><circle cx="728.0" cy="2168.2" r="3.6"/><circle cx="704.0" cy="2236.1" r="3.6"/><circle cx="726.7" cy="2173.8" r="3.8"/><circle cx="741.2" cy="2217.0" r="3.6"/><circle cx="730.7" cy="2237.6" r="4.2"/><circle cx="718.5" cy="2163.2" r="3.6"/><circle cx="695.4" cy="2228.1" r="4.1"/><circle cx="695.6" cy="2218.2" r="4.1"/><circle cx="737.7" cy="2217.4" r="3.8"/><circle cx="702.3" cy="2261.9" r="3.9"/><circle cx="715.3" cy="2205.4" r="3.5"/><circle cx="716.4" cy="2132.3" r="3.6"/><circle cx="735.7" cy="2229.5" r="3.6"/><circle cx="706.8" cy="2228.1" r="4.2"/><circle cx="741.2" cy="2204.0" r="3.5"/><circle cx="703.3" cy="2166.2" r="4.0"/><circle cx="718.8" cy="2177.7" r="4.1"/><circle cx="722.4" cy="2193.5" r="4.0"/><circle cx="725.7" cy="2229.4" r="3.9"/><circle cx="707.5" cy="2159.3" r="4.2"/><circle cx="744.6" cy="2154.4" r="3.8"/><circle cx="731.4" cy="2246.7" r="4.1"/><circle cx="722.2" cy="2181.7" r="3.4"/><circle cx="721.9" cy="2189.5" r="4.2"/><circle cx="698.6" cy="2213.3" r="4.2"/><circle cx="722.6" cy="2244.1" r="3.4"/><circle cx="724.2" cy="2174.4" r="3.5"/><circle cx="700.7" cy="2207.1" r="3.8"/><circle cx="685.3" cy="2260.7" r="3.7"/><circle cx="695.5" cy="2225.9" r="3.5"/><circle cx="703.6" cy="2234.3" r="4.2"/><circle cx="742.3" cy="2166.4" r="4.2"/><circle cx="718.0" cy="2215.1" r="3.4"/><circle cx="714.9" cy="2216.1" r="3.4"/><circle cx="710.7" cy="2178.5" r="4.3"/><circle cx="694.7" cy="2245.9" r="3.4"/><circle cx="720.9" cy="2161.6" r="3.5"/><circle cx="716.0" cy="2198.4" r="3.8"/><circle cx="723.8" cy="2159.6" r="4.0"/><circle cx="716.8" cy="2132.7" r="3.8"/><circle cx="719.2" cy="2251.9" r="3.9"/><circle cx="714.6" cy="2193.6" r="3.9"/><circle cx="724.4" cy="2168.9" r="3.7"/><circle cx="735.5" cy="2140.9" r="3.6"/><circle cx="735.9" cy="2178.5" r="3.9"/><circle cx="730.0" cy="2149.8" r="4.1"/><circle cx="696.1" cy="2257.2" r="3.4"/><circle cx="732.4" cy="2202.2" r="4.3"/><circle cx="716.7" cy="2236.3" r="3.7"/><circle cx="726.2" cy="2137.0" r="3.6"/><circle cx="728.6" cy="2117.7" r="4.2"/><circle cx="735.1" cy="2168.8" r="3.9"/><circle cx="743.8" cy="2163.9" r="4.0"/><circle cx="697.3" cy="2272.0" r="3.5"/><circle cx="738.1" cy="2177.4" r="3.7"/><circle cx="717.6" cy="2169.5" r="3.8"/><circle cx="729.0" cy="2180.8" r="3.6"/><circle cx="704.3" cy="2167.8" r="3.8"/><circle cx="710.0" cy="2230.5" r="4.0"/><circle cx="704.2" cy="2263.5" r="3.5"/><circle cx="706.0" cy="2164.4" r="3.8"/><circle cx="707.8" cy="2268.2" r="4.2"/><circle cx="710.2" cy="2174.0" r="3.9"/><circle cx="727.9" cy="2120.9" r="3.5"/><circle cx="714.9" cy="2207.5" r="4.1"/><circle cx="708.3" cy="2230.0" r="3.9"/><circle cx="739.3" cy="2209.1" r="4.1"/><circle cx="712.1" cy="2160.5" r="3.9"/><circle cx="746.3" cy="2173.5" r="4.2"/><circle cx="744.2" cy="2149.4" r="4.0"/><circle cx="708.8" cy="2213.8" r="3.4"/><circle cx="719.7" cy="2248.1" r="4.1"/><circle cx="720.2" cy="2187.3" r="4.2"/><circle cx="703.7" cy="2201.2" r="3.5"/><circle cx="700.0" cy="2217.5" r="3.8"/><circle cx="714.8" cy="2202.8" r="3.9"/><circle cx="742.0" cy="2200.5" r="4.1"/><circle cx="740.3" cy="2194.4" r="3.9"/><circle cx="705.5" cy="2147.1" r="3.5"/><circle cx="735.6" cy="2194.3" r="4.0"/><circle cx="709.7" cy="2215.7" r="4.1"/><circle cx="718.7" cy="2243.0" r="3.6"/><circle cx="707.5" cy="2213.6" r="3.8"/><circle cx="715.2" cy="2137.4" r="3.5"/><circle cx="692.9" cy="2236.5" r="3.8"/><circle cx="716.4" cy="2115.8" r="3.5"/><circle cx="725.5" cy="2164.1" r="4.1"/><circle cx="716.7" cy="2159.1" r="3.8"/><circle cx="723.5" cy="2220.6" r="3.6"/><circle cx="735.6" cy="2158.5" r="3.5"/><circle cx="745.9" cy="2192.3" r="4.0"/><circle cx="712.3" cy="2168.3" r="3.9"/><circle cx="741.7" cy="2210.7" r="4.1"/><circle cx="715.3" cy="2225.4" r="4.2"/><circle cx="711.7" cy="2205.9" r="3.5"/><circle cx="729.1" cy="2172.8" r="4.3"/><circle cx="730.4" cy="2120.9" r="3.8"/><circle cx="740.2" cy="2220.0" r="3.8"/><circle cx="726.2" cy="2158.8" r="3.9"/><circle cx="717.5" cy="2124.4" r="3.8"/><circle cx="700.5" cy="2196.4" r="4.2"/><circle cx="733.1" cy="2214.9" r="4.1"/><circle cx="731.3" cy="2234.1" r="3.5"/><circle cx="719.7" cy="2221.9" r="3.5"/><circle cx="724.9" cy="2132.1" r="3.6"/><circle cx="719.8" cy="2125.4" r="3.8"/><circle cx="737.6" cy="2181.4" r="3.7"/><circle cx="699.1" cy="2267.3" r="3.6"/><circle cx="691.9" cy="2266.9" r="3.9"/><circle cx="730.7" cy="2154.8" r="4.1"/><circle cx="737.2" cy="2139.0" r="4.0"/><circle cx="719.6" cy="2116.4" r="4.2"/><circle cx="704.2" cy="2171.6" r="4.2"/><circle cx="746.9" cy="2204.3" r="3.8"/><circle cx="711.0" cy="2193.7" r="3.4"/><circle cx="715.2" cy="2200.1" r="3.5"/><circle cx="711.2" cy="2139.6" r="4.3"/><circle cx="712.2" cy="2204.1" r="4.2"/><circle cx="717.4" cy="2229.0" r="3.4"/><circle cx="745.7" cy="2163.8" r="4.1"/><circle cx="716.8" cy="2161.1" r="3.7"/><circle cx="710.8" cy="2235.9" r="4.0"/><circle cx="739.5" cy="2171.7" r="4.1"/><circle cx="725.3" cy="2218.8" r="4.1"/><circle cx="701.1" cy="2197.7" r="3.8"/><circle cx="720.9" cy="2236.9" r="3.7"/><circle cx="719.2" cy="2171.5" r="4.0"/><circle cx="742.9" cy="2187.9" r="4.1"/><circle cx="727.8" cy="2140.3" r="3.5"/><circle cx="743.2" cy="2141.6" r="3.5"/><circle cx="722.5" cy="2239.4" r="3.5"/><circle cx="704.5" cy="2202.8" r="3.8"/><circle cx="743.8" cy="2167.9" r="4.2"/><circle cx="719.6" cy="2153.9" r="3.6"/><circle cx="738.5" cy="2133.3" r="4.1"/><circle cx="722.8" cy="2125.5" r="4.1"/><circle cx="735.9" cy="2143.2" r="3.6"/><circle cx="708.9" cy="2238.4" r="3.6"/><circle cx="713.5" cy="2128.8" r="3.6"/><circle cx="720.2" cy="2128.5" r="3.5"/><circle cx="737.3" cy="2199.6" r="3.8"/><circle cx="727.8" cy="2235.5" r="4.1"/><circle cx="723.2" cy="2239.8" r="3.7"/><circle cx="699.1" cy="2200.8" r="3.8"/><circle cx="744.2" cy="2180.8" r="3.6"/><circle cx="717.6" cy="2165.1" r="4.0"/><circle cx="730.6" cy="2157.5" r="3.9"/><circle cx="721.8" cy="2137.1" r="4.0"/><circle cx="704.7" cy="2264.6" r="3.6"/><circle cx="690.7" cy="2245.1" r="4.2"/><circle cx="700.2" cy="2220.0" r="3.9"/><circle cx="709.2" cy="2220.3" r="3.7"/><circle cx="710.4" cy="2166.4" r="3.6"/><circle cx="727.5" cy="2149.3" r="3.8"/><circle cx="698.4" cy="2245.2" r="3.8"/><circle cx="715.5" cy="2173.5" r="3.6"/><circle cx="741.9" cy="2141.3" r="3.8"/><circle cx="741.1" cy="2135.2" r="4.0"/><circle cx="722.0" cy="2247.1" r="3.9"/><circle cx="708.9" cy="2164.0" r="3.9"/><circle cx="710.2" cy="2141.8" r="3.5"/><circle cx="686.2" cy="2270.7" r="4.3"/><circle cx="700.6" cy="2225.5" r="4.1"/><circle cx="731.2" cy="2232.4" r="4.0"/><circle cx="700.4" cy="2222.5" r="3.5"/><circle cx="717.2" cy="2232.5" r="4.2"/><circle cx="739.5" cy="2180.8" r="3.8"/><circle cx="705.6" cy="2196.8" r="4.1"/><circle cx="702.8" cy="2177.2" r="3.8"/><circle cx="695.7" cy="2218.7" r="3.7"/><circle cx="711.5" cy="2145.2" r="4.1"/><circle cx="705.5" cy="2170.1" r="4.3"/><circle cx="689.4" cy="2261.7" r="3.9"/><circle cx="727.5" cy="2219.9" r="3.9"/><circle cx="725.5" cy="2222.9" r="3.6"/><circle cx="736.9" cy="2227.1" r="4.0"/><circle cx="709.0" cy="2233.5" r="4.2"/><circle cx="705.6" cy="2202.8" r="3.6"/><circle cx="688.5" cy="2256.6" r="4.0"/><circle cx="730.5" cy="2226.3" r="3.6"/><circle cx="731.0" cy="2221.7" r="4.0"/><circle cx="696.6" cy="2216.1" r="4.1"/><circle cx="705.6" cy="2258.4" r="3.8"/><circle cx="721.3" cy="2186.7" r="3.9"/><circle cx="695.1" cy="2260.1" r="3.5"/><circle cx="696.9" cy="2206.7" r="3.8"/><circle cx="699.1" cy="2210.1" r="3.6"/><circle cx="735.8" cy="2186.5" r="3.9"/><circle cx="698.1" cy="2240.6" r="3.9"/><circle cx="731.4" cy="2222.9" r="4.1"/><circle cx="686.8" cy="2266.0" r="4.0"/><circle cx="731.6" cy="2200.0" r="4.0"/><circle cx="721.6" cy="2122.6" r="4.2"/><circle cx="705.8" cy="2165.0" r="4.0"/><circle cx="706.5" cy="2185.5" r="3.8"/><circle cx="708.8" cy="2257.0" r="3.8"/><circle cx="742.9" cy="2181.8" r="4.3"/><circle cx="732.9" cy="2223.9" r="4.3"/><circle cx="701.4" cy="2246.6" r="4.2"/><circle cx="728.7" cy="2170.8" r="4.0"/><circle cx="715.6" cy="2178.1" r="4.1"/><circle cx="723.7" cy="2191.3" r="4.0"/><circle cx="745.0" cy="2153.6" r="4.1"/><circle cx="734.8" cy="2221.4" r="4.1"/><circle cx="710.7" cy="2265.5" r="4.3"/><circle cx="738.9" cy="2151.7" r="3.9"/><circle cx="707.5" cy="2259.0" r="3.9"/><circle cx="713.3" cy="2248.6" r="4.1"/><circle cx="723.1" cy="2153.8" r="4.3"/><circle cx="744.0" cy="2161.4" r="4.0"/><circle cx="722.3" cy="2187.0" r="4.2"/><circle cx="723.7" cy="2207.8" r="4.2"/><circle cx="733.0" cy="2138.1" r="4.3"/><circle cx="728.1" cy="2185.0" r="3.6"/><circle cx="728.1" cy="2226.4" r="3.8"/><circle cx="721.3" cy="2177.3" r="3.9"/><circle cx="700.2" cy="2207.7" r="4.0"/><circle cx="701.9" cy="2260.1" r="3.6"/><circle cx="704.6" cy="2200.1" r="4.1"/><circle cx="702.3" cy="2194.6" r="4.2"/><circle cx="718.0" cy="2128.0" r="3.4"/><circle cx="701.5" cy="2219.5" r="3.8"/><circle cx="711.2" cy="2222.8" r="3.9"/><circle cx="736.6" cy="2215.8" r="3.7"/><circle cx="698.1" cy="2236.9" r="3.6"/><circle cx="712.9" cy="2134.3" r="4.0"/><circle cx="737.8" cy="2149.3" r="3.9"/><circle cx="717.5" cy="2165.1" r="3.8"/><circle cx="710.3" cy="2137.5" r="3.8"/><circle cx="729.4" cy="2219.7" r="4.3"/><circle cx="693.5" cy="2256.8" r="3.8"/><circle cx="712.9" cy="2178.8" r="3.6"/><circle cx="714.7" cy="2134.2" r="4.1"/><circle cx="728.7" cy="2231.7" r="3.5"/><circle cx="747.6" cy="2192.3" r="3.4"/><circle cx="706.1" cy="2262.4" r="4.1"/><circle cx="743.7" cy="2198.4" r="3.9"/><circle cx="738.2" cy="2131.3" r="4.0"/><circle cx="691.1" cy="2252.8" r="3.9"/><circle cx="741.4" cy="2182.9" r="4.2"/><circle cx="737.4" cy="2214.9" r="4.3"/><circle cx="743.4" cy="2176.7" r="3.6"/><circle cx="704.2" cy="2187.4" r="3.8"/><circle cx="716.3" cy="2240.9" r="3.5"/><circle cx="726.7" cy="2159.5" r="4.1"/><circle cx="726.2" cy="2116.3" r="4.2"/><circle cx="711.4" cy="2219.7" r="4.0"/><circle cx="728.2" cy="2119.1" r="4.1"/><circle cx="730.5" cy="2136.4" r="3.8"/><circle cx="699.7" cy="2217.5" r="3.9"/><circle cx="732.8" cy="2164.5" r="3.5"/><circle cx="722.2" cy="2236.8" r="3.7"/><circle cx="703.0" cy="2231.8" r="4.1"/><circle cx="725.7" cy="2149.8" r="4.2"/><circle cx="712.3" cy="2170.2" r="4.0"/><circle cx="737.6" cy="2174.8" r="3.6"/><circle cx="735.8" cy="2245.3" r="3.6"/><circle cx="704.5" cy="2199.7" r="4.2"/><circle cx="719.9" cy="2221.9" r="4.1"/><circle cx="713.3" cy="2189.8" r="4.0"/><circle cx="723.6" cy="2159.6" r="4.0"/><circle cx="693.1" cy="2248.4" r="3.7"/><circle cx="726.3" cy="2169.5" r="3.6"/><circle cx="723.2" cy="2230.9" r="4.0"/><circle cx="726.3" cy="2131.6" r="4.2"/><circle cx="718.2" cy="2198.3" r="4.2"/><circle cx="726.9" cy="2169.1" r="3.7"/><circle cx="705.7" cy="2188.0" r="3.8"/><circle cx="707.9" cy="2254.0" r="3.8"/><circle cx="690.4" cy="2267.6" r="3.8"/><circle cx="735.1" cy="2168.2" r="3.6"/><circle cx="706.7" cy="2191.2" r="3.5"/><circle cx="724.1" cy="2239.3" r="4.1"/><circle cx="707.4" cy="2236.3" r="3.7"/><circle cx="701.7" cy="2269.0" r="3.6"/><circle cx="705.6" cy="2232.0" r="3.7"/><circle cx="724.5" cy="2227.1" r="4.3"/><circle cx="742.3" cy="2197.8" r="3.5"/><circle cx="716.5" cy="2123.5" r="3.9"/><circle cx="729.0" cy="2131.8" r="4.0"/><circle cx="721.8" cy="2221.3" r="3.9"/><circle cx="724.6" cy="2220.7" r="4.3"/><circle cx="710.9" cy="2203.1" r="3.9"/><circle cx="715.2" cy="2155.9" r="3.8"/><circle cx="722.3" cy="2227.1" r="3.8"/><circle cx="722.0" cy="2202.0" r="4.1"/><circle cx="692.5" cy="2258.3" r="4.1"/><circle cx="738.8" cy="2137.1" r="3.6"/><circle cx="723.6" cy="2157.1" r="4.1"/><circle cx="698.2" cy="2245.3" r="4.1"/><circle cx="717.3" cy="2174.7" r="3.5"/><circle cx="703.5" cy="2241.7" r="4.0"/><circle cx="718.7" cy="2230.7" r="4.1"/><circle cx="696.8" cy="2265.5" r="3.4"/><circle cx="715.7" cy="2119.8" r="4.2"/><circle cx="709.5" cy="2186.8" r="3.6"/><circle cx="730.3" cy="2137.7" r="3.8"/><circle cx="736.3" cy="2174.2" r="3.9"/><circle cx="724.5" cy="2208.7" r="4.1"/><circle cx="713.9" cy="2129.0" r="4.0"/><circle cx="700.4" cy="2236.1" r="3.5"/><circle cx="723.4" cy="2178.7" r="3.9"/><circle cx="745.6" cy="2151.7" r="3.6"/><circle cx="731.4" cy="2159.1" r="3.4"/><circle cx="740.1" cy="2156.7" r="3.6"/><circle cx="732.2" cy="2223.3" r="3.8"/><circle cx="693.6" cy="2247.1" r="4.1"/><circle cx="738.6" cy="2215.5" r="3.6"/><circle cx="725.8" cy="2178.0" r="4.2"/><circle cx="706.5" cy="2229.7" r="3.7"/><circle cx="711.4" cy="2208.6" r="4.2"/><circle cx="722.7" cy="2218.0" r="3.5"/><circle cx="742.2" cy="2161.4" r="3.9"/><circle cx="712.1" cy="2218.9" r="3.7"/><circle cx="705.7" cy="2245.6" r="3.6"/><circle cx="712.1" cy="2126.2" r="3.8"/><circle cx="732.7" cy="2149.2" r="4.1"/><circle cx="722.7" cy="2176.8" r="3.8"/><circle cx="721.9" cy="2233.7" r="4.1"/><circle cx="710.1" cy="2154.4" r="4.1"/><circle cx="720.9" cy="2237.4" r="3.6"/><circle cx="737.8" cy="2136.6" r="3.5"/><circle cx="714.5" cy="2122.4" r="4.1"/><circle cx="737.0" cy="2198.1" r="3.5"/><circle cx="699.3" cy="2222.2" r="3.8"/><circle cx="719.3" cy="2126.3" r="3.4"/><circle cx="726.6" cy="2191.1" r="4.3"/><circle cx="699.7" cy="2188.2" r="4.0"/><circle cx="714.6" cy="2186.1" r="4.1"/><circle cx="716.6" cy="2139.5" r="3.7"/><circle cx="745.9" cy="2168.6" r="3.7"/><circle cx="702.4" cy="2260.9" r="4.2"/><circle cx="726.9" cy="2116.9" r="3.6"/><circle cx="712.7" cy="2227.1" r="4.2"/><circle cx="739.6" cy="2205.2" r="3.9"/><circle cx="736.4" cy="2125.1" r="3.7"/><circle cx="711.8" cy="2257.0" r="4.2"/><circle cx="746.2" cy="2185.8" r="3.6"/><circle cx="720.7" cy="2189.0" r="3.9"/><circle cx="744.4" cy="2156.6" r="4.0"/><circle cx="724.3" cy="2183.2" r="4.0"/><circle cx="718.8" cy="2239.7" r="4.0"/><circle cx="705.2" cy="2158.6" r="4.3"/><circle cx="709.2" cy="2235.3" r="4.3"/><circle cx="736.6" cy="2226.6" r="3.8"/><circle cx="706.6" cy="2203.8" r="3.4"/><circle cx="721.3" cy="2181.5" r="3.6"/><circle cx="711.3" cy="2229.2" r="4.1"/><circle cx="709.5" cy="2138.6" r="4.3"/><circle cx="708.0" cy="2244.6" r="4.0"/><circle cx="717.4" cy="2258.7" r="3.7"/><circle cx="706.2" cy="2208.5" r="3.7"/><circle cx="733.7" cy="2125.9" r="3.6"/><circle cx="711.7" cy="2232.7" r="3.6"/><circle cx="705.5" cy="2232.9" r="4.0"/><circle cx="729.9" cy="2135.8" r="4.3"/><circle cx="742.6" cy="2197.9" r="3.5"/><circle cx="708.7" cy="2256.6" r="3.9"/><circle cx="722.3" cy="2228.8" r="4.0"/><circle cx="711.1" cy="2168.9" r="3.9"/><circle cx="710.3" cy="2227.2" r="4.0"/><circle cx="701.1" cy="2247.9" r="3.5"/><circle cx="726.2" cy="2189.8" r="4.3"/><circle cx="741.8" cy="2208.1" r="3.6"/><circle cx="720.3" cy="2254.1" r="3.5"/><circle cx="703.4" cy="2241.6" r="4.2"/><circle cx="715.0" cy="2177.9" r="3.4"/><circle cx="710.1" cy="2238.8" r="3.6"/><circle cx="687.2" cy="2265.7" r="3.8"/><circle cx="738.1" cy="2148.6" r="3.9"/><circle cx="715.6" cy="2143.3" r="3.9"/><circle cx="709.4" cy="2244.7" r="4.2"/><circle cx="708.7" cy="2259.3" r="4.0"/><circle cx="683.2" cy="2269.6" r="3.9"/><circle cx="690.5" cy="2260.4" r="3.5"/><circle cx="735.9" cy="2130.9" r="3.6"/><circle cx="729.8" cy="2174.0" r="3.7"/><circle cx="741.2" cy="2196.9" r="3.9"/><circle cx="744.7" cy="2212.3" r="4.0"/><circle cx="703.7" cy="2183.8" r="3.9"/><circle cx="728.3" cy="2140.0" r="3.7"/><circle cx="722.7" cy="2129.1" r="3.7"/><circle cx="727.2" cy="2183.5" r="3.7"/><circle cx="725.0" cy="2182.3" r="3.5"/><circle cx="729.2" cy="2178.9" r="3.6"/><circle cx="725.0" cy="2246.6" r="3.5"/><circle cx="700.0" cy="2190.2" r="4.2"/><circle cx="697.0" cy="2221.8" r="3.5"/><circle cx="710.5" cy="2213.0" r="3.7"/><circle cx="720.5" cy="2137.1" r="3.7"/><circle cx="745.0" cy="2211.2" r="3.5"/><circle cx="706.9" cy="2194.4" r="4.2"/><circle cx="722.8" cy="2161.2" r="4.3"/><circle cx="710.1" cy="2198.0" r="4.0"/><circle cx="735.0" cy="2140.1" r="3.7"/><circle cx="715.5" cy="2119.8" r="3.6"/><circle cx="742.4" cy="2177.8" r="3.6"/><circle cx="723.1" cy="2124.7" r="3.8"/><circle cx="702.3" cy="2202.2" r="3.6"/><circle cx="692.5" cy="2262.2" r="4.0"/><circle cx="705.6" cy="2259.9" r="4.0"/><circle cx="699.1" cy="2239.0" r="3.7"/><circle cx="718.5" cy="2120.1" r="3.6"/><circle cx="743.3" cy="2153.8" r="3.8"/><circle cx="713.7" cy="2232.3" r="4.3"/><circle cx="733.5" cy="2157.7" r="4.1"/><circle cx="714.7" cy="2244.1" r="3.7"/><circle cx="723.4" cy="2212.4" r="3.7"/><circle cx="708.5" cy="2226.3" r="3.6"/><circle cx="741.1" cy="2162.6" r="4.0"/><circle cx="710.5" cy="2202.8" r="4.0"/><circle cx="729.6" cy="2163.9" r="3.6"/><circle cx="760.6" cy="2234.0" r="4.3"/><circle cx="759.9" cy="2218.7" r="4.0"/><circle cx="764.7" cy="2110.9" r="3.9"/><circle cx="781.5" cy="2110.3" r="4.3"/><circle cx="784.7" cy="2165.8" r="4.6"/><circle cx="761.2" cy="2217.2" r="4.5"/><circle cx="762.3" cy="2209.5" r="4.4"/><circle cx="770.3" cy="2180.2" r="3.9"/><circle cx="767.1" cy="2190.9" r="4.1"/><circle cx="786.8" cy="2185.9" r="3.9"/><circle cx="751.9" cy="2164.2" r="4.2"/><circle cx="766.5" cy="2162.4" r="4.0"/><circle cx="755.9" cy="2172.9" r="4.5"/><circle cx="771.6" cy="2174.6" r="4.4"/><circle cx="764.0" cy="2137.3" r="4.4"/><circle cx="759.7" cy="2236.6" r="4.6"/><circle cx="766.7" cy="2214.4" r="4.4"/><circle cx="765.5" cy="2133.7" r="4.2"/><circle cx="790.0" cy="2128.6" r="4.4"/><circle cx="774.2" cy="2156.9" r="4.3"/><circle cx="769.3" cy="2185.4" r="4.4"/><circle cx="773.1" cy="2173.2" r="4.5"/><circle cx="741.2" cy="2122.1" r="4.5"/><circle cx="766.5" cy="2113.6" r="4.2"/><circle cx="753.8" cy="2240.2" r="4.5"/><circle cx="758.2" cy="2139.5" r="4.2"/><circle cx="778.6" cy="2148.7" r="4.1"/><circle cx="783.3" cy="2201.9" r="4.2"/><circle cx="769.8" cy="2141.8" r="4.6"/><circle cx="762.5" cy="2222.3" r="4.1"/><circle cx="764.9" cy="2189.8" r="4.2"/><circle cx="783.0" cy="2121.3" r="3.9"/><circle cx="771.9" cy="2110.0" r="3.9"/><circle cx="788.8" cy="2164.0" r="4.0"/><circle cx="756.2" cy="2127.4" r="4.4"/><circle cx="762.8" cy="2153.6" r="4.6"/><circle cx="770.7" cy="2227.4" r="3.9"/><circle cx="761.3" cy="2212.4" r="4.0"/><circle cx="791.1" cy="2189.3" r="4.3"/><circle cx="778.5" cy="2185.2" r="4.5"/><circle cx="778.4" cy="2170.7" r="4.5"/><circle cx="774.1" cy="2149.1" r="4.6"/><circle cx="763.5" cy="2160.0" r="4.3"/><circle cx="755.0" cy="2108.4" r="4.2"/><circle cx="772.2" cy="2225.3" r="4.3"/><circle cx="787.6" cy="2119.8" r="4.6"/><circle cx="779.6" cy="2165.4" r="4.0"/><circle cx="756.6" cy="2221.2" r="4.5"/><circle cx="765.7" cy="2140.1" r="4.3"/><circle cx="784.4" cy="2134.9" r="4.3"/><circle cx="773.4" cy="2211.3" r="4.3"/><circle cx="769.2" cy="2207.3" r="4.3"/><circle cx="776.5" cy="2201.6" r="3.9"/><circle cx="776.5" cy="2230.8" r="4.2"/><circle cx="741.6" cy="2119.0" r="4.0"/><circle cx="775.9" cy="2167.6" r="4.2"/><circle cx="770.8" cy="2132.4" r="4.0"/><circle cx="733.9" cy="2110.0" r="3.9"/><circle cx="780.5" cy="2127.6" r="4.5"/><circle cx="770.1" cy="2166.4" r="4.1"/><circle cx="790.5" cy="2159.7" r="4.1"/><circle cx="784.1" cy="2148.2" r="4.4"/><circle cx="763.3" cy="2237.7" r="4.2"/><circle cx="783.8" cy="2195.6" r="4.0"/><circle cx="760.7" cy="2178.2" r="4.0"/><circle cx="786.0" cy="2133.9" r="3.9"/><circle cx="781.3" cy="2144.5" r="3.9"/><circle cx="747.8" cy="2129.5" r="4.1"/><circle cx="765.2" cy="2156.8" r="3.9"/><circle cx="762.8" cy="2184.5" r="4.1"/><circle cx="772.4" cy="2232.8" r="4.3"/><circle cx="786.0" cy="2142.5" r="4.0"/><circle cx="776.9" cy="2132.6" r="4.5"/><circle cx="762.9" cy="2200.7" r="4.2"/><circle cx="791.7" cy="2172.9" r="4.4"/><circle cx="761.2" cy="2123.2" r="4.4"/><circle cx="746.5" cy="2108.3" r="4.1"/><circle cx="769.1" cy="2229.6" r="4.5"/><circle cx="761.4" cy="2169.8" r="4.3"/><circle cx="788.0" cy="2164.0" r="4.2"/><circle cx="754.5" cy="2152.4" r="4.2"/><circle cx="786.7" cy="2165.4" r="4.5"/><circle cx="787.8" cy="2141.3" r="4.4"/><circle cx="750.7" cy="2157.8" r="4.5"/><circle cx="792.8" cy="2152.2" r="3.9"/><circle cx="760.0" cy="2225.4" r="4.3"/><circle cx="779.2" cy="2206.9" r="4.4"/><circle cx="781.1" cy="2190.6" r="3.9"/><circle cx="760.9" cy="2216.5" r="4.5"/><circle cx="767.8" cy="2184.1" r="4.0"/><circle cx="776.4" cy="2221.8" r="4.3"/><circle cx="779.0" cy="2220.7" r="4.5"/><circle cx="776.8" cy="2209.4" r="4.5"/><circle cx="783.4" cy="2203.3" r="4.4"/><circle cx="783.5" cy="2128.9" r="4.0"/><circle cx="762.8" cy="2197.4" r="4.0"/><circle cx="756.3" cy="2224.7" r="4.3"/><circle cx="765.9" cy="2224.1" r="4.4"/><circle cx="770.9" cy="2164.9" r="3.9"/><circle cx="794.3" cy="2155.4" r="4.3"/><circle cx="763.3" cy="2225.7" r="4.5"/><circle cx="766.8" cy="2211.4" r="4.6"/><circle cx="750.8" cy="2112.3" r="4.0"/><circle cx="743.3" cy="2109.6" r="4.0"/><circle cx="761.9" cy="2165.4" r="4.4"/><circle cx="771.7" cy="2108.2" r="4.0"/><circle cx="767.6" cy="2199.1" r="3.9"/><circle cx="751.9" cy="2150.5" r="4.4"/><circle cx="775.9" cy="2221.4" r="4.5"/><circle cx="769.2" cy="2185.3" r="4.4"/><circle cx="756.7" cy="2151.3" r="4.4"/><circle cx="785.9" cy="2199.6" r="4.2"/><circle cx="784.7" cy="2191.5" r="3.9"/><circle cx="768.7" cy="2174.4" r="4.1"/><circle cx="775.8" cy="2201.4" r="4.2"/><circle cx="774.1" cy="2186.8" r="4.1"/><circle cx="763.1" cy="2128.1" r="4.1"/><circle cx="753.2" cy="2218.6" r="4.4"/><circle cx="755.7" cy="2134.5" r="4.4"/><circle cx="751.4" cy="2117.7" r="4.2"/><circle cx="220.8" cy="2165.3" r="8.6"/><circle cx="273.9" cy="2081.1" r="7.8"/><circle cx="929.4" cy="2110.9" r="6.2"/><circle cx="868.1" cy="2175.3" r="5.5"/><circle cx="887.8" cy="2172.5" r="6.0"/><circle cx="898.9" cy="2179.9" r="6.0"/><circle cx="910.5" cy="2204.2" r="6.0"/><circle cx="820.5" cy="1770.9" r="4.6"/><circle cx="584.1" cy="1870.4" r="4.6"/><circle cx="583.4" cy="1920.0" r="4.6"/><circle cx="623.6" cy="1922.7" r="4.2"/><circle cx="553.3" cy="1977.6" r="5.0"/><circle cx="576.0" cy="1977.6" r="5.0"/><circle cx="610.1" cy="1977.6" r="4.4"/><circle cx="573.6" cy="2017.5" r="4.8"/><circle cx="563.9" cy="2031.5" r="4.6"/><circle cx="610.7" cy="2029.7" r="4.6"/><circle cx="608.5" cy="2037.1" r="4.4"/><circle cx="603.1" cy="2042.6" r="4.6"/><circle cx="627.0" cy="2041.7" r="4.2"/><circle cx="642.2" cy="2043.8" r="4.2"/><circle cx="643.8" cy="2054.2" r="4.2"/><circle cx="534.1" cy="2041.3" r="4.6"/><circle cx="611.3" cy="2056.7" r="4.4"/><circle cx="600.3" cy="2053.0" r="4.4"/><circle cx="583.7" cy="2054.2" r="4.4"/><circle cx="569.0" cy="2049.3" r="4.6"/><circle cx="553.1" cy="2057.9" r="4.6"/><circle cx="472.4" cy="2092.6" r="5.5"/><circle cx="473.6" cy="2077.2" r="5.0"/><circle cx="544.4" cy="2235.6" r="4.8"/><circle cx="532.9" cy="2225.0" r="4.8"/><circle cx="507.8" cy="2194.3" r="5.5"/><circle cx="532.0" cy="2175.4" r="4.8"/><circle cx="528.5" cy="2155.0" r="4.8"/><circle cx="535.6" cy="2139.1" r="4.8"/><circle cx="514.0" cy="2128.0" r="5.5"/><circle cx="502.3" cy="2106.0" r="5.8"/><circle cx="536.5" cy="2116.1" r="4.6"/><circle cx="544.1" cy="2087.4" r="4.6"/><circle cx="554.2" cy="2094.9" r="4.6"/><circle cx="559.5" cy="2086.4" r="4.6"/><circle cx="549.7" cy="2107.3" r="4.6"/><circle cx="551.5" cy="2123.2" r="4.6"/><circle cx="556.8" cy="2117.9" r="4.6"/><circle cx="548.8" cy="2143.5" r="4.6"/><circle cx="557.7" cy="2146.2" r="4.6"/><circle cx="562.1" cy="2137.3" r="4.6"/><circle cx="562.1" cy="2156.8" r="4.6"/><circle cx="568.8" cy="2164.4" r="4.6"/><circle cx="551.2" cy="2171.3" r="4.6"/><circle cx="557.7" cy="2185.1" r="4.6"/><circle cx="565.7" cy="2179.8" r="4.6"/><circle cx="572.7" cy="2181.6" r="4.6"/><circle cx="578.9" cy="2172.7" r="4.6"/><circle cx="576.3" cy="2196.6" r="4.6"/><circle cx="571.9" cy="2212.6" r="4.6"/><circle cx="592.2" cy="2248.0" r="4.4"/><circle cx="599.3" cy="2252.0" r="4.4"/><circle cx="571.0" cy="2080.7" r="4.4"/><circle cx="571.9" cy="2085.1" r="4.4"/><circle cx="583.4" cy="2085.1" r="4.4"/><circle cx="594.9" cy="2073.3" r="4.4"/><circle cx="572.7" cy="2102.0" r="4.4"/><circle cx="570.1" cy="2110.8" r="4.4"/><circle cx="581.6" cy="2098.1" r="4.4"/><circle cx="586.9" cy="2100.2" r="4.4"/><circle cx="585.1" cy="2112.6" r="4.4"/><circle cx="594.0" cy="2111.7" r="4.4"/><circle cx="599.3" cy="2112.6" r="4.4"/><circle cx="595.8" cy="2103.7" r="4.4"/><circle cx="605.5" cy="2108.1" r="4.4"/><circle cx="613.5" cy="2109.0" r="4.4"/><circle cx="607.3" cy="2094.9" r="4.4"/><circle cx="614.3" cy="2087.8" r="4.4"/><circle cx="579.8" cy="2121.4" r="4.4"/><circle cx="574.5" cy="2135.6" r="4.4"/><circle cx="588.7" cy="2128.5" r="4.4"/><circle cx="595.8" cy="2123.2" r="4.4"/><circle cx="601.9" cy="2131.2" r="4.4"/><circle cx="609.9" cy="2117.9" r="4.4"/><circle cx="617.0" cy="2123.2" r="4.4"/><circle cx="624.1" cy="2110.8" r="4.4"/><circle cx="631.2" cy="2112.6" r="4.4"/><circle cx="636.5" cy="2117.9" r="4.4"/><circle cx="624.1" cy="2131.2" r="4.4"/><circle cx="631.2" cy="2129.4" r="4.4"/><circle cx="629.4" cy="2138.2" r="4.4"/><circle cx="634.7" cy="2143.5" r="4.4"/><circle cx="640.0" cy="2135.6" r="4.4"/><circle cx="645.3" cy="2135.6" r="4.4"/><circle cx="646.2" cy="2144.4" r="4.4"/><circle cx="652.4" cy="2147.1" r="4.4"/><circle cx="655.9" cy="2151.5" r="4.4"/><circle cx="660.4" cy="2164.8" r="4.4"/><circle cx="650.6" cy="2115.2" r="4.0"/><circle cx="640.0" cy="2094.9" r="4.0"/><circle cx="641.8" cy="2084.2" r="4.0"/><circle cx="632.0" cy="2078.0" r="4.0"/><circle cx="643.5" cy="2060.0" r="4.0"/><circle cx="626.7" cy="2061.0" r="4.0"/><circle cx="622.3" cy="2064.8" r="4.0"/><circle cx="609.9" cy="2066.8" r="4.0"/><circle cx="608.1" cy="2070.5" r="4.0"/><circle cx="602.8" cy="2067.7" r="4.0"/><circle cx="600.2" cy="2062.4" r="4.0"/><circle cx="555.0" cy="2073.6" r="4.4"/><circle cx="553.3" cy="2067.7" r="4.4"/><circle cx="571.0" cy="2062.9" r="4.4"/><circle cx="581.6" cy="2064.2" r="4.4"/><circle cx="571.0" cy="2078.0" r="4.4"/><circle cx="586.9" cy="2086.4" r="4.4"/><circle cx="829.7" cy="1959.0" r="4.6"/><circle cx="824.4" cy="1974.6" r="4.6"/><circle cx="763.4" cy="1964.8" r="4.4"/><circle cx="759.5" cy="1974.2" r="4.4"/><circle cx="744.9" cy="1978.6" r="4.4"/><circle cx="742.1" cy="1995.6" r="4.4"/><circle cx="777.4" cy="2004.3" r="4.4"/><circle cx="799.8" cy="2008.0" r="4.6"/><circle cx="753.0" cy="2013.0" r="4.4"/><circle cx="758.9" cy="2019.5" r="4.4"/><circle cx="760.6" cy="2027.1" r="4.4"/><circle cx="819.0" cy="2028.7" r="4.6"/><circle cx="736.6" cy="2040.7" r="4.2"/><circle cx="724.7" cy="2052.0" r="4.2"/><circle cx="733.4" cy="2048.3" r="4.2"/><circle cx="749.7" cy="2047.6" r="4.2"/><circle cx="779.1" cy="2052.0" r="4.4"/><circle cx="819.4" cy="2053.7" r="4.6"/><circle cx="825.8" cy="2200.2" r="4.8"/><circle cx="823.9" cy="2217.3" r="4.8"/><circle cx="823.9" cy="2224.0" r="4.8"/><circle cx="804.9" cy="2229.7" r="4.6"/><circle cx="798.2" cy="2221.1" r="4.6"/><circle cx="813.4" cy="2184.0" r="4.6"/><circle cx="806.8" cy="2210.6" r="4.6"/><circle cx="830.6" cy="2130.6" r="4.6"/><circle cx="826.8" cy="2116.7" r="4.6"/><circle cx="822.0" cy="2103.5" r="4.8"/><circle cx="806.4" cy="2116.7" r="4.6"/><circle cx="816.3" cy="2148.7" r="4.8"/><circle cx="799.7" cy="2093.0" r="4.6"/><circle cx="796.3" cy="2097.2" r="4.6"/><circle cx="820.1" cy="2072.4" r="4.6"/><circle cx="820.1" cy="2054.3" r="4.6"/><circle cx="808.7" cy="2062.0" r="4.6"/><circle cx="818.8" cy="2028.2" r="4.6"/><circle cx="799.5" cy="2007.6" r="4.6"/><circle cx="777.2" cy="2004.2" r="4.4"/><circle cx="752.4" cy="2013.0" r="4.4"/><circle cx="778.2" cy="2052.4" r="4.4"/><circle cx="767.7" cy="2065.2" r="4.4"/><circle cx="759.7" cy="2060.0" r="4.4"/><circle cx="741.0" cy="2064.4" r="4.4"/><circle cx="736.8" cy="2040.4" r="4.2"/><circle cx="749.6" cy="2047.7" r="4.2"/><circle cx="750.5" cy="2054.3" r="4.2"/><circle cx="735.3" cy="2047.7" r="4.2"/><circle cx="724.8" cy="2051.5" r="4.2"/><circle cx="737.2" cy="2055.3" r="4.2"/><circle cx="725.7" cy="2068.6" r="4.2"/><circle cx="730.5" cy="2072.4" r="4.2"/><circle cx="726.7" cy="2076.2" r="4.2"/><circle cx="761.0" cy="2076.2" r="4.4"/><circle cx="773.4" cy="2078.2" r="4.4"/><circle cx="779.1" cy="2073.4" r="4.4"/><circle cx="782.9" cy="2080.1" r="4.4"/><circle cx="737.2" cy="2080.1" r="4.2"/><circle cx="740.0" cy="2087.3" r="4.2"/><circle cx="751.5" cy="2088.1" r="4.4"/><circle cx="767.7" cy="2096.8" r="4.4"/><circle cx="783.9" cy="2104.5" r="4.4"/><circle cx="781.0" cy="2113.4" r="4.4"/><circle cx="767.7" cy="2107.7" r="4.4"/><circle cx="751.5" cy="2115.9" r="4.4"/><circle cx="786.7" cy="2125.4" r="4.4"/><circle cx="848.7" cy="2154.4" r="5.0"/><circle cx="851.6" cy="2090.0" r="5.0"/></g>
<g fill="#cd4a3b" stroke="#5a1a12" stroke-width="0.9"><circle cx="368.9" cy="1983.5" r="7.0"/><circle cx="353.0" cy="2044.0" r="7.0"/><circle cx="523.6" cy="1983.5" r="5.2"/><circle cx="493.2" cy="2025.5" r="5.5"/><circle cx="464.9" cy="2029.7" r="5.5"/><circle cx="462.8" cy="2043.4" r="5.5"/><circle cx="521.6" cy="2050.2" r="5.0"/><circle cx="530.8" cy="2045.6" r="5.0"/><circle cx="446.4" cy="2061.1" r="5.5"/><circle cx="474.2" cy="2064.7" r="5.5"/><circle cx="483.1" cy="2068.5" r="5.5"/><circle cx="511.4" cy="2072.2" r="5.0"/><circle cx="877.8" cy="1842.0" r="5.5"/><circle cx="864.5" cy="1917.8" r="5.5"/><circle cx="851.0" cy="2029.3" r="5.0"/><circle cx="864.0" cy="2039.5" r="5.3"/><circle cx="838.4" cy="2055.5" r="5.3"/><circle cx="832.5" cy="2062.9" r="5.0"/><circle cx="1149.4" cy="2001.2" r="8.1"/></g>
<g stroke="#000" stroke-width="0.25"><text x="1145.7" y="115.8" font-size="16" textLength="58.8" lengthAdjust="spacingAndGlyphs">O15263</text></g>
<g stroke="#000" stroke-width="0.25"><text x="407.9" y="1074.3" font-size="14.8" textLength="49.7" lengthAdjust="spacingAndGlyphs">Q9UII2</text><text x="502.8" y="1074" font-size="14.8" textLength="53.3" lengthAdjust="spacingAndGlyphs">P22234</text><text x="441.4" y="1107" font-size="14.8" textLength="56.8" lengthAdjust="spacingAndGlyphs">Q15233</text><text x="519.0" y="1118.7" font-size="14.8" textLength="56.7" lengthAdjust="spacingAndGlyphs">O95425</text><text x="434.4" y="1144.6" font-size="14.8" textLength="54.1" lengthAdjust="spacingAndGlyphs">P63167</text><text x="550.2" y="1149.3" font-size="14.8" textLength="56.8" lengthAdjust="spacingAndGlyphs">Q14692</text><text x="455.8" y="1165" font-size="14.8" textLength="54.0" lengthAdjust="spacingAndGlyphs">P14868</text><text x="528.2" y="1168.5" font-size="14.8" textLength="56.4" lengthAdjust="spacingAndGlyphs">O00170</text><text x="291.4" y="1175" font-size="14.8" textLength="54.0" lengthAdjust="spacingAndGlyphs">P00439</text><text x="502.1" y="1190.5" font-size="14.8" textLength="54.0" lengthAdjust="spacingAndGlyphs">P00736</text><text x="432.2" y="1206.2" font-size="14.8" textLength="56.3" lengthAdjust="spacingAndGlyphs">O60513</text><text x="474.3" y="1230.3" font-size="14.8" textLength="56.8" lengthAdjust="spacingAndGlyphs">O95084</text><text x="499.4" y="1234.4" font-size="14.8" textLength="53.2" lengthAdjust="spacingAndGlyphs">P43243</text><text x="491.2" y="1251" font-size="14.8" textLength="53.3" lengthAdjust="spacingAndGlyphs">P52895</text><text x="491.9" y="1265" font-size="14.8" textLength="60.7" lengthAdjust="spacingAndGlyphs">Q5T1M5</text><text x="869.0" y="980.1" font-size="14.8" textLength="53.7" lengthAdjust="spacingAndGlyphs">P02768</text><text x="967.8" y="980.1" font-size="14.8" textLength="66.8" lengthAdjust="spacingAndGlyphs">Q3MHN5</text><text x="806.5" y="996.3" font-size="14.8" textLength="61.8" lengthAdjust="spacingAndGlyphs">Q5XQN5</text><text x="749.8" y="1012" font-size="14.8" textLength="53.7" lengthAdjust="spacingAndGlyphs">P30519</text><text x="831.3" y="1028.2" font-size="14.8" textLength="53.2" lengthAdjust="spacingAndGlyphs">P02769</text><text x="967.8" y="1035.2" font-size="14.8" textLength="54.9" lengthAdjust="spacingAndGlyphs">Q3SZR3</text><text x="868.8" y="1051.2" font-size="14.8" textLength="53.9" lengthAdjust="spacingAndGlyphs">P25774</text><text x="929.6" y="1073.8" font-size="14.8" textLength="47.5" lengthAdjust="spacingAndGlyphs">Q0IIK2</text><text x="747.2" y="1090" font-size="14.8" textLength="56.3" lengthAdjust="spacingAndGlyphs">Q96C19</text><text x="820.4" y="1087" font-size="14.8" textLength="64.6" lengthAdjust="spacingAndGlyphs">Q9H7M9</text><text x="940.7" y="1112.5" font-size="14.8" textLength="53.3" lengthAdjust="spacingAndGlyphs">P07942</text><text x="790.0" y="1120.1" font-size="14.8" textLength="58.2" lengthAdjust="spacingAndGlyphs">Q58D62</text><text x="869.0" y="1118.5" font-size="14.8" textLength="53.3" lengthAdjust="spacingAndGlyphs">P41361</text><text x="852.8" y="1136.3" font-size="14.8" textLength="51.9" lengthAdjust="spacingAndGlyphs">Q9TRI1</text><text x="741.0" y="1142.8" font-size="14.8" textLength="56.3" lengthAdjust="spacingAndGlyphs">Q5TEC6</text><text x="1008.8" y="1138.7" font-size="14.8" textLength="53.3" lengthAdjust="spacingAndGlyphs">P02777</text><text x="815.7" y="1157.9" font-size="14.8" textLength="53.8" lengthAdjust="spacingAndGlyphs">P17900</text><text x="875.7" y="1156.5" font-size="14.8" textLength="55.8" lengthAdjust="spacingAndGlyphs">Q86TE4</text><text x="789.1" y="1174.5" font-size="14.8" textLength="55.6" lengthAdjust="spacingAndGlyphs">Q5TEC6</text><text x="864.8" y="1183.3" font-size="14.8" textLength="56.8" lengthAdjust="spacingAndGlyphs">Q28065</text><text x="847.0" y="1203.5" font-size="14.8" textLength="56.1" lengthAdjust="spacingAndGlyphs">Q16778</text></g>
<g stroke="#000" stroke-width="0.25"><text x="329.8" y="1970.8" font-size="16" textLength="56.8" lengthAdjust="spacingAndGlyphs">Q8IYT4</text><text x="483.1" y="1970.8" font-size="16" textLength="69.9" lengthAdjust="spacingAndGlyphs">Q9UNN8</text><text x="414.8" y="2021.4" font-size="16" textLength="62.4" lengthAdjust="spacingAndGlyphs">Q14108</text><text x="473.9" y="2014" font-size="16" textLength="61.7" lengthAdjust="spacingAndGlyphs">Q2TBE0</text><text x="285.6" y="2037.3" font-size="16" textLength="62.1" lengthAdjust="spacingAndGlyphs">Q12873</text><text x="401.7" y="2046.9" font-size="16" textLength="58.5" lengthAdjust="spacingAndGlyphs">P23511</text><text x="472.5" y="2046.9" font-size="16" textLength="58.5" lengthAdjust="spacingAndGlyphs">P80188</text><text x="536.9" y="2054.7" font-size="16" textLength="61.4" lengthAdjust="spacingAndGlyphs">Q12933</text><text x="390.7" y="2067.4" font-size="16" textLength="62.5" lengthAdjust="spacingAndGlyphs">Q15388</text><text x="453.0" y="2061" font-size="16" textLength="60.3" lengthAdjust="spacingAndGlyphs">Q9Y281</text><text x="515.7" y="2071.7" font-size="16" textLength="61.4" lengthAdjust="spacingAndGlyphs">O60888</text><text x="469.0" y="2087.6" font-size="16" textLength="66.3" lengthAdjust="spacingAndGlyphs">Q9UPU7</text><text x="858.5" y="1826" font-size="16" textLength="58.5" lengthAdjust="spacingAndGlyphs">P40199</text><text x="873.3" y="1913.2" font-size="16" textLength="61.1" lengthAdjust="spacingAndGlyphs">Q9Y6Y0</text><text x="833.0" y="2018.5" font-size="16" textLength="64.5" lengthAdjust="spacingAndGlyphs">Q9NPA0</text><text x="876.6" y="2044" font-size="16" textLength="55.6" lengthAdjust="spacingAndGlyphs">Q8IVL5</text><text x="779.2" y="2048.3" font-size="16" textLength="63.7" lengthAdjust="spacingAndGlyphs">Q6PD74</text><text x="833.4" y="2075.3" font-size="16" textLength="68.7" lengthAdjust="spacingAndGlyphs">Q9ULW0</text><text x="1125.6" y="1987.3" font-size="16" textLength="61.4" lengthAdjust="spacingAndGlyphs">Q16877</text></g>
<text x="331.0" y="63.2" font-size="55.5" stroke="#000" stroke-width="0.35" textLength="218.6" lengthAdjust="spacingAndGlyphs">HBD2+V8</text>
<text x="566.2" y="63.2" font-size="55.5" stroke="#000" stroke-width="0.35" textLength="140.7" lengthAdjust="spacingAndGlyphs">versus</text>
<text x="717.1" y="63.2" font-size="55.5" stroke="#000" stroke-width="0.35" textLength="58.4" lengthAdjust="spacingAndGlyphs">V8</text>
<text x="789.8" y="63.2" font-size="55.5" stroke="#000" stroke-width="0.35" textLength="301.2" lengthAdjust="spacingAndGlyphs">(secretomics)</text>
<text x="30.8" y="40.1" font-size="48.4" textLength="24.2" lengthAdjust="spacingAndGlyphs">a</text>
<line x1="82" y1="675.7" x2="89" y2="675.7" stroke="#000" stroke-width="1.7"/>
<text x="79.2" y="681.3" font-size="15.8" text-anchor="end" stroke="#000" stroke-width="0.12">0</text>
<line x1="82" y1="645.8" x2="89" y2="645.8" stroke="#000" stroke-width="1.7"/>
<text x="79.2" y="651.4" font-size="15.8" text-anchor="end" stroke="#000" stroke-width="0.12">0.5</text>
<line x1="82" y1="615.8" x2="89" y2="615.8" stroke="#000" stroke-width="1.7"/>
<text x="79.2" y="621.4" font-size="15.8" text-anchor="end" stroke="#000" stroke-width="0.12">1</text>
<line x1="82" y1="585.9" x2="89" y2="585.9" stroke="#000" stroke-width="1.7"/>
<text x="79.2" y="591.5" font-size="15.8" text-anchor="end" stroke="#000" stroke-width="0.12">1.5</text>
<line x1="82" y1="556.0" x2="89" y2="556.0" stroke="#000" stroke-width="1.7"/>
<text x="79.2" y="561.6" font-size="15.8" text-anchor="end" stroke="#000" stroke-width="0.12">2</text>
<line x1="82" y1="526.0" x2="89" y2="526.0" stroke="#000" stroke-width="1.7"/>
<text x="79.2" y="531.6" font-size="15.8" text-anchor="end" stroke="#000" stroke-width="0.12">2.5</text>
<line x1="82" y1="496.1" x2="89" y2="496.1" stroke="#000" stroke-width="1.7"/>
<text x="79.2" y="501.7" font-size="15.8" text-anchor="end" stroke="#000" stroke-width="0.12">3</text>
<line x1="82" y1="466.2" x2="89" y2="466.2" stroke="#000" stroke-width="1.7"/>
<text x="79.2" y="471.8" font-size="15.8" text-anchor="end" stroke="#000" stroke-width="0.12">3.5</text>
<line x1="82" y1="436.2" x2="89" y2="436.2" stroke="#000" stroke-width="1.7"/>
<text x="79.2" y="441.8" font-size="15.8" text-anchor="end" stroke="#000" stroke-width="0.12">4</text>
<line x1="82" y1="406.3" x2="89" y2="406.3" stroke="#000" stroke-width="1.7"/>
<text x="79.2" y="411.9" font-size="15.8" text-anchor="end" stroke="#000" stroke-width="0.12">4.5</text>
<line x1="82" y1="376.4" x2="89" y2="376.4" stroke="#000" stroke-width="1.7"/>
<text x="79.2" y="382.0" font-size="15.8" text-anchor="end" stroke="#000" stroke-width="0.12">5</text>
<line x1="82" y1="346.4" x2="89" y2="346.4" stroke="#000" stroke-width="1.7"/>
<text x="79.2" y="352.0" font-size="15.8" text-anchor="end" stroke="#000" stroke-width="0.12">5.5</text>
<line x1="82" y1="316.5" x2="89" y2="316.5" stroke="#000" stroke-width="1.7"/>
<text x="79.2" y="322.1" font-size="15.8" text-anchor="end" stroke="#000" stroke-width="0.12">6</text>
<line x1="82" y1="286.5" x2="89" y2="286.5" stroke="#000" stroke-width="1.7"/>
<text x="79.2" y="292.1" font-size="15.8" text-anchor="end" stroke="#000" stroke-width="0.12">6.5</text>
<line x1="82" y1="256.6" x2="89" y2="256.6" stroke="#000" stroke-width="1.7"/>
<text x="79.2" y="262.2" font-size="15.8" text-anchor="end" stroke="#000" stroke-width="0.12">7</text>
<line x1="82" y1="226.7" x2="89" y2="226.7" stroke="#000" stroke-width="1.7"/>
<text x="79.2" y="232.3" font-size="15.8" text-anchor="end" stroke="#000" stroke-width="0.12">7.5</text>
<line x1="82" y1="196.7" x2="89" y2="196.7" stroke="#000" stroke-width="1.7"/>
<text x="79.2" y="202.3" font-size="15.8" text-anchor="end" stroke="#000" stroke-width="0.12">8</text>
<line x1="82" y1="166.8" x2="89" y2="166.8" stroke="#000" stroke-width="1.7"/>
<text x="79.2" y="172.4" font-size="15.8" text-anchor="end" stroke="#000" stroke-width="0.12">8.5</text>
<line x1="82" y1="136.9" x2="89" y2="136.9" stroke="#000" stroke-width="1.7"/>
<text x="79.2" y="142.5" font-size="15.8" text-anchor="end" stroke="#000" stroke-width="0.12">9</text>
<line x1="82" y1="106.9" x2="89" y2="106.9" stroke="#000" stroke-width="1.7"/>
<text x="79.2" y="112.5" font-size="15.8" text-anchor="end" stroke="#000" stroke-width="0.12">9.5</text>
<line x1="82" y1="77.0" x2="89" y2="77.0" stroke="#000" stroke-width="1.7"/>
<text x="79.2" y="82.6" font-size="15.8" text-anchor="end" stroke="#000" stroke-width="0.12">10</text>
<line x1="89.3" y1="675.7" x2="89.3" y2="682.7" stroke="#000" stroke-width="1.7"/>
<text x="89.3" y="703.0" font-size="15.8" text-anchor="middle" stroke="#000" stroke-width="0.12"><tspan fill="#9a9a9a" stroke="#9a9a9a">−</tspan>14</text>
<line x1="129.8" y1="675.7" x2="129.8" y2="682.7" stroke="#000" stroke-width="1.7"/>
<text x="129.8" y="703.0" font-size="15.8" text-anchor="middle" stroke="#000" stroke-width="0.12"><tspan fill="#9a9a9a" stroke="#9a9a9a">−</tspan>13</text>
<line x1="170.2" y1="675.7" x2="170.2" y2="682.7" stroke="#000" stroke-width="1.7"/>
<text x="170.2" y="703.0" font-size="15.8" text-anchor="middle" stroke="#000" stroke-width="0.12"><tspan fill="#9a9a9a" stroke="#9a9a9a">−</tspan>12</text>
<line x1="210.7" y1="675.7" x2="210.7" y2="682.7" stroke="#000" stroke-width="1.7"/>
<text x="210.7" y="703.0" font-size="15.8" text-anchor="middle" stroke="#000" stroke-width="0.12"><tspan fill="#9a9a9a" stroke="#9a9a9a">−</tspan>11</text>
<line x1="251.1" y1="675.7" x2="251.1" y2="682.7" stroke="#000" stroke-width="1.7"/>
<text x="251.1" y="703.0" font-size="15.8" text-anchor="middle" stroke="#000" stroke-width="0.12"><tspan fill="#9a9a9a" stroke="#9a9a9a">−</tspan>10</text>
<line x1="291.5" y1="675.7" x2="291.5" y2="682.7" stroke="#000" stroke-width="1.7"/>
<text x="291.5" y="703.0" font-size="15.8" text-anchor="middle" stroke="#000" stroke-width="0.12"><tspan fill="#9a9a9a" stroke="#9a9a9a">−</tspan>9</text>
<line x1="332.0" y1="675.7" x2="332.0" y2="682.7" stroke="#000" stroke-width="1.7"/>
<text x="332.0" y="703.0" font-size="15.8" text-anchor="middle" stroke="#000" stroke-width="0.12"><tspan fill="#9a9a9a" stroke="#9a9a9a">−</tspan>8</text>
<line x1="372.4" y1="675.7" x2="372.4" y2="682.7" stroke="#000" stroke-width="1.7"/>
<text x="372.4" y="703.0" font-size="15.8" text-anchor="middle" stroke="#000" stroke-width="0.12"><tspan fill="#9a9a9a" stroke="#9a9a9a">−</tspan>7</text>
<line x1="412.9" y1="675.7" x2="412.9" y2="682.7" stroke="#000" stroke-width="1.7"/>
<text x="412.9" y="703.0" font-size="15.8" text-anchor="middle" stroke="#000" stroke-width="0.12"><tspan fill="#9a9a9a" stroke="#9a9a9a">−</tspan>6</text>
<line x1="453.3" y1="675.7" x2="453.3" y2="682.7" stroke="#000" stroke-width="1.7"/>
<text x="453.3" y="703.0" font-size="15.8" text-anchor="middle" stroke="#000" stroke-width="0.12"><tspan fill="#9a9a9a" stroke="#9a9a9a">−</tspan>5</text>
<line x1="493.7" y1="675.7" x2="493.7" y2="682.7" stroke="#000" stroke-width="1.7"/>
<text x="493.7" y="703.0" font-size="15.8" text-anchor="middle" stroke="#000" stroke-width="0.12"><tspan fill="#9a9a9a" stroke="#9a9a9a">−</tspan>4</text>
<line x1="534.2" y1="675.7" x2="534.2" y2="682.7" stroke="#000" stroke-width="1.7"/>
<text x="534.2" y="703.0" font-size="15.8" text-anchor="middle" stroke="#000" stroke-width="0.12"><tspan fill="#9a9a9a" stroke="#9a9a9a">−</tspan>3</text>
<line x1="574.6" y1="675.7" x2="574.6" y2="682.7" stroke="#000" stroke-width="1.7"/>
<text x="574.6" y="703.0" font-size="15.8" text-anchor="middle" stroke="#000" stroke-width="0.12"><tspan fill="#9a9a9a" stroke="#9a9a9a">−</tspan>2</text>
<line x1="615.1" y1="675.7" x2="615.1" y2="682.7" stroke="#000" stroke-width="1.7"/>
<text x="615.1" y="703.0" font-size="15.8" text-anchor="middle" stroke="#000" stroke-width="0.12"><tspan fill="#9a9a9a" stroke="#9a9a9a">−</tspan>1</text>
<line x1="655.5" y1="675.7" x2="655.5" y2="682.7" stroke="#000" stroke-width="1.7"/>
<text x="655.5" y="703.0" font-size="15.8" text-anchor="middle" stroke="#000" stroke-width="0.12">0</text>
<line x1="695.9" y1="675.7" x2="695.9" y2="682.7" stroke="#000" stroke-width="1.7"/>
<text x="695.9" y="703.0" font-size="15.8" text-anchor="middle" stroke="#000" stroke-width="0.12">1</text>
<line x1="736.4" y1="675.7" x2="736.4" y2="682.7" stroke="#000" stroke-width="1.7"/>
<text x="736.4" y="703.0" font-size="15.8" text-anchor="middle" stroke="#000" stroke-width="0.12">2</text>
<line x1="776.8" y1="675.7" x2="776.8" y2="682.7" stroke="#000" stroke-width="1.7"/>
<text x="776.8" y="703.0" font-size="15.8" text-anchor="middle" stroke="#000" stroke-width="0.12">3</text>
<line x1="817.3" y1="675.7" x2="817.3" y2="682.7" stroke="#000" stroke-width="1.7"/>
<text x="817.3" y="703.0" font-size="15.8" text-anchor="middle" stroke="#000" stroke-width="0.12">4</text>
<line x1="857.7" y1="675.7" x2="857.7" y2="682.7" stroke="#000" stroke-width="1.7"/>
<text x="857.7" y="703.0" font-size="15.8" text-anchor="middle" stroke="#000" stroke-width="0.12">5</text>
<line x1="898.1" y1="675.7" x2="898.1" y2="682.7" stroke="#000" stroke-width="1.7"/>
<text x="898.1" y="703.0" font-size="15.8" text-anchor="middle" stroke="#000" stroke-width="0.12">6</text>
<line x1="938.6" y1="675.7" x2="938.6" y2="682.7" stroke="#000" stroke-width="1.7"/>
<text x="938.6" y="703.0" font-size="15.8" text-anchor="middle" stroke="#000" stroke-width="0.12">7</text>
<line x1="979.0" y1="675.7" x2="979.0" y2="682.7" stroke="#000" stroke-width="1.7"/>
<text x="979.0" y="703.0" font-size="15.8" text-anchor="middle" stroke="#000" stroke-width="0.12">8</text>
<line x1="1019.5" y1="675.7" x2="1019.5" y2="682.7" stroke="#000" stroke-width="1.7"/>
<text x="1019.5" y="703.0" font-size="15.8" text-anchor="middle" stroke="#000" stroke-width="0.12">9</text>
<line x1="1059.9" y1="675.7" x2="1059.9" y2="682.7" stroke="#000" stroke-width="1.7"/>
<text x="1059.9" y="703.0" font-size="15.8" text-anchor="middle" stroke="#000" stroke-width="0.12">10</text>
<line x1="1100.3" y1="675.7" x2="1100.3" y2="682.7" stroke="#000" stroke-width="1.7"/>
<text x="1100.3" y="703.0" font-size="15.8" text-anchor="middle" stroke="#000" stroke-width="0.12">11</text>
<line x1="1140.8" y1="675.7" x2="1140.8" y2="682.7" stroke="#000" stroke-width="1.7"/>
<text x="1140.8" y="703.0" font-size="15.8" text-anchor="middle" stroke="#000" stroke-width="0.12">12</text>
<line x1="1181.2" y1="675.7" x2="1181.2" y2="682.7" stroke="#000" stroke-width="1.7"/>
<text x="1181.2" y="703.0" font-size="15.8" text-anchor="middle" stroke="#000" stroke-width="0.12">13</text>
<line x1="1221.7" y1="675.7" x2="1221.7" y2="682.7" stroke="#000" stroke-width="1.7"/>
<text x="1221.7" y="703.0" font-size="15.8" text-anchor="middle" stroke="#000" stroke-width="0.12">14</text>
<text transform="translate(40.8,362) rotate(-90)" x="0" y="0" font-size="22" font-weight="bold" text-anchor="middle" textLength="150" lengthAdjust="spacingAndGlyphs">-log10 p-value</text>
<text x="578.4" y="735.9" font-size="21.5" font-weight="bold" textLength="180.6" lengthAdjust="spacingAndGlyphs">log2 fold change</text>
<circle cx="1295.5" cy="64.3" r="7.1" fill="#4b7fbf"/>
<circle cx="1295.5" cy="85.1" r="8.8" fill="#d8716a"/>
<text x="1319" y="70.4" font-size="13.8" fill="#454545" textLength="98" lengthAdjust="spacingAndGlyphs">Not Significant</text>
<text x="1319" y="90.8" font-size="13.8" fill="#454545" textLength="70" lengthAdjust="spacingAndGlyphs">Significant</text>
<text x="331.0" y="841.7" font-size="55.5" stroke="#000" stroke-width="0.35" textLength="218.6" lengthAdjust="spacingAndGlyphs">HBD2+V8</text>
<text x="566.2" y="841.7" font-size="55.5" stroke="#000" stroke-width="0.35" textLength="140.7" lengthAdjust="spacingAndGlyphs">versus</text>
<text x="717.1" y="841.7" font-size="55.5" stroke="#000" stroke-width="0.35" textLength="58.4" lengthAdjust="spacingAndGlyphs">V8</text>
<text x="789.8" y="841.7" font-size="55.5" stroke="#000" stroke-width="0.35" textLength="301.2" lengthAdjust="spacingAndGlyphs">(secretomics)</text>
<text x="29.0" y="790" font-size="45" textLength="28.0" lengthAdjust="spacingAndGlyphs">b</text>
<line x1="77.5" y1="1428.9" x2="82.8" y2="1428.9" stroke="#000" stroke-width="1.7"/>
<text x="74" y="1434.3" font-size="15.3" text-anchor="end" stroke="#000" stroke-width="0.12">0</text>
<line x1="77.5" y1="1364.1" x2="82.8" y2="1364.1" stroke="#000" stroke-width="1.7"/>
<text x="74" y="1369.5" font-size="15.3" text-anchor="end" stroke="#000" stroke-width="0.12">0.5</text>
<line x1="77.5" y1="1299.3" x2="82.8" y2="1299.3" stroke="#000" stroke-width="1.7"/>
<text x="74" y="1304.7" font-size="15.3" text-anchor="end" stroke="#000" stroke-width="0.12">1</text>
<line x1="77.5" y1="1234.5" x2="82.8" y2="1234.5" stroke="#000" stroke-width="1.7"/>
<text x="74" y="1239.9" font-size="15.3" text-anchor="end" stroke="#000" stroke-width="0.12">1.5</text>
<line x1="77.5" y1="1169.7" x2="82.8" y2="1169.7" stroke="#000" stroke-width="1.7"/>
<text x="74" y="1175.1" font-size="15.3" text-anchor="end" stroke="#000" stroke-width="0.12">2</text>
<line x1="77.5" y1="1104.9" x2="82.8" y2="1104.9" stroke="#000" stroke-width="1.7"/>
<text x="74" y="1110.3" font-size="15.3" text-anchor="end" stroke="#000" stroke-width="0.12">2.5</text>
<line x1="77.5" y1="1040.1" x2="82.8" y2="1040.1" stroke="#000" stroke-width="1.7"/>
<text x="74" y="1045.5" font-size="15.3" text-anchor="end" stroke="#000" stroke-width="0.12">3</text>
<line x1="77.5" y1="975.3" x2="82.8" y2="975.3" stroke="#000" stroke-width="1.7"/>
<text x="74" y="980.7" font-size="15.3" text-anchor="end" stroke="#000" stroke-width="0.12">3.5</text>
<line x1="77.5" y1="910.5" x2="82.8" y2="910.5" stroke="#000" stroke-width="1.7"/>
<text x="74" y="915.9" font-size="15.3" text-anchor="end" stroke="#000" stroke-width="0.12">4</text>
<line x1="77.5" y1="845.7" x2="82.8" y2="845.7" stroke="#000" stroke-width="1.7"/>
<text x="74" y="851.1" font-size="15.3" text-anchor="end" stroke="#000" stroke-width="0.12">4.5</text>
<line x1="170.8" y1="1428.9" x2="170.8" y2="1434.9" stroke="#000" stroke-width="1.7"/>
<text x="170.8" y="1453.8" font-size="15.3" text-anchor="middle" stroke="#000" stroke-width="0.12"><tspan fill="#000" stroke="#000">−</tspan>5</text>
<line x1="267.8" y1="1428.9" x2="267.8" y2="1434.9" stroke="#000" stroke-width="1.7"/>
<text x="267.8" y="1453.8" font-size="15.3" text-anchor="middle" stroke="#000" stroke-width="0.12"><tspan fill="#000" stroke="#000">−</tspan>4</text>
<line x1="364.8" y1="1428.9" x2="364.8" y2="1434.9" stroke="#000" stroke-width="1.7"/>
<text x="364.8" y="1453.8" font-size="15.3" text-anchor="middle" stroke="#000" stroke-width="0.12"><tspan fill="#000" stroke="#000">−</tspan>3</text>
<line x1="461.8" y1="1428.9" x2="461.8" y2="1434.9" stroke="#000" stroke-width="1.7"/>
<text x="461.8" y="1453.8" font-size="15.3" text-anchor="middle" stroke="#000" stroke-width="0.12"><tspan fill="#000" stroke="#000">−</tspan>2</text>
<line x1="558.8" y1="1428.9" x2="558.8" y2="1434.9" stroke="#000" stroke-width="1.7"/>
<text x="558.8" y="1453.8" font-size="15.3" text-anchor="middle" stroke="#000" stroke-width="0.12"><tspan fill="#000" stroke="#000">−</tspan>1</text>
<line x1="655.8" y1="1428.9" x2="655.8" y2="1434.9" stroke="#000" stroke-width="1.7"/>
<text x="655.8" y="1453.8" font-size="15.3" text-anchor="middle" stroke="#000" stroke-width="0.12">0</text>
<line x1="752.8" y1="1428.9" x2="752.8" y2="1434.9" stroke="#000" stroke-width="1.7"/>
<text x="752.8" y="1453.8" font-size="15.3" text-anchor="middle" stroke="#000" stroke-width="0.12">1</text>
<line x1="849.8" y1="1428.9" x2="849.8" y2="1434.9" stroke="#000" stroke-width="1.7"/>
<text x="849.8" y="1453.8" font-size="15.3" text-anchor="middle" stroke="#000" stroke-width="0.12">2</text>
<line x1="946.8" y1="1428.9" x2="946.8" y2="1434.9" stroke="#000" stroke-width="1.7"/>
<text x="946.8" y="1453.8" font-size="15.3" text-anchor="middle" stroke="#000" stroke-width="0.12">3</text>
<line x1="1043.8" y1="1428.9" x2="1043.8" y2="1434.9" stroke="#000" stroke-width="1.7"/>
<text x="1043.8" y="1453.8" font-size="15.3" text-anchor="middle" stroke="#000" stroke-width="0.12">4</text>
<line x1="1140.8" y1="1428.9" x2="1140.8" y2="1434.9" stroke="#000" stroke-width="1.7"/>
<text x="1140.8" y="1453.8" font-size="15.3" text-anchor="middle" stroke="#000" stroke-width="0.12">5</text>
<text transform="translate(36.5,1119) rotate(-90)" x="0" y="0" font-size="22" font-weight="bold" text-anchor="middle" textLength="149" lengthAdjust="spacingAndGlyphs">-log10 p-value</text>
<text x="563" y="1487.7" font-size="21.5" font-weight="bold" textLength="176.5" lengthAdjust="spacingAndGlyphs">log2 fold change</text>
<circle cx="1265" cy="824.5" r="6.8" fill="#4b7fbf"/>
<circle cx="1265" cy="845.6" r="8.85" fill="#d8716a"/>
<text x="1288" y="830.6" font-size="14" fill="#454545" textLength="96.4" lengthAdjust="spacingAndGlyphs">Not Significant</text>
<text x="1288" y="851" font-size="14" fill="#454545" textLength="68" lengthAdjust="spacingAndGlyphs">Significant</text>
<text x="356.9" y="1620" font-size="55" stroke="#000" stroke-width="0.35" textLength="220.6" lengthAdjust="spacingAndGlyphs">HBD2+V8</text>
<text x="589.8" y="1620" font-size="55" stroke="#000" stroke-width="0.35" textLength="142.8" lengthAdjust="spacingAndGlyphs">versus</text>
<text x="744.5" y="1620" font-size="55" stroke="#000" stroke-width="0.35" textLength="58.6" lengthAdjust="spacingAndGlyphs">V8</text>
<text x="815.0" y="1620" font-size="55" stroke="#000" stroke-width="0.35" textLength="289.6" lengthAdjust="spacingAndGlyphs">(proteomics)</text>
<text x="31.2" y="1566.5" font-size="48" textLength="26.0" lengthAdjust="spacingAndGlyphs">c</text>
<line x1="76.2" y1="2275.1" x2="82" y2="2275.1" stroke="#000" stroke-width="2.2"/>
<text x="72.6" y="2280.9" font-size="16.2" text-anchor="end" stroke="#000" stroke-width="0.35">0</text>
<line x1="76.2" y1="2197.4" x2="82" y2="2197.4" stroke="#000" stroke-width="2.2"/>
<text x="72.6" y="2203.2" font-size="16.2" text-anchor="end" stroke="#000" stroke-width="0.35">0.5</text>
<line x1="76.2" y1="2119.8" x2="82" y2="2119.8" stroke="#000" stroke-width="2.2"/>
<text x="72.6" y="2125.6" font-size="16.2" text-anchor="end" stroke="#000" stroke-width="0.35">1</text>
<line x1="76.2" y1="2042.1" x2="82" y2="2042.1" stroke="#000" stroke-width="2.2"/>
<text x="72.6" y="2047.9" font-size="16.2" text-anchor="end" stroke="#000" stroke-width="0.35">1.5</text>
<line x1="76.2" y1="1964.5" x2="82" y2="1964.5" stroke="#000" stroke-width="2.2"/>
<text x="72.6" y="1970.3" font-size="16.2" text-anchor="end" stroke="#000" stroke-width="0.35">2</text>
<line x1="76.2" y1="1886.8" x2="82" y2="1886.8" stroke="#000" stroke-width="2.2"/>
<text x="72.6" y="1892.6" font-size="16.2" text-anchor="end" stroke="#000" stroke-width="0.35">2.5</text>
<line x1="76.2" y1="1809.2" x2="82" y2="1809.2" stroke="#000" stroke-width="2.2"/>
<text x="72.6" y="1815.0" font-size="16.2" text-anchor="end" stroke="#000" stroke-width="0.35">3</text>
<line x1="76.2" y1="1731.5" x2="82" y2="1731.5" stroke="#000" stroke-width="2.2"/>
<text x="72.6" y="1737.3" font-size="16.2" text-anchor="end" stroke="#000" stroke-width="0.35">3.5</text>
<line x1="76.2" y1="1653.9" x2="82" y2="1653.9" stroke="#000" stroke-width="2.2"/>
<text x="72.6" y="1659.7" font-size="16.2" text-anchor="end" stroke="#000" stroke-width="0.35">4</text>
<line x1="82.9" y1="2275.1" x2="82.9" y2="2282.1" stroke="#000" stroke-width="2.2"/>
<text x="82.9" y="2303.0" font-size="16.2" text-anchor="middle" stroke="#000" stroke-width="0.35"><tspan fill="#000" stroke="#000">−</tspan>4</text>
<line x1="232.8" y1="2275.1" x2="232.8" y2="2282.1" stroke="#000" stroke-width="2.2"/>
<text x="232.8" y="2303.0" font-size="16.2" text-anchor="middle" stroke="#000" stroke-width="0.35"><tspan fill="#000" stroke="#000">−</tspan>3</text>
<line x1="382.7" y1="2275.1" x2="382.7" y2="2282.1" stroke="#000" stroke-width="2.2"/>
<text x="382.7" y="2303.0" font-size="16.2" text-anchor="middle" stroke="#000" stroke-width="0.35"><tspan fill="#000" stroke="#000">−</tspan>2</text>
<line x1="532.6" y1="2275.1" x2="532.6" y2="2282.1" stroke="#000" stroke-width="2.2"/>
<text x="532.6" y="2303.0" font-size="16.2" text-anchor="middle" stroke="#000" stroke-width="0.35"><tspan fill="#000" stroke="#000">−</tspan>1</text>
<line x1="682.5" y1="2275.1" x2="682.5" y2="2282.1" stroke="#000" stroke-width="2.2"/>
<text x="682.5" y="2303.0" font-size="16.2" text-anchor="middle" stroke="#000" stroke-width="0.35">0</text>
<line x1="832.4" y1="2275.1" x2="832.4" y2="2282.1" stroke="#000" stroke-width="2.2"/>
<text x="832.4" y="2303.0" font-size="16.2" text-anchor="middle" stroke="#000" stroke-width="0.35">1</text>
<line x1="982.3" y1="2275.1" x2="982.3" y2="2282.1" stroke="#000" stroke-width="2.2"/>
<text x="982.3" y="2303.0" font-size="16.2" text-anchor="middle" stroke="#000" stroke-width="0.35">2</text>
<line x1="1132.2" y1="2275.1" x2="1132.2" y2="2282.1" stroke="#000" stroke-width="2.2"/>
<text x="1132.2" y="2303.0" font-size="16.2" text-anchor="middle" stroke="#000" stroke-width="0.35">3</text>
<line x1="1282.1" y1="2275.1" x2="1282.1" y2="2282.1" stroke="#000" stroke-width="2.2"/>
<text x="1282.1" y="2303.0" font-size="16.2" text-anchor="middle" stroke="#000" stroke-width="0.35">4</text>
<text transform="translate(32.6,1964.8) rotate(-90)" x="0" y="0" font-size="23" font-weight="bold" text-anchor="middle" textLength="155" lengthAdjust="spacingAndGlyphs">-log10 p-value</text>
<text x="590" y="2337.5" font-size="22" font-weight="bold" textLength="185.5" lengthAdjust="spacingAndGlyphs">log2 fold change</text>
<circle cx="1330.5" cy="1669.8" r="8.6" fill="#4b7fbf"/>
<circle cx="1330.5" cy="1692.3" r="9.4" fill="#d8716a"/>
<text x="1354" y="1676.7" font-size="14.3" fill="#454545" textLength="102" lengthAdjust="spacingAndGlyphs">Not Significant</text>
<text x="1354" y="1697.4" font-size="14.3" fill="#454545" textLength="73" lengthAdjust="spacingAndGlyphs">Significant</text>
</svg>
</body></html>
